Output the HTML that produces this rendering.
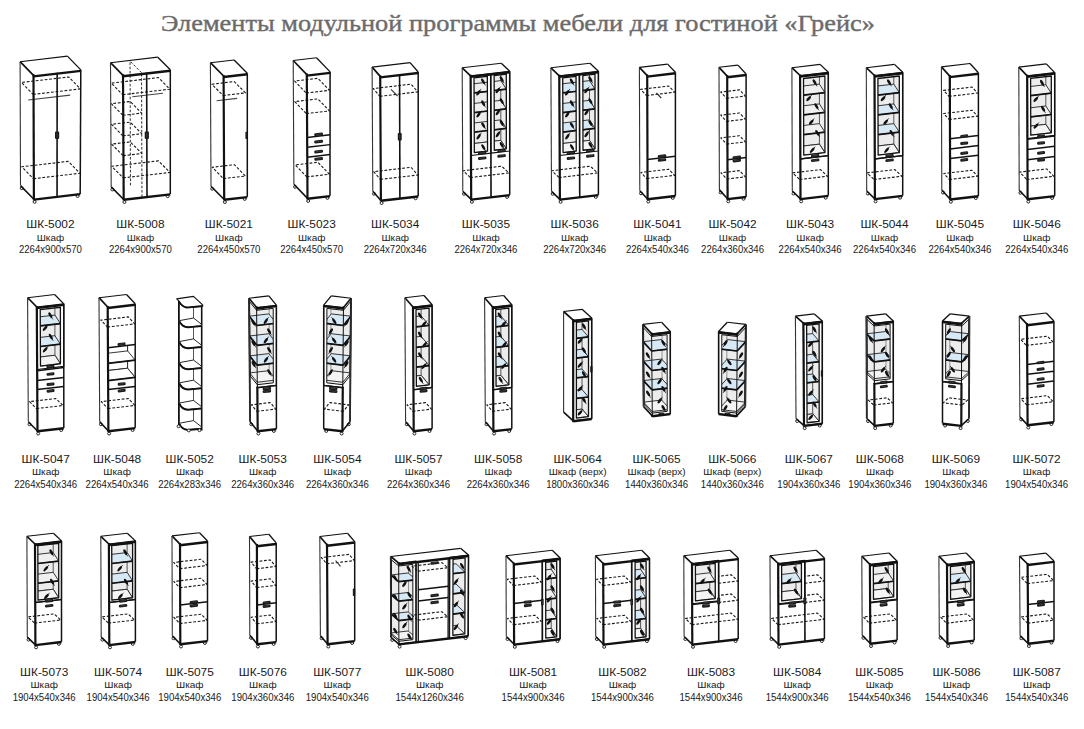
<!DOCTYPE html>
<html><head><meta charset="utf-8"><title>Грейс</title>
<style>html,body{margin:0;padding:0;background:#fff;}svg{display:block;}</style></head>
<body><svg width="1084" height="729" viewBox="0 0 1084 729">
<rect width="1084" height="729" fill="#fff"/>
<text x="161" y="31" font-family="Liberation Serif" font-size="23.5" text-anchor="start" fill="#6b6b6b" font-weight="normal" textLength="714" lengthAdjust="spacingAndGlyphs" stroke="#6b6b6b" stroke-width="0.4">Элементы модульной программы мебели для гостиной «Грейс»</text>
<polygon points="33.9,199.3 33.5,75.4 20.1,61.7 20.5,185.6" fill="#fff" stroke-linejoin="round"/>
<polygon points="33.5,75.4 80.8,69.87 67.4,56.17 20.1,61.7" fill="#fff" stroke-linejoin="round"/>
<polygon points="33.9,199.3 80.2,193.88 80.8,69.87 33.5,75.4" fill="#fff" stroke-linejoin="round"/>
<polygon points="33.16,94.4 80.3,88.88 68.65,76.97 21.5,82.48" fill="none" stroke="#1a1a1a" stroke-width="1.1" stroke-dasharray="2.8 1.7" stroke-linejoin="round"/>
<polygon points="33.43,178.7 79.9,173.26 68.24,161.34 21.77,166.78" fill="none" stroke="#1a1a1a" stroke-width="1.1" stroke-dasharray="2.8 1.7" stroke-linejoin="round"/>
<line x1="28.24" y1="100.02" x2="70.12" y2="95.12" stroke="#444" stroke-width="1.1" stroke-linecap="butt"/>
<line x1="57.05" y1="196.59" x2="57.15" y2="72.63" stroke="#111" stroke-width="1.6" stroke-linecap="butt"/>
<rect x="55" y="131.61" width="4.2" height="7.3" rx="0.8" fill="#1a1a1a"/>
<line x1="57.1" y1="132.81" x2="57.1" y2="137.71" stroke="#555" stroke-width="0.5"/>
<ellipse cx="34.6" cy="201.9" rx="1.5" ry="1.4" fill="#fff" stroke="#111" stroke-width="0.9"/>
<ellipse cx="77.6" cy="196.08" rx="1.5" ry="1.4" fill="#fff" stroke="#111" stroke-width="0.9"/>
<ellipse cx="21.7" cy="188.2" rx="1.5" ry="1.4" fill="#fff" stroke="#111" stroke-width="0.9"/>
<line x1="33.9" y1="199.6" x2="80.2" y2="194.18" stroke="#111" stroke-width="2.4" stroke-linecap="butt"/>
<line x1="33.9" y1="199.3" x2="20.5" y2="185.6" stroke="#111" stroke-width="1.6" stroke-linecap="butt"/>
<line x1="33.9" y1="199.3" x2="33.5" y2="75.4" stroke="#111" stroke-width="2.2" stroke-linecap="square"/>
<line x1="80.2" y1="193.88" x2="80.8" y2="69.87" stroke="#111" stroke-width="1.5" stroke-linecap="butt"/>
<line x1="33.5" y1="76.4" x2="80.8" y2="70.87" stroke="#111" stroke-width="2.4" stroke-linecap="butt"/>
<line x1="33.5" y1="75.4" x2="20.1" y2="61.7" stroke="#111" stroke-width="1.7" stroke-linecap="butt"/>
<line x1="20.1" y1="61.7" x2="67.4" y2="56.17" stroke="#111" stroke-width="1.1" stroke-linecap="butt"/>
<line x1="67.4" y1="56.17" x2="80.8" y2="69.87" stroke="#111" stroke-width="1.3" stroke-linecap="butt"/>
<line x1="20.1" y1="61.7" x2="20.5" y2="185.6" stroke="#333" stroke-width="1.1" stroke-linecap="butt"/>
<text x="50.45" y="227.8" font-family="Liberation Sans" font-size="11.7" text-anchor="middle" fill="#1a1a1a" font-weight="normal" textLength="48.2" lengthAdjust="spacingAndGlyphs">ШК-5002</text>
<text x="50.45" y="240.7" font-family="Liberation Sans" font-size="9.4" text-anchor="middle" fill="#1a1a1a" font-weight="normal" textLength="27.5" lengthAdjust="spacingAndGlyphs">Шкаф</text>
<text x="50.45" y="253.2" font-family="Liberation Sans" font-size="10.1" text-anchor="middle" fill="#1a1a1a" font-weight="normal" textLength="63" lengthAdjust="spacingAndGlyphs">2264x900x570</text>
<polygon points="123.7,199.5 123,75.3 110.5,62.7 111.2,186.9" fill="#fff" stroke-linejoin="round"/>
<polygon points="123,75.3 170.3,69.77 157.8,57.17 110.5,62.7" fill="#fff" stroke-linejoin="round"/>
<polygon points="123.7,199.5 170.3,194.05 170.3,69.77 123,75.3" fill="#fff" stroke-linejoin="round"/>
<polygon points="122.74,94.7 169.93,89.18 158.43,77.59 111.24,83.11" fill="none" stroke="#1a1a1a" stroke-width="1.1" stroke-dasharray="2.8 1.7" stroke-linejoin="round"/>
<polygon points="123.21,177.9 169.93,172.43 158.43,160.84 111.71,166.31" fill="none" stroke="#1a1a1a" stroke-width="1.1" stroke-dasharray="2.8 1.7" stroke-linejoin="round"/>
<polygon points="122.85,115.3 141.68,113.1 130.18,101.51 111.35,103.71" fill="none" stroke="#1a1a1a" stroke-width="1.1" stroke-dasharray="2.8 1.7" stroke-linejoin="round"/>
<polygon points="122.97,135.9 141.75,133.7 130.25,122.11 111.47,124.31" fill="none" stroke="#1a1a1a" stroke-width="1.1" stroke-dasharray="2.8 1.7" stroke-linejoin="round"/>
<polygon points="123.08,155.7 141.82,153.51 130.32,141.92 111.58,144.11" fill="none" stroke="#1a1a1a" stroke-width="1.1" stroke-dasharray="2.8 1.7" stroke-linejoin="round"/>
<line x1="141.97" y1="196.94" x2="141.55" y2="72.71" stroke="#222" stroke-width="0.95" stroke-dasharray="2.6 1.7" stroke-linecap="butt"/>
<line x1="130.47" y1="185.35" x2="130.05" y2="61.12" stroke="#222" stroke-width="0.95" stroke-dasharray="2.6 1.7" stroke-linecap="butt"/>
<line x1="141.55" y1="72.71" x2="130.05" y2="61.12" stroke="#222" stroke-width="0.95" stroke-dasharray="2.6 1.7" stroke-linecap="butt"/>
<line x1="132.3" y1="96.81" x2="162.94" y2="93.22" stroke="#444" stroke-width="1.1" stroke-linecap="butt"/>
<line x1="147" y1="196.77" x2="146.65" y2="72.53" stroke="#111" stroke-width="1.6" stroke-linecap="butt"/>
<rect x="144.73" y="131.6" width="4.2" height="7.3" rx="0.8" fill="#1a1a1a"/>
<line x1="146.83" y1="132.8" x2="146.83" y2="137.7" stroke="#555" stroke-width="0.5"/>
<ellipse cx="124.4" cy="202.1" rx="1.5" ry="1.4" fill="#fff" stroke="#111" stroke-width="0.9"/>
<ellipse cx="167.7" cy="196.25" rx="1.5" ry="1.4" fill="#fff" stroke="#111" stroke-width="0.9"/>
<ellipse cx="112.4" cy="189.5" rx="1.5" ry="1.4" fill="#fff" stroke="#111" stroke-width="0.9"/>
<line x1="123.7" y1="199.8" x2="170.3" y2="194.35" stroke="#111" stroke-width="2.4" stroke-linecap="butt"/>
<line x1="123.7" y1="199.5" x2="111.2" y2="186.9" stroke="#111" stroke-width="1.6" stroke-linecap="butt"/>
<line x1="123.7" y1="199.5" x2="123" y2="75.3" stroke="#111" stroke-width="2.2" stroke-linecap="square"/>
<line x1="170.3" y1="194.05" x2="170.3" y2="69.77" stroke="#111" stroke-width="1.5" stroke-linecap="butt"/>
<line x1="123" y1="76.3" x2="170.3" y2="70.77" stroke="#111" stroke-width="2.4" stroke-linecap="butt"/>
<line x1="123" y1="75.3" x2="110.5" y2="62.7" stroke="#111" stroke-width="1.7" stroke-linecap="butt"/>
<line x1="110.5" y1="62.7" x2="157.8" y2="57.17" stroke="#111" stroke-width="1.1" stroke-linecap="butt"/>
<line x1="157.8" y1="57.17" x2="170.3" y2="69.77" stroke="#111" stroke-width="1.3" stroke-linecap="butt"/>
<line x1="110.5" y1="62.7" x2="111.2" y2="186.9" stroke="#333" stroke-width="1.1" stroke-linecap="butt"/>
<text x="140.4" y="227.8" font-family="Liberation Sans" font-size="11.7" text-anchor="middle" fill="#1a1a1a" font-weight="normal" textLength="48.2" lengthAdjust="spacingAndGlyphs">ШК-5008</text>
<text x="140.4" y="240.7" font-family="Liberation Sans" font-size="9.4" text-anchor="middle" fill="#1a1a1a" font-weight="normal" textLength="27.5" lengthAdjust="spacingAndGlyphs">Шкаф</text>
<text x="140.4" y="253.2" font-family="Liberation Sans" font-size="10.1" text-anchor="middle" fill="#1a1a1a" font-weight="normal" textLength="63" lengthAdjust="spacingAndGlyphs">2264x900x570</text>
<polygon points="224.2,199.5 223.6,76 210.4,62.7 211,186.2" fill="#fff" stroke-linejoin="round"/>
<polygon points="223.6,76 247.3,73.23 234.1,59.93 210.4,62.7" fill="#fff" stroke-linejoin="round"/>
<polygon points="224.2,199.5 247.3,196.8 247.3,73.23 223.6,76" fill="#fff" stroke-linejoin="round"/>
<polygon points="223.04,95.5 245.46,92.88 234.24,81.57 211.82,84.2" fill="none" stroke="#1a1a1a" stroke-width="1.1" stroke-dasharray="2.8 1.7" stroke-linejoin="round"/>
<polygon points="223.44,178.6 245.48,176.02 234.26,164.72 212.22,167.29" fill="none" stroke="#1a1a1a" stroke-width="1.1" stroke-dasharray="2.8 1.7" stroke-linejoin="round"/>
<line x1="216.63" y1="100.82" x2="237.11" y2="98.42" stroke="#444" stroke-width="1.1" stroke-linecap="butt"/>
<rect x="245.4" y="131.74" width="2.4" height="7.2" rx="0.8" fill="#1a1a1a"/>
<line x1="246.6" y1="132.94" x2="246.6" y2="137.74" stroke="#555" stroke-width="0.5"/>
<ellipse cx="224.9" cy="202.1" rx="1.5" ry="1.4" fill="#fff" stroke="#111" stroke-width="0.9"/>
<ellipse cx="244.7" cy="199" rx="1.5" ry="1.4" fill="#fff" stroke="#111" stroke-width="0.9"/>
<ellipse cx="212.2" cy="188.8" rx="1.5" ry="1.4" fill="#fff" stroke="#111" stroke-width="0.9"/>
<line x1="224.2" y1="199.8" x2="247.3" y2="197.1" stroke="#111" stroke-width="2.4" stroke-linecap="butt"/>
<line x1="224.2" y1="199.5" x2="211" y2="186.2" stroke="#111" stroke-width="1.6" stroke-linecap="butt"/>
<line x1="224.2" y1="199.5" x2="223.6" y2="76" stroke="#111" stroke-width="2.2" stroke-linecap="square"/>
<line x1="247.3" y1="196.8" x2="247.3" y2="73.23" stroke="#111" stroke-width="1.5" stroke-linecap="butt"/>
<line x1="223.6" y1="77" x2="247.3" y2="74.23" stroke="#111" stroke-width="2.4" stroke-linecap="butt"/>
<line x1="223.6" y1="76" x2="210.4" y2="62.7" stroke="#111" stroke-width="1.7" stroke-linecap="butt"/>
<line x1="210.4" y1="62.7" x2="234.1" y2="59.93" stroke="#111" stroke-width="1.1" stroke-linecap="butt"/>
<line x1="234.1" y1="59.93" x2="247.3" y2="73.23" stroke="#111" stroke-width="1.3" stroke-linecap="butt"/>
<line x1="210.4" y1="62.7" x2="211" y2="186.2" stroke="#333" stroke-width="1.1" stroke-linecap="butt"/>
<text x="228.85" y="227.8" font-family="Liberation Sans" font-size="11.7" text-anchor="middle" fill="#1a1a1a" font-weight="normal" textLength="48.2" lengthAdjust="spacingAndGlyphs">ШК-5021</text>
<text x="228.85" y="240.7" font-family="Liberation Sans" font-size="9.4" text-anchor="middle" fill="#1a1a1a" font-weight="normal" textLength="27.5" lengthAdjust="spacingAndGlyphs">Шкаф</text>
<text x="228.85" y="253.2" font-family="Liberation Sans" font-size="10.1" text-anchor="middle" fill="#1a1a1a" font-weight="normal" textLength="63" lengthAdjust="spacingAndGlyphs">2264x450x570</text>
<polygon points="307.5,198.4 306.8,74.6 293.2,60.5 293.9,184.3" fill="#fff" stroke-linejoin="round"/>
<polygon points="306.8,74.6 330.1,71.87 316.5,57.77 293.2,60.5" fill="#fff" stroke-linejoin="round"/>
<polygon points="307.5,198.4 330,195.77 330.1,71.87 306.8,74.6" fill="#fff" stroke-linejoin="round"/>
<polygon points="306.23,93 329.4,90.29 317.84,78.3 294.67,81.02" fill="none" stroke="#1a1a1a" stroke-width="1.1" stroke-dasharray="2.8 1.7" stroke-linejoin="round"/>
<polygon points="306.34,113.6 329.39,110.9 317.83,98.92 294.78,101.61" fill="none" stroke="#1a1a1a" stroke-width="1.1" stroke-dasharray="2.8 1.7" stroke-linejoin="round"/>
<polygon points="306.7,176.9 329.34,174.25 317.78,162.27 295.14,164.92" fill="none" stroke="#1a1a1a" stroke-width="1.1" stroke-dasharray="2.8 1.7" stroke-linejoin="round"/>
<line x1="307.16" y1="137.4" x2="330.05" y2="134.72" stroke="#111" stroke-width="1.5" stroke-linecap="butt"/>
<line x1="307.21" y1="147.3" x2="330.04" y2="144.63" stroke="#111" stroke-width="1.5" stroke-linecap="butt"/>
<line x1="307.27" y1="157.2" x2="330.03" y2="154.54" stroke="#111" stroke-width="1.5" stroke-linecap="butt"/>
<g transform="translate(318.6,134.26) rotate(-6.67)"><rect x="-4.4" y="-1.5" width="8.8" height="3" rx="1.2" fill="#1a1a1a"/><line x1="-2.9" y1="-0.2" x2="2.9" y2="-0.2" stroke="#555" stroke-width="0.5"/></g>
<g transform="translate(318.62,141.66) rotate(-6.67)"><rect x="-4.4" y="-1.5" width="8.8" height="3" rx="1.2" fill="#1a1a1a"/><line x1="-2.9" y1="-0.2" x2="2.9" y2="-0.2" stroke="#555" stroke-width="0.5"/></g>
<g transform="translate(318.64,151.57) rotate(-6.67)"><rect x="-4.4" y="-1.5" width="8.8" height="3" rx="1.2" fill="#1a1a1a"/><line x1="-2.9" y1="-0.2" x2="2.9" y2="-0.2" stroke="#555" stroke-width="0.5"/></g>
<g transform="translate(318.66,158.97) rotate(-6.67)"><rect x="-4.4" y="-1.5" width="8.8" height="3" rx="1.2" fill="#1a1a1a"/><line x1="-2.9" y1="-0.2" x2="2.9" y2="-0.2" stroke="#555" stroke-width="0.5"/></g>
<ellipse cx="308.2" cy="201" rx="1.5" ry="1.4" fill="#fff" stroke="#111" stroke-width="0.9"/>
<ellipse cx="327.4" cy="197.97" rx="1.5" ry="1.4" fill="#fff" stroke="#111" stroke-width="0.9"/>
<ellipse cx="295.1" cy="186.9" rx="1.5" ry="1.4" fill="#fff" stroke="#111" stroke-width="0.9"/>
<line x1="307.5" y1="198.7" x2="330" y2="196.07" stroke="#111" stroke-width="2.4" stroke-linecap="butt"/>
<line x1="307.5" y1="198.4" x2="293.9" y2="184.3" stroke="#111" stroke-width="1.6" stroke-linecap="butt"/>
<line x1="307.5" y1="198.4" x2="306.8" y2="74.6" stroke="#111" stroke-width="2.2" stroke-linecap="square"/>
<line x1="330" y1="195.77" x2="330.1" y2="71.87" stroke="#111" stroke-width="1.5" stroke-linecap="butt"/>
<line x1="306.8" y1="75.6" x2="330.1" y2="72.87" stroke="#111" stroke-width="2.4" stroke-linecap="butt"/>
<line x1="306.8" y1="74.6" x2="293.2" y2="60.5" stroke="#111" stroke-width="1.7" stroke-linecap="butt"/>
<line x1="293.2" y1="60.5" x2="316.5" y2="57.77" stroke="#111" stroke-width="1.1" stroke-linecap="butt"/>
<line x1="316.5" y1="57.77" x2="330.1" y2="71.87" stroke="#111" stroke-width="1.3" stroke-linecap="butt"/>
<line x1="293.2" y1="60.5" x2="293.9" y2="184.3" stroke="#333" stroke-width="1.1" stroke-linecap="butt"/>
<text x="311.65" y="227.8" font-family="Liberation Sans" font-size="11.7" text-anchor="middle" fill="#1a1a1a" font-weight="normal" textLength="48.2" lengthAdjust="spacingAndGlyphs">ШК-5023</text>
<text x="311.65" y="240.7" font-family="Liberation Sans" font-size="9.4" text-anchor="middle" fill="#1a1a1a" font-weight="normal" textLength="27.5" lengthAdjust="spacingAndGlyphs">Шкаф</text>
<text x="311.65" y="253.2" font-family="Liberation Sans" font-size="10.1" text-anchor="middle" fill="#1a1a1a" font-weight="normal" textLength="63" lengthAdjust="spacingAndGlyphs">2264x450x570</text>
<polygon points="380.9,200.5 380.2,76.4 372.1,67.1 372.8,191.2" fill="#fff" stroke-linejoin="round"/>
<polygon points="380.2,76.4 418.2,71.95 410.1,62.65 372.1,67.1" fill="#fff" stroke-linejoin="round"/>
<polygon points="380.9,200.5 418.2,196.14 418.2,71.95 380.2,76.4" fill="#fff" stroke-linejoin="round"/>
<polygon points="379.91,96.3 417.8,91.87 411.07,84.15 373.19,88.58" fill="none" stroke="#1a1a1a" stroke-width="1.1" stroke-dasharray="2.8 1.7" stroke-linejoin="round"/>
<polygon points="380.38,179.4 417.8,175.02 411.07,167.3 373.66,171.68" fill="none" stroke="#1a1a1a" stroke-width="1.1" stroke-dasharray="2.8 1.7" stroke-linejoin="round"/>
<line x1="391" y1="89.4" x2="397.6" y2="96" stroke="#333" stroke-width="1.1" stroke-linecap="butt"/>
<line x1="399.92" y1="198.27" x2="399.58" y2="74.13" stroke="#111" stroke-width="1.6" stroke-linecap="butt"/>
<rect x="397.8" y="133.05" width="3.9" height="7.4" rx="0.8" fill="#1a1a1a"/>
<line x1="399.75" y1="134.25" x2="399.75" y2="139.25" stroke="#555" stroke-width="0.5"/>
<ellipse cx="381.6" cy="203.1" rx="1.5" ry="1.4" fill="#fff" stroke="#111" stroke-width="0.9"/>
<ellipse cx="415.6" cy="198.34" rx="1.5" ry="1.4" fill="#fff" stroke="#111" stroke-width="0.9"/>
<ellipse cx="374" cy="193.8" rx="1.5" ry="1.4" fill="#fff" stroke="#111" stroke-width="0.9"/>
<line x1="380.9" y1="200.8" x2="418.2" y2="196.44" stroke="#111" stroke-width="2.4" stroke-linecap="butt"/>
<line x1="380.9" y1="200.5" x2="372.8" y2="191.2" stroke="#111" stroke-width="1.6" stroke-linecap="butt"/>
<line x1="380.9" y1="200.5" x2="380.2" y2="76.4" stroke="#111" stroke-width="2.2" stroke-linecap="square"/>
<line x1="418.2" y1="196.14" x2="418.2" y2="71.95" stroke="#111" stroke-width="1.5" stroke-linecap="butt"/>
<line x1="380.2" y1="77.4" x2="418.2" y2="72.95" stroke="#111" stroke-width="2.4" stroke-linecap="butt"/>
<line x1="380.2" y1="76.4" x2="372.1" y2="67.1" stroke="#111" stroke-width="1.7" stroke-linecap="butt"/>
<line x1="372.1" y1="67.1" x2="410.1" y2="62.65" stroke="#111" stroke-width="1.1" stroke-linecap="butt"/>
<line x1="410.1" y1="62.65" x2="418.2" y2="71.95" stroke="#111" stroke-width="1.3" stroke-linecap="butt"/>
<line x1="372.1" y1="67.1" x2="372.8" y2="191.2" stroke="#333" stroke-width="1.1" stroke-linecap="butt"/>
<text x="395.15" y="227.8" font-family="Liberation Sans" font-size="11.7" text-anchor="middle" fill="#1a1a1a" font-weight="normal" textLength="48.2" lengthAdjust="spacingAndGlyphs">ШК-5034</text>
<text x="395.15" y="240.7" font-family="Liberation Sans" font-size="9.4" text-anchor="middle" fill="#1a1a1a" font-weight="normal" textLength="27.5" lengthAdjust="spacingAndGlyphs">Шкаф</text>
<text x="395.15" y="253.2" font-family="Liberation Sans" font-size="10.1" text-anchor="middle" fill="#1a1a1a" font-weight="normal" textLength="63" lengthAdjust="spacingAndGlyphs">2264x720x346</text>
<polygon points="471.2,199.3 470.6,75.8 462.2,67.8 462.8,191.3" fill="#fff" stroke-linejoin="round"/>
<polygon points="470.6,75.8 509.7,71.23 501.3,63.23 462.2,67.8" fill="#fff" stroke-linejoin="round"/>
<polygon points="471.2,199.3 509.7,194.8 509.7,71.23 470.6,75.8" fill="#fff" stroke-linejoin="round"/>
<polygon points="470.26,177.5 508.86,172.98 501.72,166.18 463.12,170.7" fill="none" stroke="#1a1a1a" stroke-width="1.1" stroke-dasharray="2.8 1.7" stroke-linejoin="round"/>
<polygon points="470.99,155.5 490.92,153.17 490.74,73.44 470.6,75.8" fill="#fff" stroke="#111" stroke-width="1.1" stroke-linejoin="round"/>
<clipPath id="c1"><polygon points="474.34,152.61 487.55,151.06 487.34,76.34 474.01,77.9"/></clipPath>
<g clip-path="url(#c1)">
<polygon points="474.34,152.61 487.55,151.06 487.34,76.34 474.01,77.9" fill="#ececec" stroke-linejoin="round"/>
<polygon points="468.84,144.11 500.83,140.36 500.8,65.62 468.51,69.4" fill="none" stroke="#555" stroke-width="1" stroke-linejoin="round"/>
<line x1="474.34" y1="152.61" x2="468.84" y2="144.11" stroke="#222" stroke-width="0.9" stroke-linecap="butt"/>
<line x1="506.33" y1="148.86" x2="500.83" y2="140.36" stroke="#222" stroke-width="0.9" stroke-linecap="butt"/>
<line x1="506.3" y1="74.12" x2="500.8" y2="65.62" stroke="#222" stroke-width="0.9" stroke-linecap="butt"/>
<line x1="474.01" y1="77.9" x2="468.51" y2="69.4" stroke="#222" stroke-width="0.9" stroke-linecap="butt"/>
<polygon points="474.34,152.61 506.33,148.86 500.83,140.36 468.84,144.11" fill="#f4f4f4" stroke="#222" stroke-width="0.9" stroke-linejoin="round"/>
<polygon points="474.08,92.9 506.31,89.13 500.81,80.63 468.58,84.4" fill="#f0f0f0" stroke="#222" stroke-width="0.9" stroke-linejoin="round"/>
<line x1="474.08" y1="92.9" x2="506.31" y2="89.13" stroke="#111" stroke-width="1.7" stroke-linecap="butt"/>
<polygon points="474.17,112.6 506.32,108.84 500.82,100.34 468.67,104.1" fill="#f0f0f0" stroke="#222" stroke-width="0.9" stroke-linejoin="round"/>
<line x1="474.17" y1="112.6" x2="506.32" y2="108.84" stroke="#111" stroke-width="1.7" stroke-linecap="butt"/>
<polygon points="474.25,132.11 506.32,128.35 500.82,119.85 468.75,123.61" fill="#f0f0f0" stroke="#222" stroke-width="0.9" stroke-linejoin="round"/>
<line x1="474.25" y1="132.11" x2="506.32" y2="128.35" stroke="#111" stroke-width="1.7" stroke-linecap="butt"/>
<g transform="translate(483.09,81.32) rotate(60)"><ellipse cx="0" cy="0" rx="3.2" ry="1.3" fill="#111"/><line x1="2.7" y1="0" x2="4.8" y2="0" stroke="#111" stroke-width="0.7"/></g>
<g transform="translate(478.47,92.83) rotate(-55)"><ellipse cx="0" cy="0" rx="3.2" ry="1.3" fill="#111"/><line x1="2.7" y1="0" x2="4.8" y2="0" stroke="#111" stroke-width="0.7"/></g>
<g transform="translate(483.16,103.24) rotate(60)"><ellipse cx="0" cy="0" rx="3.2" ry="1.3" fill="#111"/><line x1="2.7" y1="0" x2="4.8" y2="0" stroke="#111" stroke-width="0.7"/></g>
<g transform="translate(478.56,114.74) rotate(-55)"><ellipse cx="0" cy="0" rx="3.2" ry="1.3" fill="#111"/><line x1="2.7" y1="0" x2="4.8" y2="0" stroke="#111" stroke-width="0.7"/></g>
<g transform="translate(483.24,125.16) rotate(60)"><ellipse cx="0" cy="0" rx="3.2" ry="1.3" fill="#111"/><line x1="2.7" y1="0" x2="4.8" y2="0" stroke="#111" stroke-width="0.7"/></g>
<g transform="translate(478.64,136.66) rotate(-55)"><ellipse cx="0" cy="0" rx="3.2" ry="1.3" fill="#111"/><line x1="2.7" y1="0" x2="4.8" y2="0" stroke="#111" stroke-width="0.7"/></g>
<g transform="translate(483.31,147.07) rotate(60)"><ellipse cx="0" cy="0" rx="3.2" ry="1.3" fill="#111"/><line x1="2.7" y1="0" x2="4.8" y2="0" stroke="#111" stroke-width="0.7"/></g>
</g>
<polygon points="474.34,152.61 487.55,151.06 487.34,76.34 474.01,77.9" fill="none" stroke="#111" stroke-width="1.3" stroke-linejoin="round"/>
<polygon points="490.92,153.17 509.7,150.97 509.7,71.23 490.74,73.44" fill="#fff" stroke="#111" stroke-width="1.1" stroke-linejoin="round"/>
<clipPath id="c2"><polygon points="494.29,150.27 506.33,148.86 506.3,74.12 494.14,75.55"/></clipPath>
<g clip-path="url(#c2)">
<polygon points="494.29,150.27 506.33,148.86 506.3,74.12 494.14,75.55" fill="#ececec" stroke-linejoin="round"/>
<polygon points="468.84,144.11 500.83,140.36 500.8,65.62 468.51,69.4" fill="none" stroke="#555" stroke-width="1" stroke-linejoin="round"/>
<line x1="474.34" y1="152.61" x2="468.84" y2="144.11" stroke="#222" stroke-width="0.9" stroke-linecap="butt"/>
<line x1="506.33" y1="148.86" x2="500.83" y2="140.36" stroke="#222" stroke-width="0.9" stroke-linecap="butt"/>
<line x1="506.3" y1="74.12" x2="500.8" y2="65.62" stroke="#222" stroke-width="0.9" stroke-linecap="butt"/>
<line x1="474.01" y1="77.9" x2="468.51" y2="69.4" stroke="#222" stroke-width="0.9" stroke-linecap="butt"/>
<polygon points="474.34,152.61 506.33,148.86 500.83,140.36 468.84,144.11" fill="#f4f4f4" stroke="#222" stroke-width="0.9" stroke-linejoin="round"/>
<polygon points="474.08,92.9 506.31,89.13 500.81,80.63 468.58,84.4" fill="#f0f0f0" stroke="#222" stroke-width="0.9" stroke-linejoin="round"/>
<line x1="474.08" y1="92.9" x2="506.31" y2="89.13" stroke="#111" stroke-width="1.7" stroke-linecap="butt"/>
<polygon points="474.17,112.6 506.32,108.84 500.82,100.34 468.67,104.1" fill="#f0f0f0" stroke="#222" stroke-width="0.9" stroke-linejoin="round"/>
<line x1="474.17" y1="112.6" x2="506.32" y2="108.84" stroke="#111" stroke-width="1.7" stroke-linecap="butt"/>
<polygon points="474.25,132.11 506.32,128.35 500.82,119.85 468.75,123.61" fill="#f0f0f0" stroke="#222" stroke-width="0.9" stroke-linejoin="round"/>
<line x1="474.25" y1="132.11" x2="506.32" y2="128.35" stroke="#111" stroke-width="1.7" stroke-linecap="butt"/>
<g transform="translate(501.68,79.15) rotate(60)"><ellipse cx="0" cy="0" rx="3.2" ry="1.3" fill="#111"/><line x1="2.7" y1="0" x2="4.8" y2="0" stroke="#111" stroke-width="0.7"/></g>
<g transform="translate(497.81,90.56) rotate(-55)"><ellipse cx="0" cy="0" rx="3.2" ry="1.3" fill="#111"/><line x1="2.7" y1="0" x2="4.8" y2="0" stroke="#111" stroke-width="0.7"/></g>
<g transform="translate(501.71,101.07) rotate(60)"><ellipse cx="0" cy="0" rx="3.2" ry="1.3" fill="#111"/><line x1="2.7" y1="0" x2="4.8" y2="0" stroke="#111" stroke-width="0.7"/></g>
<g transform="translate(497.84,112.49) rotate(-55)"><ellipse cx="0" cy="0" rx="3.2" ry="1.3" fill="#111"/><line x1="2.7" y1="0" x2="4.8" y2="0" stroke="#111" stroke-width="0.7"/></g>
<g transform="translate(501.73,122.99) rotate(60)"><ellipse cx="0" cy="0" rx="3.2" ry="1.3" fill="#111"/><line x1="2.7" y1="0" x2="4.8" y2="0" stroke="#111" stroke-width="0.7"/></g>
<g transform="translate(497.88,134.41) rotate(-55)"><ellipse cx="0" cy="0" rx="3.2" ry="1.3" fill="#111"/><line x1="2.7" y1="0" x2="4.8" y2="0" stroke="#111" stroke-width="0.7"/></g>
<g transform="translate(501.75,144.91) rotate(60)"><ellipse cx="0" cy="0" rx="3.2" ry="1.3" fill="#111"/><line x1="2.7" y1="0" x2="4.8" y2="0" stroke="#111" stroke-width="0.7"/></g>
</g>
<polygon points="494.29,150.27 506.33,148.86 506.3,74.12 494.14,75.55" fill="none" stroke="#111" stroke-width="1.3" stroke-linejoin="round"/>
<line x1="491.03" y1="196.98" x2="490.74" y2="73.44" stroke="#111" stroke-width="1.6" stroke-linecap="butt"/>
<g transform="translate(482.21,153.09) rotate(-6.67)"><rect x="-4.25" y="-1.4" width="8.5" height="2.8" rx="1.2" fill="#1a1a1a"/><line x1="-2.75" y1="-0.2" x2="2.75" y2="-0.2" stroke="#555" stroke-width="0.5"/></g>
<g transform="translate(482.23,158.19) rotate(-6.67)"><rect x="-4.25" y="-1.45" width="8.5" height="2.9" rx="1.2" fill="#1a1a1a"/><line x1="-2.75" y1="-0.2" x2="2.75" y2="-0.2" stroke="#555" stroke-width="0.5"/></g>
<g transform="translate(501.57,150.82) rotate(-6.67)"><rect x="-4.25" y="-1.4" width="8.5" height="2.8" rx="1.2" fill="#1a1a1a"/><line x1="-2.75" y1="-0.2" x2="2.75" y2="-0.2" stroke="#555" stroke-width="0.5"/></g>
<g transform="translate(501.57,155.92) rotate(-6.67)"><rect x="-4.25" y="-1.45" width="8.5" height="2.9" rx="1.2" fill="#1a1a1a"/><line x1="-2.75" y1="-0.2" x2="2.75" y2="-0.2" stroke="#555" stroke-width="0.5"/></g>
<ellipse cx="471.9" cy="201.9" rx="1.5" ry="1.4" fill="#fff" stroke="#111" stroke-width="0.9"/>
<ellipse cx="507.1" cy="197" rx="1.5" ry="1.4" fill="#fff" stroke="#111" stroke-width="0.9"/>
<ellipse cx="464" cy="193.9" rx="1.5" ry="1.4" fill="#fff" stroke="#111" stroke-width="0.9"/>
<line x1="471.2" y1="199.6" x2="509.7" y2="195.1" stroke="#111" stroke-width="2.4" stroke-linecap="butt"/>
<line x1="471.2" y1="199.3" x2="462.8" y2="191.3" stroke="#111" stroke-width="1.6" stroke-linecap="butt"/>
<line x1="471.2" y1="199.3" x2="470.6" y2="75.8" stroke="#111" stroke-width="2.2" stroke-linecap="square"/>
<line x1="509.7" y1="194.8" x2="509.7" y2="71.23" stroke="#111" stroke-width="1.5" stroke-linecap="butt"/>
<line x1="470.6" y1="76.8" x2="509.7" y2="72.23" stroke="#111" stroke-width="2.4" stroke-linecap="butt"/>
<line x1="470.6" y1="75.8" x2="462.2" y2="67.8" stroke="#111" stroke-width="1.7" stroke-linecap="butt"/>
<line x1="462.2" y1="67.8" x2="501.3" y2="63.23" stroke="#111" stroke-width="1.1" stroke-linecap="butt"/>
<line x1="501.3" y1="63.23" x2="509.7" y2="71.23" stroke="#111" stroke-width="1.3" stroke-linecap="butt"/>
<line x1="462.2" y1="67.8" x2="462.8" y2="191.3" stroke="#333" stroke-width="1.1" stroke-linecap="butt"/>
<text x="485.95" y="227.8" font-family="Liberation Sans" font-size="11.7" text-anchor="middle" fill="#1a1a1a" font-weight="normal" textLength="48.2" lengthAdjust="spacingAndGlyphs">ШК-5035</text>
<text x="485.95" y="240.7" font-family="Liberation Sans" font-size="9.4" text-anchor="middle" fill="#1a1a1a" font-weight="normal" textLength="27.5" lengthAdjust="spacingAndGlyphs">Шкаф</text>
<text x="485.95" y="253.2" font-family="Liberation Sans" font-size="10.1" text-anchor="middle" fill="#1a1a1a" font-weight="normal" textLength="63" lengthAdjust="spacingAndGlyphs">2264x720x346</text>
<polygon points="559.9,199.3 559.3,75.8 550.9,67.8 551.5,191.3" fill="#fff" stroke-linejoin="round"/>
<polygon points="559.3,75.8 598.4,71.23 590,63.23 550.9,67.8" fill="#fff" stroke-linejoin="round"/>
<polygon points="559.9,199.3 598.4,194.8 598.4,71.23 559.3,75.8" fill="#fff" stroke-linejoin="round"/>
<polygon points="558.96,177.5 597.56,172.98 590.42,166.18 551.82,170.7" fill="none" stroke="#1a1a1a" stroke-width="1.1" stroke-dasharray="2.8 1.7" stroke-linejoin="round"/>
<polygon points="559.69,155.5 579.62,153.17 579.44,73.44 559.3,75.8" fill="#fff" stroke="#111" stroke-width="1.1" stroke-linejoin="round"/>
<clipPath id="c3"><polygon points="563.04,152.61 576.25,151.06 576.04,76.34 562.71,77.9"/></clipPath>
<g clip-path="url(#c3)">
<polygon points="563.04,152.61 576.25,151.06 576.04,76.34 562.71,77.9" fill="#ececec" stroke-linejoin="round"/>
<polygon points="557.54,144.11 589.53,140.36 589.5,65.62 557.21,69.4" fill="none" stroke="#555" stroke-width="1" stroke-linejoin="round"/>
<line x1="563.04" y1="152.61" x2="557.54" y2="144.11" stroke="#222" stroke-width="0.9" stroke-linecap="butt"/>
<line x1="595.03" y1="148.86" x2="589.53" y2="140.36" stroke="#222" stroke-width="0.9" stroke-linecap="butt"/>
<line x1="595" y1="74.12" x2="589.5" y2="65.62" stroke="#222" stroke-width="0.9" stroke-linecap="butt"/>
<line x1="562.71" y1="77.9" x2="557.21" y2="69.4" stroke="#222" stroke-width="0.9" stroke-linecap="butt"/>
<polygon points="563.04,152.61 595.03,148.86 589.53,140.36 557.54,144.11" fill="#f4f4f4" stroke="#222" stroke-width="0.9" stroke-linejoin="round"/>
<polygon points="562.78,92.9 595.01,89.13 589.51,80.63 557.28,84.4" fill="#d8e9f6" stroke="#222" stroke-width="0.9" stroke-linejoin="round"/>
<line x1="562.78" y1="92.9" x2="595.01" y2="89.13" stroke="#111" stroke-width="1.7" stroke-linecap="butt"/>
<polygon points="562.87,112.6 595.02,108.84 589.52,100.34 557.37,104.1" fill="#d8e9f6" stroke="#222" stroke-width="0.9" stroke-linejoin="round"/>
<line x1="562.87" y1="112.6" x2="595.02" y2="108.84" stroke="#111" stroke-width="1.7" stroke-linecap="butt"/>
<polygon points="562.95,132.11 595.02,128.35 589.52,119.85 557.45,123.61" fill="#d8e9f6" stroke="#222" stroke-width="0.9" stroke-linejoin="round"/>
<line x1="562.95" y1="132.11" x2="595.02" y2="128.35" stroke="#111" stroke-width="1.7" stroke-linecap="butt"/>
<g transform="translate(571.79,81.32) rotate(60)"><ellipse cx="0" cy="0" rx="3.2" ry="1.3" fill="#111"/><line x1="2.7" y1="0" x2="4.8" y2="0" stroke="#111" stroke-width="0.7"/></g>
<g transform="translate(567.17,92.83) rotate(-55)"><ellipse cx="0" cy="0" rx="3.2" ry="1.3" fill="#111"/><line x1="2.7" y1="0" x2="4.8" y2="0" stroke="#111" stroke-width="0.7"/></g>
<g transform="translate(571.86,103.24) rotate(60)"><ellipse cx="0" cy="0" rx="3.2" ry="1.3" fill="#111"/><line x1="2.7" y1="0" x2="4.8" y2="0" stroke="#111" stroke-width="0.7"/></g>
<g transform="translate(567.26,114.74) rotate(-55)"><ellipse cx="0" cy="0" rx="3.2" ry="1.3" fill="#111"/><line x1="2.7" y1="0" x2="4.8" y2="0" stroke="#111" stroke-width="0.7"/></g>
<g transform="translate(571.94,125.16) rotate(60)"><ellipse cx="0" cy="0" rx="3.2" ry="1.3" fill="#111"/><line x1="2.7" y1="0" x2="4.8" y2="0" stroke="#111" stroke-width="0.7"/></g>
<g transform="translate(567.34,136.66) rotate(-55)"><ellipse cx="0" cy="0" rx="3.2" ry="1.3" fill="#111"/><line x1="2.7" y1="0" x2="4.8" y2="0" stroke="#111" stroke-width="0.7"/></g>
<g transform="translate(572.01,147.07) rotate(60)"><ellipse cx="0" cy="0" rx="3.2" ry="1.3" fill="#111"/><line x1="2.7" y1="0" x2="4.8" y2="0" stroke="#111" stroke-width="0.7"/></g>
</g>
<polygon points="563.04,152.61 576.25,151.06 576.04,76.34 562.71,77.9" fill="none" stroke="#111" stroke-width="1.3" stroke-linejoin="round"/>
<polygon points="579.62,153.17 598.4,150.97 598.4,71.23 579.44,73.44" fill="#fff" stroke="#111" stroke-width="1.1" stroke-linejoin="round"/>
<clipPath id="c4"><polygon points="582.99,150.27 595.03,148.86 595,74.12 582.84,75.55"/></clipPath>
<g clip-path="url(#c4)">
<polygon points="582.99,150.27 595.03,148.86 595,74.12 582.84,75.55" fill="#ececec" stroke-linejoin="round"/>
<polygon points="557.54,144.11 589.53,140.36 589.5,65.62 557.21,69.4" fill="none" stroke="#555" stroke-width="1" stroke-linejoin="round"/>
<line x1="563.04" y1="152.61" x2="557.54" y2="144.11" stroke="#222" stroke-width="0.9" stroke-linecap="butt"/>
<line x1="595.03" y1="148.86" x2="589.53" y2="140.36" stroke="#222" stroke-width="0.9" stroke-linecap="butt"/>
<line x1="595" y1="74.12" x2="589.5" y2="65.62" stroke="#222" stroke-width="0.9" stroke-linecap="butt"/>
<line x1="562.71" y1="77.9" x2="557.21" y2="69.4" stroke="#222" stroke-width="0.9" stroke-linecap="butt"/>
<polygon points="563.04,152.61 595.03,148.86 589.53,140.36 557.54,144.11" fill="#f4f4f4" stroke="#222" stroke-width="0.9" stroke-linejoin="round"/>
<polygon points="562.78,92.9 595.01,89.13 589.51,80.63 557.28,84.4" fill="#d8e9f6" stroke="#222" stroke-width="0.9" stroke-linejoin="round"/>
<line x1="562.78" y1="92.9" x2="595.01" y2="89.13" stroke="#111" stroke-width="1.7" stroke-linecap="butt"/>
<polygon points="562.87,112.6 595.02,108.84 589.52,100.34 557.37,104.1" fill="#d8e9f6" stroke="#222" stroke-width="0.9" stroke-linejoin="round"/>
<line x1="562.87" y1="112.6" x2="595.02" y2="108.84" stroke="#111" stroke-width="1.7" stroke-linecap="butt"/>
<polygon points="562.95,132.11 595.02,128.35 589.52,119.85 557.45,123.61" fill="#d8e9f6" stroke="#222" stroke-width="0.9" stroke-linejoin="round"/>
<line x1="562.95" y1="132.11" x2="595.02" y2="128.35" stroke="#111" stroke-width="1.7" stroke-linecap="butt"/>
<g transform="translate(590.38,79.15) rotate(60)"><ellipse cx="0" cy="0" rx="3.2" ry="1.3" fill="#111"/><line x1="2.7" y1="0" x2="4.8" y2="0" stroke="#111" stroke-width="0.7"/></g>
<g transform="translate(586.51,90.56) rotate(-55)"><ellipse cx="0" cy="0" rx="3.2" ry="1.3" fill="#111"/><line x1="2.7" y1="0" x2="4.8" y2="0" stroke="#111" stroke-width="0.7"/></g>
<g transform="translate(590.41,101.07) rotate(60)"><ellipse cx="0" cy="0" rx="3.2" ry="1.3" fill="#111"/><line x1="2.7" y1="0" x2="4.8" y2="0" stroke="#111" stroke-width="0.7"/></g>
<g transform="translate(586.54,112.49) rotate(-55)"><ellipse cx="0" cy="0" rx="3.2" ry="1.3" fill="#111"/><line x1="2.7" y1="0" x2="4.8" y2="0" stroke="#111" stroke-width="0.7"/></g>
<g transform="translate(590.43,122.99) rotate(60)"><ellipse cx="0" cy="0" rx="3.2" ry="1.3" fill="#111"/><line x1="2.7" y1="0" x2="4.8" y2="0" stroke="#111" stroke-width="0.7"/></g>
<g transform="translate(586.58,134.41) rotate(-55)"><ellipse cx="0" cy="0" rx="3.2" ry="1.3" fill="#111"/><line x1="2.7" y1="0" x2="4.8" y2="0" stroke="#111" stroke-width="0.7"/></g>
<g transform="translate(590.45,144.91) rotate(60)"><ellipse cx="0" cy="0" rx="3.2" ry="1.3" fill="#111"/><line x1="2.7" y1="0" x2="4.8" y2="0" stroke="#111" stroke-width="0.7"/></g>
</g>
<polygon points="582.99,150.27 595.03,148.86 595,74.12 582.84,75.55" fill="none" stroke="#111" stroke-width="1.3" stroke-linejoin="round"/>
<line x1="579.73" y1="196.98" x2="579.44" y2="73.44" stroke="#111" stroke-width="1.6" stroke-linecap="butt"/>
<g transform="translate(570.91,153.09) rotate(-6.67)"><rect x="-4.25" y="-1.4" width="8.5" height="2.8" rx="1.2" fill="#1a1a1a"/><line x1="-2.75" y1="-0.2" x2="2.75" y2="-0.2" stroke="#555" stroke-width="0.5"/></g>
<g transform="translate(570.93,158.19) rotate(-6.67)"><rect x="-4.25" y="-1.45" width="8.5" height="2.9" rx="1.2" fill="#1a1a1a"/><line x1="-2.75" y1="-0.2" x2="2.75" y2="-0.2" stroke="#555" stroke-width="0.5"/></g>
<g transform="translate(590.27,150.82) rotate(-6.67)"><rect x="-4.25" y="-1.4" width="8.5" height="2.8" rx="1.2" fill="#1a1a1a"/><line x1="-2.75" y1="-0.2" x2="2.75" y2="-0.2" stroke="#555" stroke-width="0.5"/></g>
<g transform="translate(590.27,155.92) rotate(-6.67)"><rect x="-4.25" y="-1.45" width="8.5" height="2.9" rx="1.2" fill="#1a1a1a"/><line x1="-2.75" y1="-0.2" x2="2.75" y2="-0.2" stroke="#555" stroke-width="0.5"/></g>
<ellipse cx="560.6" cy="201.9" rx="1.5" ry="1.4" fill="#fff" stroke="#111" stroke-width="0.9"/>
<ellipse cx="595.8" cy="197" rx="1.5" ry="1.4" fill="#fff" stroke="#111" stroke-width="0.9"/>
<ellipse cx="552.7" cy="193.9" rx="1.5" ry="1.4" fill="#fff" stroke="#111" stroke-width="0.9"/>
<line x1="559.9" y1="199.6" x2="598.4" y2="195.1" stroke="#111" stroke-width="2.4" stroke-linecap="butt"/>
<line x1="559.9" y1="199.3" x2="551.5" y2="191.3" stroke="#111" stroke-width="1.6" stroke-linecap="butt"/>
<line x1="559.9" y1="199.3" x2="559.3" y2="75.8" stroke="#111" stroke-width="2.2" stroke-linecap="square"/>
<line x1="598.4" y1="194.8" x2="598.4" y2="71.23" stroke="#111" stroke-width="1.5" stroke-linecap="butt"/>
<line x1="559.3" y1="76.8" x2="598.4" y2="72.23" stroke="#111" stroke-width="2.4" stroke-linecap="butt"/>
<line x1="559.3" y1="75.8" x2="550.9" y2="67.8" stroke="#111" stroke-width="1.7" stroke-linecap="butt"/>
<line x1="550.9" y1="67.8" x2="590" y2="63.23" stroke="#111" stroke-width="1.1" stroke-linecap="butt"/>
<line x1="590" y1="63.23" x2="598.4" y2="71.23" stroke="#111" stroke-width="1.3" stroke-linecap="butt"/>
<line x1="550.9" y1="67.8" x2="551.5" y2="191.3" stroke="#333" stroke-width="1.1" stroke-linecap="butt"/>
<text x="574.65" y="227.8" font-family="Liberation Sans" font-size="11.7" text-anchor="middle" fill="#1a1a1a" font-weight="normal" textLength="48.2" lengthAdjust="spacingAndGlyphs">ШК-5036</text>
<text x="574.65" y="240.7" font-family="Liberation Sans" font-size="9.4" text-anchor="middle" fill="#1a1a1a" font-weight="normal" textLength="27.5" lengthAdjust="spacingAndGlyphs">Шкаф</text>
<text x="574.65" y="253.2" font-family="Liberation Sans" font-size="10.1" text-anchor="middle" fill="#1a1a1a" font-weight="normal" textLength="63" lengthAdjust="spacingAndGlyphs">2264x720x346</text>
<polygon points="647.6,199 647.2,75.6 639.4,67.4 639.8,190.8" fill="#fff" stroke-linejoin="round"/>
<polygon points="647.2,75.6 675.4,72.3 667.6,64.1 639.4,67.4" fill="#fff" stroke-linejoin="round"/>
<polygon points="647.6,199 675.4,195.75 675.4,72.3 647.2,75.6" fill="#fff" stroke-linejoin="round"/>
<polygon points="646.49,95.5 674.62,92.21 668.77,86.06 640.64,89.35" fill="none" stroke="#1a1a1a" stroke-width="1.1" stroke-dasharray="2.8 1.7" stroke-linejoin="round"/>
<polygon points="646.76,178.6 674.62,175.34 668.77,169.19 640.91,172.45" fill="none" stroke="#1a1a1a" stroke-width="1.1" stroke-dasharray="2.8 1.7" stroke-linejoin="round"/>
<line x1="656.4" y1="93" x2="661.3" y2="98" stroke="#333" stroke-width="1.1" stroke-linecap="butt"/>
<line x1="647.47" y1="159.6" x2="675.4" y2="156.33" stroke="#111" stroke-width="1.5" stroke-linecap="butt"/>
<g transform="translate(661.99,156.1) rotate(-6.67)"><rect x="-4.25" y="-1.45" width="8.5" height="2.9" rx="1.2" fill="#1a1a1a"/><line x1="-2.75" y1="-0.2" x2="2.75" y2="-0.2" stroke="#555" stroke-width="0.5"/></g>
<g transform="translate(662,160) rotate(-6.67)"><rect x="-4.25" y="-1.45" width="8.5" height="2.9" rx="1.2" fill="#1a1a1a"/><line x1="-2.75" y1="-0.2" x2="2.75" y2="-0.2" stroke="#555" stroke-width="0.5"/></g>
<ellipse cx="648.3" cy="201.6" rx="1.5" ry="1.4" fill="#fff" stroke="#111" stroke-width="0.9"/>
<ellipse cx="672.8" cy="197.95" rx="1.5" ry="1.4" fill="#fff" stroke="#111" stroke-width="0.9"/>
<ellipse cx="641" cy="193.4" rx="1.5" ry="1.4" fill="#fff" stroke="#111" stroke-width="0.9"/>
<line x1="647.6" y1="199.3" x2="675.4" y2="196.05" stroke="#111" stroke-width="2.4" stroke-linecap="butt"/>
<line x1="647.6" y1="199" x2="639.8" y2="190.8" stroke="#111" stroke-width="1.6" stroke-linecap="butt"/>
<line x1="647.6" y1="199" x2="647.2" y2="75.6" stroke="#111" stroke-width="2.2" stroke-linecap="square"/>
<line x1="675.4" y1="195.75" x2="675.4" y2="72.3" stroke="#111" stroke-width="1.5" stroke-linecap="butt"/>
<line x1="647.2" y1="76.6" x2="675.4" y2="73.3" stroke="#111" stroke-width="2.4" stroke-linecap="butt"/>
<line x1="647.2" y1="75.6" x2="639.4" y2="67.4" stroke="#111" stroke-width="1.7" stroke-linecap="butt"/>
<line x1="639.4" y1="67.4" x2="667.6" y2="64.1" stroke="#111" stroke-width="1.1" stroke-linecap="butt"/>
<line x1="667.6" y1="64.1" x2="675.4" y2="72.3" stroke="#111" stroke-width="1.3" stroke-linecap="butt"/>
<line x1="639.4" y1="67.4" x2="639.8" y2="190.8" stroke="#333" stroke-width="1.1" stroke-linecap="butt"/>
<text x="657.4" y="227.8" font-family="Liberation Sans" font-size="11.7" text-anchor="middle" fill="#1a1a1a" font-weight="normal" textLength="48.2" lengthAdjust="spacingAndGlyphs">ШК-5041</text>
<text x="657.4" y="240.7" font-family="Liberation Sans" font-size="9.4" text-anchor="middle" fill="#1a1a1a" font-weight="normal" textLength="27.5" lengthAdjust="spacingAndGlyphs">Шкаф</text>
<text x="657.4" y="253.2" font-family="Liberation Sans" font-size="10.1" text-anchor="middle" fill="#1a1a1a" font-weight="normal" textLength="63" lengthAdjust="spacingAndGlyphs">2264x540x346</text>
<polygon points="727.6,198.8 727.2,76.2 719,67.3 719.4,189.9" fill="#fff" stroke-linejoin="round"/>
<polygon points="727.2,76.2 746.1,73.99 737.9,65.09 719,67.3" fill="#fff" stroke-linejoin="round"/>
<polygon points="727.6,198.8 746.1,196.64 746.1,73.99 727.2,76.2" fill="#fff" stroke-linejoin="round"/>
<polygon points="726.46,98.3 745.28,96.1 739.54,89.87 720.72,92.07" fill="none" stroke="#1a1a1a" stroke-width="1.1" stroke-dasharray="2.8 1.7" stroke-linejoin="round"/>
<polygon points="726.53,121.4 745.28,119.21 739.54,112.98 720.79,115.17" fill="none" stroke="#1a1a1a" stroke-width="1.1" stroke-dasharray="2.8 1.7" stroke-linejoin="round"/>
<polygon points="726.6,144.1 745.28,141.91 739.54,135.68 720.86,137.87" fill="none" stroke="#1a1a1a" stroke-width="1.1" stroke-dasharray="2.8 1.7" stroke-linejoin="round"/>
<polygon points="726.72,179 745.28,176.83 739.54,170.6 720.98,172.77" fill="none" stroke="#1a1a1a" stroke-width="1.1" stroke-dasharray="2.8 1.7" stroke-linejoin="round"/>
<line x1="727.47" y1="159.7" x2="746.1" y2="157.52" stroke="#111" stroke-width="1.5" stroke-linecap="butt"/>
<g transform="translate(736.78,157.31) rotate(-6.67)"><rect x="-4.25" y="-1.45" width="8.5" height="2.9" rx="1.2" fill="#1a1a1a"/><line x1="-2.75" y1="-0.2" x2="2.75" y2="-0.2" stroke="#555" stroke-width="0.5"/></g>
<g transform="translate(736.79,160.61) rotate(-6.67)"><rect x="-4.25" y="-1.45" width="8.5" height="2.9" rx="1.2" fill="#1a1a1a"/><line x1="-2.75" y1="-0.2" x2="2.75" y2="-0.2" stroke="#555" stroke-width="0.5"/></g>
<ellipse cx="728.3" cy="201.4" rx="1.5" ry="1.4" fill="#fff" stroke="#111" stroke-width="0.9"/>
<ellipse cx="743.5" cy="198.84" rx="1.5" ry="1.4" fill="#fff" stroke="#111" stroke-width="0.9"/>
<ellipse cx="720.6" cy="192.5" rx="1.5" ry="1.4" fill="#fff" stroke="#111" stroke-width="0.9"/>
<line x1="727.6" y1="199.1" x2="746.1" y2="196.94" stroke="#111" stroke-width="2.4" stroke-linecap="butt"/>
<line x1="727.6" y1="198.8" x2="719.4" y2="189.9" stroke="#111" stroke-width="1.6" stroke-linecap="butt"/>
<line x1="727.6" y1="198.8" x2="727.2" y2="76.2" stroke="#111" stroke-width="2.2" stroke-linecap="square"/>
<line x1="746.1" y1="196.64" x2="746.1" y2="73.99" stroke="#111" stroke-width="1.5" stroke-linecap="butt"/>
<line x1="727.2" y1="77.2" x2="746.1" y2="74.99" stroke="#111" stroke-width="2.4" stroke-linecap="butt"/>
<line x1="727.2" y1="76.2" x2="719" y2="67.3" stroke="#111" stroke-width="1.7" stroke-linecap="butt"/>
<line x1="719" y1="67.3" x2="737.9" y2="65.09" stroke="#111" stroke-width="1.1" stroke-linecap="butt"/>
<line x1="737.9" y1="65.09" x2="746.1" y2="73.99" stroke="#111" stroke-width="1.3" stroke-linecap="butt"/>
<line x1="719" y1="67.3" x2="719.4" y2="189.9" stroke="#333" stroke-width="1.1" stroke-linecap="butt"/>
<text x="732.55" y="227.8" font-family="Liberation Sans" font-size="11.7" text-anchor="middle" fill="#1a1a1a" font-weight="normal" textLength="48.2" lengthAdjust="spacingAndGlyphs">ШК-5042</text>
<text x="732.55" y="240.7" font-family="Liberation Sans" font-size="9.4" text-anchor="middle" fill="#1a1a1a" font-weight="normal" textLength="27.5" lengthAdjust="spacingAndGlyphs">Шкаф</text>
<text x="732.55" y="253.2" font-family="Liberation Sans" font-size="10.1" text-anchor="middle" fill="#1a1a1a" font-weight="normal" textLength="63" lengthAdjust="spacingAndGlyphs">2264x360x346</text>
<polygon points="800.5,198.8 800.1,75.5 791.9,67.7 792.3,191" fill="#fff" stroke-linejoin="round"/>
<polygon points="800.1,75.5 828.3,72.2 820.1,64.4 791.9,67.7" fill="#fff" stroke-linejoin="round"/>
<polygon points="800.5,198.8 828.3,195.55 828.3,72.2 800.1,75.5" fill="#fff" stroke-linejoin="round"/>
<polygon points="799.62,179.5 827.48,176.24 820.51,169.61 792.65,172.87" fill="none" stroke="#1a1a1a" stroke-width="1.1" stroke-dasharray="2.8 1.7" stroke-linejoin="round"/>
<polygon points="800.37,158.9 828.3,155.63 828.3,72.2 800.1,75.5" fill="#fff" stroke="#111" stroke-width="1.1" stroke-linejoin="round"/>
<clipPath id="c5"><polygon points="803.73,155.11 824.93,152.63 824.9,76 803.51,78.5"/></clipPath>
<g clip-path="url(#c5)">
<polygon points="803.73,155.11 824.93,152.63 824.9,76 803.51,78.5" fill="#ececec" stroke-linejoin="round"/>
<polygon points="798.23,146.61 819.43,144.13 819.4,67.5 798.01,70" fill="none" stroke="#555" stroke-width="1" stroke-linejoin="round"/>
<line x1="803.73" y1="155.11" x2="798.23" y2="146.61" stroke="#222" stroke-width="0.9" stroke-linecap="butt"/>
<line x1="824.93" y1="152.63" x2="819.43" y2="144.13" stroke="#222" stroke-width="0.9" stroke-linecap="butt"/>
<line x1="824.9" y1="76" x2="819.4" y2="67.5" stroke="#222" stroke-width="0.9" stroke-linecap="butt"/>
<line x1="803.51" y1="78.5" x2="798.01" y2="70" stroke="#222" stroke-width="0.9" stroke-linecap="butt"/>
<polygon points="803.73,155.11 824.93,152.63 819.43,144.13 798.23,146.61" fill="#f4f4f4" stroke="#222" stroke-width="0.9" stroke-linejoin="round"/>
<polygon points="803.56,95.1 824.91,92.61 819.41,84.11 798.06,86.6" fill="#f0f0f0" stroke="#222" stroke-width="0.9" stroke-linejoin="round"/>
<line x1="803.56" y1="95.1" x2="824.91" y2="92.61" stroke="#111" stroke-width="1.7" stroke-linecap="butt"/>
<polygon points="803.61,114.9 824.92,112.41 819.42,103.91 798.11,106.4" fill="#f0f0f0" stroke="#222" stroke-width="0.9" stroke-linejoin="round"/>
<line x1="803.61" y1="114.9" x2="824.92" y2="112.41" stroke="#111" stroke-width="1.7" stroke-linecap="butt"/>
<polygon points="803.67,134.6 824.92,132.12 819.42,123.62 798.17,126.1" fill="#f0f0f0" stroke="#222" stroke-width="0.9" stroke-linejoin="round"/>
<line x1="803.67" y1="134.6" x2="824.92" y2="132.12" stroke="#111" stroke-width="1.7" stroke-linecap="butt"/>
<g transform="translate(814.64,82.18) rotate(60)"><ellipse cx="0" cy="0" rx="3.2" ry="1.3" fill="#111"/><line x1="2.7" y1="0" x2="4.8" y2="0" stroke="#111" stroke-width="0.7"/></g>
<g transform="translate(808.69,98.59) rotate(-50)"><ellipse cx="0" cy="0" rx="3.2" ry="1.3" fill="#111"/><line x1="2.7" y1="0" x2="4.8" y2="0" stroke="#111" stroke-width="0.7"/></g>
<g transform="translate(816.38,106.12) rotate(60)"><ellipse cx="0" cy="0" rx="3.2" ry="1.3" fill="#111"/><line x1="2.7" y1="0" x2="4.8" y2="0" stroke="#111" stroke-width="0.7"/></g>
<g transform="translate(811.3,122.04) rotate(-50)"><ellipse cx="0" cy="0" rx="3.2" ry="1.3" fill="#111"/><line x1="2.7" y1="0" x2="4.8" y2="0" stroke="#111" stroke-width="0.7"/></g>
<g transform="translate(817.27,132.83) rotate(60)"><ellipse cx="0" cy="0" rx="3.2" ry="1.3" fill="#111"/><line x1="2.7" y1="0" x2="4.8" y2="0" stroke="#111" stroke-width="0.7"/></g>
<g transform="translate(812.2,150.28) rotate(-50)"><ellipse cx="0" cy="0" rx="3.2" ry="1.3" fill="#111"/><line x1="2.7" y1="0" x2="4.8" y2="0" stroke="#111" stroke-width="0.7"/></g>
</g>
<polygon points="803.73,155.11 824.93,152.63 824.9,76 803.51,78.5" fill="none" stroke="#111" stroke-width="1.3" stroke-linejoin="round"/>
<line x1="800.37" y1="158.9" x2="828.3" y2="155.63" stroke="#111" stroke-width="1.5" stroke-linecap="butt"/>
<g transform="translate(815.17,155.87) rotate(-6.67)"><rect x="-4.25" y="-1.45" width="8.5" height="2.9" rx="1.2" fill="#1a1a1a"/><line x1="-2.75" y1="-0.2" x2="2.75" y2="-0.2" stroke="#555" stroke-width="0.5"/></g>
<g transform="translate(815.18,160.27) rotate(-6.67)"><rect x="-4.25" y="-1.45" width="8.5" height="2.9" rx="1.2" fill="#1a1a1a"/><line x1="-2.75" y1="-0.2" x2="2.75" y2="-0.2" stroke="#555" stroke-width="0.5"/></g>
<ellipse cx="801.2" cy="201.4" rx="1.5" ry="1.4" fill="#fff" stroke="#111" stroke-width="0.9"/>
<ellipse cx="825.7" cy="197.75" rx="1.5" ry="1.4" fill="#fff" stroke="#111" stroke-width="0.9"/>
<ellipse cx="793.5" cy="193.6" rx="1.5" ry="1.4" fill="#fff" stroke="#111" stroke-width="0.9"/>
<line x1="800.5" y1="199.1" x2="828.3" y2="195.85" stroke="#111" stroke-width="2.4" stroke-linecap="butt"/>
<line x1="800.5" y1="198.8" x2="792.3" y2="191" stroke="#111" stroke-width="1.6" stroke-linecap="butt"/>
<line x1="800.5" y1="198.8" x2="800.1" y2="75.5" stroke="#111" stroke-width="2.2" stroke-linecap="square"/>
<line x1="828.3" y1="195.55" x2="828.3" y2="72.2" stroke="#111" stroke-width="1.5" stroke-linecap="butt"/>
<line x1="800.1" y1="76.5" x2="828.3" y2="73.2" stroke="#111" stroke-width="2.4" stroke-linecap="butt"/>
<line x1="800.1" y1="75.5" x2="791.9" y2="67.7" stroke="#111" stroke-width="1.7" stroke-linecap="butt"/>
<line x1="791.9" y1="67.7" x2="820.1" y2="64.4" stroke="#111" stroke-width="1.1" stroke-linecap="butt"/>
<line x1="820.1" y1="64.4" x2="828.3" y2="72.2" stroke="#111" stroke-width="1.3" stroke-linecap="butt"/>
<line x1="791.9" y1="67.7" x2="792.3" y2="191" stroke="#333" stroke-width="1.1" stroke-linecap="butt"/>
<text x="810.1" y="227.8" font-family="Liberation Sans" font-size="11.7" text-anchor="middle" fill="#1a1a1a" font-weight="normal" textLength="48.2" lengthAdjust="spacingAndGlyphs">ШК-5043</text>
<text x="810.1" y="240.7" font-family="Liberation Sans" font-size="9.4" text-anchor="middle" fill="#1a1a1a" font-weight="normal" textLength="27.5" lengthAdjust="spacingAndGlyphs">Шкаф</text>
<text x="810.1" y="253.2" font-family="Liberation Sans" font-size="10.1" text-anchor="middle" fill="#1a1a1a" font-weight="normal" textLength="63" lengthAdjust="spacingAndGlyphs">2264x540x346</text>
<polygon points="874.9,198.8 874.5,75.5 866.3,67.7 866.7,191" fill="#fff" stroke-linejoin="round"/>
<polygon points="874.5,75.5 902.7,72.2 894.5,64.4 866.3,67.7" fill="#fff" stroke-linejoin="round"/>
<polygon points="874.9,198.8 902.7,195.55 902.7,72.2 874.5,75.5" fill="#fff" stroke-linejoin="round"/>
<polygon points="874.02,179.5 901.88,176.24 894.91,169.61 867.05,172.87" fill="none" stroke="#1a1a1a" stroke-width="1.1" stroke-dasharray="2.8 1.7" stroke-linejoin="round"/>
<polygon points="874.77,158.9 902.7,155.63 902.7,72.2 874.5,75.5" fill="#fff" stroke="#111" stroke-width="1.1" stroke-linejoin="round"/>
<clipPath id="c6"><polygon points="878.13,155.11 899.33,152.63 899.3,76 877.91,78.5"/></clipPath>
<g clip-path="url(#c6)">
<polygon points="878.13,155.11 899.33,152.63 899.3,76 877.91,78.5" fill="#ececec" stroke-linejoin="round"/>
<polygon points="872.63,146.61 893.83,144.13 893.8,67.5 872.41,70" fill="none" stroke="#555" stroke-width="1" stroke-linejoin="round"/>
<line x1="878.13" y1="155.11" x2="872.63" y2="146.61" stroke="#222" stroke-width="0.9" stroke-linecap="butt"/>
<line x1="899.33" y1="152.63" x2="893.83" y2="144.13" stroke="#222" stroke-width="0.9" stroke-linecap="butt"/>
<line x1="899.3" y1="76" x2="893.8" y2="67.5" stroke="#222" stroke-width="0.9" stroke-linecap="butt"/>
<line x1="877.91" y1="78.5" x2="872.41" y2="70" stroke="#222" stroke-width="0.9" stroke-linecap="butt"/>
<polygon points="878.13,155.11 899.33,152.63 893.83,144.13 872.63,146.61" fill="#f4f4f4" stroke="#222" stroke-width="0.9" stroke-linejoin="round"/>
<polygon points="877.96,95.1 899.31,92.61 893.81,84.11 872.46,86.6" fill="#d8e9f6" stroke="#222" stroke-width="0.9" stroke-linejoin="round"/>
<line x1="877.96" y1="95.1" x2="899.31" y2="92.61" stroke="#111" stroke-width="1.7" stroke-linecap="butt"/>
<polygon points="878.01,114.9 899.32,112.41 893.82,103.91 872.51,106.4" fill="#d8e9f6" stroke="#222" stroke-width="0.9" stroke-linejoin="round"/>
<line x1="878.01" y1="114.9" x2="899.32" y2="112.41" stroke="#111" stroke-width="1.7" stroke-linecap="butt"/>
<polygon points="878.07,134.6 899.32,132.12 893.82,123.62 872.57,126.1" fill="#d8e9f6" stroke="#222" stroke-width="0.9" stroke-linejoin="round"/>
<line x1="878.07" y1="134.6" x2="899.32" y2="132.12" stroke="#111" stroke-width="1.7" stroke-linecap="butt"/>
<g transform="translate(889.04,82.18) rotate(60)"><ellipse cx="0" cy="0" rx="3.2" ry="1.3" fill="#111"/><line x1="2.7" y1="0" x2="4.8" y2="0" stroke="#111" stroke-width="0.7"/></g>
<g transform="translate(883.09,98.59) rotate(-50)"><ellipse cx="0" cy="0" rx="3.2" ry="1.3" fill="#111"/><line x1="2.7" y1="0" x2="4.8" y2="0" stroke="#111" stroke-width="0.7"/></g>
<g transform="translate(890.78,106.12) rotate(60)"><ellipse cx="0" cy="0" rx="3.2" ry="1.3" fill="#111"/><line x1="2.7" y1="0" x2="4.8" y2="0" stroke="#111" stroke-width="0.7"/></g>
<g transform="translate(885.7,122.04) rotate(-50)"><ellipse cx="0" cy="0" rx="3.2" ry="1.3" fill="#111"/><line x1="2.7" y1="0" x2="4.8" y2="0" stroke="#111" stroke-width="0.7"/></g>
<g transform="translate(891.67,132.83) rotate(60)"><ellipse cx="0" cy="0" rx="3.2" ry="1.3" fill="#111"/><line x1="2.7" y1="0" x2="4.8" y2="0" stroke="#111" stroke-width="0.7"/></g>
<g transform="translate(886.6,150.28) rotate(-50)"><ellipse cx="0" cy="0" rx="3.2" ry="1.3" fill="#111"/><line x1="2.7" y1="0" x2="4.8" y2="0" stroke="#111" stroke-width="0.7"/></g>
</g>
<polygon points="878.13,155.11 899.33,152.63 899.3,76 877.91,78.5" fill="none" stroke="#111" stroke-width="1.3" stroke-linejoin="round"/>
<line x1="874.77" y1="158.9" x2="902.7" y2="155.63" stroke="#111" stroke-width="1.5" stroke-linecap="butt"/>
<g transform="translate(889.57,155.87) rotate(-6.67)"><rect x="-4.25" y="-1.45" width="8.5" height="2.9" rx="1.2" fill="#1a1a1a"/><line x1="-2.75" y1="-0.2" x2="2.75" y2="-0.2" stroke="#555" stroke-width="0.5"/></g>
<g transform="translate(889.58,160.27) rotate(-6.67)"><rect x="-4.25" y="-1.45" width="8.5" height="2.9" rx="1.2" fill="#1a1a1a"/><line x1="-2.75" y1="-0.2" x2="2.75" y2="-0.2" stroke="#555" stroke-width="0.5"/></g>
<ellipse cx="875.6" cy="201.4" rx="1.5" ry="1.4" fill="#fff" stroke="#111" stroke-width="0.9"/>
<ellipse cx="900.1" cy="197.75" rx="1.5" ry="1.4" fill="#fff" stroke="#111" stroke-width="0.9"/>
<ellipse cx="867.9" cy="193.6" rx="1.5" ry="1.4" fill="#fff" stroke="#111" stroke-width="0.9"/>
<line x1="874.9" y1="199.1" x2="902.7" y2="195.85" stroke="#111" stroke-width="2.4" stroke-linecap="butt"/>
<line x1="874.9" y1="198.8" x2="866.7" y2="191" stroke="#111" stroke-width="1.6" stroke-linecap="butt"/>
<line x1="874.9" y1="198.8" x2="874.5" y2="75.5" stroke="#111" stroke-width="2.2" stroke-linecap="square"/>
<line x1="902.7" y1="195.55" x2="902.7" y2="72.2" stroke="#111" stroke-width="1.5" stroke-linecap="butt"/>
<line x1="874.5" y1="76.5" x2="902.7" y2="73.2" stroke="#111" stroke-width="2.4" stroke-linecap="butt"/>
<line x1="874.5" y1="75.5" x2="866.3" y2="67.7" stroke="#111" stroke-width="1.7" stroke-linecap="butt"/>
<line x1="866.3" y1="67.7" x2="894.5" y2="64.4" stroke="#111" stroke-width="1.1" stroke-linecap="butt"/>
<line x1="894.5" y1="64.4" x2="902.7" y2="72.2" stroke="#111" stroke-width="1.3" stroke-linecap="butt"/>
<line x1="866.3" y1="67.7" x2="866.7" y2="191" stroke="#333" stroke-width="1.1" stroke-linecap="butt"/>
<text x="884.5" y="227.8" font-family="Liberation Sans" font-size="11.7" text-anchor="middle" fill="#1a1a1a" font-weight="normal" textLength="48.2" lengthAdjust="spacingAndGlyphs">ШК-5044</text>
<text x="884.5" y="240.7" font-family="Liberation Sans" font-size="9.4" text-anchor="middle" fill="#1a1a1a" font-weight="normal" textLength="27.5" lengthAdjust="spacingAndGlyphs">Шкаф</text>
<text x="884.5" y="253.2" font-family="Liberation Sans" font-size="10.1" text-anchor="middle" fill="#1a1a1a" font-weight="normal" textLength="63" lengthAdjust="spacingAndGlyphs">2264x540x346</text>
<polygon points="950.2,199.2 949.8,76.1 941.4,66.9 941.8,190" fill="#fff" stroke-linejoin="round"/>
<polygon points="949.8,76.1 978.4,72.75 970,63.55 941.4,66.9" fill="#fff" stroke-linejoin="round"/>
<polygon points="950.2,199.2 978.4,195.9 978.4,72.75 949.8,76.1" fill="#fff" stroke-linejoin="round"/>
<polygon points="949.03,96.4 977.56,93.06 972.1,87.08 943.57,90.42" fill="none" stroke="#1a1a1a" stroke-width="1.1" stroke-dasharray="2.8 1.7" stroke-linejoin="round"/>
<polygon points="949.1,119.5 977.56,116.17 972.1,110.19 943.64,113.52" fill="none" stroke="#1a1a1a" stroke-width="1.1" stroke-dasharray="2.8 1.7" stroke-linejoin="round"/>
<polygon points="949.3,179.5 977.56,176.19 972.1,170.21 943.84,173.52" fill="none" stroke="#1a1a1a" stroke-width="1.1" stroke-dasharray="2.8 1.7" stroke-linejoin="round"/>
<line x1="950" y1="138.8" x2="978.4" y2="135.48" stroke="#111" stroke-width="1.5" stroke-linecap="butt"/>
<line x1="950.04" y1="148.9" x2="978.4" y2="145.58" stroke="#111" stroke-width="1.5" stroke-linecap="butt"/>
<line x1="950.07" y1="158.6" x2="978.4" y2="155.29" stroke="#111" stroke-width="1.5" stroke-linecap="butt"/>
<g transform="translate(964.2,136.14) rotate(-6.67)"><rect x="-4" y="-1.5" width="8" height="3" rx="1.2" fill="#1a1a1a"/><line x1="-2.5" y1="-0.2" x2="2.5" y2="-0.2" stroke="#555" stroke-width="0.5"/></g>
<g transform="translate(964.21,143.24) rotate(-6.67)"><rect x="-4" y="-1.5" width="8" height="3" rx="1.2" fill="#1a1a1a"/><line x1="-2.5" y1="-0.2" x2="2.5" y2="-0.2" stroke="#555" stroke-width="0.5"/></g>
<g transform="translate(964.23,153.14) rotate(-6.67)"><rect x="-4" y="-1.5" width="8" height="3" rx="1.2" fill="#1a1a1a"/><line x1="-2.5" y1="-0.2" x2="2.5" y2="-0.2" stroke="#555" stroke-width="0.5"/></g>
<g transform="translate(964.24,159.94) rotate(-6.67)"><rect x="-4" y="-1.5" width="8" height="3" rx="1.2" fill="#1a1a1a"/><line x1="-2.5" y1="-0.2" x2="2.5" y2="-0.2" stroke="#555" stroke-width="0.5"/></g>
<ellipse cx="950.9" cy="201.8" rx="1.5" ry="1.4" fill="#fff" stroke="#111" stroke-width="0.9"/>
<ellipse cx="975.8" cy="198.1" rx="1.5" ry="1.4" fill="#fff" stroke="#111" stroke-width="0.9"/>
<ellipse cx="943" cy="192.6" rx="1.5" ry="1.4" fill="#fff" stroke="#111" stroke-width="0.9"/>
<line x1="950.2" y1="199.5" x2="978.4" y2="196.2" stroke="#111" stroke-width="2.4" stroke-linecap="butt"/>
<line x1="950.2" y1="199.2" x2="941.8" y2="190" stroke="#111" stroke-width="1.6" stroke-linecap="butt"/>
<line x1="950.2" y1="199.2" x2="949.8" y2="76.1" stroke="#111" stroke-width="2.2" stroke-linecap="square"/>
<line x1="978.4" y1="195.9" x2="978.4" y2="72.75" stroke="#111" stroke-width="1.5" stroke-linecap="butt"/>
<line x1="949.8" y1="77.1" x2="978.4" y2="73.75" stroke="#111" stroke-width="2.4" stroke-linecap="butt"/>
<line x1="949.8" y1="76.1" x2="941.4" y2="66.9" stroke="#111" stroke-width="1.7" stroke-linecap="butt"/>
<line x1="941.4" y1="66.9" x2="970" y2="63.55" stroke="#111" stroke-width="1.1" stroke-linecap="butt"/>
<line x1="970" y1="63.55" x2="978.4" y2="72.75" stroke="#111" stroke-width="1.3" stroke-linecap="butt"/>
<line x1="941.4" y1="66.9" x2="941.8" y2="190" stroke="#333" stroke-width="1.1" stroke-linecap="butt"/>
<text x="959.9" y="227.8" font-family="Liberation Sans" font-size="11.7" text-anchor="middle" fill="#1a1a1a" font-weight="normal" textLength="48.2" lengthAdjust="spacingAndGlyphs">ШК-5045</text>
<text x="959.9" y="240.7" font-family="Liberation Sans" font-size="9.4" text-anchor="middle" fill="#1a1a1a" font-weight="normal" textLength="27.5" lengthAdjust="spacingAndGlyphs">Шкаф</text>
<text x="959.9" y="253.2" font-family="Liberation Sans" font-size="10.1" text-anchor="middle" fill="#1a1a1a" font-weight="normal" textLength="63" lengthAdjust="spacingAndGlyphs">2264x540x346</text>
<polygon points="1027.6,199 1027.2,75.8 1018.8,67.1 1019.2,190.3" fill="#fff" stroke-linejoin="round"/>
<polygon points="1027.2,75.8 1054.7,72.58 1046.3,63.88 1018.8,67.1" fill="#fff" stroke-linejoin="round"/>
<polygon points="1027.6,199 1054.7,195.83 1054.7,72.58 1027.2,75.8" fill="#fff" stroke-linejoin="round"/>
<polygon points="1026.7,179.5 1053.86,176.32 1046.72,168.93 1019.56,172.1" fill="none" stroke="#1a1a1a" stroke-width="1.1" stroke-dasharray="2.8 1.7" stroke-linejoin="round"/>
<polygon points="1027.4,138.6 1054.7,135.41 1054.7,72.58 1027.2,75.8" fill="#fff" stroke="#111" stroke-width="1.1" stroke-linejoin="round"/>
<clipPath id="c7"><polygon points="1030.77,135.21 1051.32,132.8 1051.3,75.98 1030.61,78.4"/></clipPath>
<g clip-path="url(#c7)">
<polygon points="1030.77,135.21 1051.32,132.8 1051.3,75.98 1030.61,78.4" fill="#ececec" stroke-linejoin="round"/>
<polygon points="1025.27,126.71 1045.82,124.3 1045.8,67.48 1025.11,69.9" fill="none" stroke="#555" stroke-width="1" stroke-linejoin="round"/>
<line x1="1030.77" y1="135.21" x2="1025.27" y2="126.71" stroke="#222" stroke-width="0.9" stroke-linecap="butt"/>
<line x1="1051.32" y1="132.8" x2="1045.82" y2="124.3" stroke="#222" stroke-width="0.9" stroke-linecap="butt"/>
<line x1="1051.3" y1="75.98" x2="1045.8" y2="67.48" stroke="#222" stroke-width="0.9" stroke-linecap="butt"/>
<line x1="1030.61" y1="78.4" x2="1025.11" y2="69.9" stroke="#222" stroke-width="0.9" stroke-linecap="butt"/>
<polygon points="1030.77,135.21 1051.32,132.8 1045.82,124.3 1025.27,126.71" fill="#f4f4f4" stroke="#222" stroke-width="0.9" stroke-linejoin="round"/>
<polygon points="1030.66,95.6 1051.31,93.19 1045.81,84.69 1025.16,87.1" fill="#f0f0f0" stroke="#222" stroke-width="0.9" stroke-linejoin="round"/>
<line x1="1030.66" y1="95.6" x2="1051.31" y2="93.19" stroke="#111" stroke-width="1.7" stroke-linecap="butt"/>
<polygon points="1030.72,116.9 1051.32,114.49 1045.82,105.99 1025.22,108.4" fill="#f0f0f0" stroke="#222" stroke-width="0.9" stroke-linejoin="round"/>
<line x1="1030.72" y1="116.9" x2="1051.32" y2="114.49" stroke="#111" stroke-width="1.7" stroke-linecap="butt"/>
<g transform="translate(1042,82.75) rotate(60)"><ellipse cx="0" cy="0" rx="3.2" ry="1.3" fill="#111"/><line x1="2.7" y1="0" x2="4.8" y2="0" stroke="#111" stroke-width="0.7"/></g>
<g transform="translate(1035.83,99.38) rotate(-50)"><ellipse cx="0" cy="0" rx="3.2" ry="1.3" fill="#111"/><line x1="2.7" y1="0" x2="4.8" y2="0" stroke="#111" stroke-width="0.7"/></g>
<g transform="translate(1043.07,108.76) rotate(60)"><ellipse cx="0" cy="0" rx="3.2" ry="1.3" fill="#111"/><line x1="2.7" y1="0" x2="4.8" y2="0" stroke="#111" stroke-width="0.7"/></g>
<g transform="translate(1035.89,126.08) rotate(-50)"><ellipse cx="0" cy="0" rx="3.2" ry="1.3" fill="#111"/><line x1="2.7" y1="0" x2="4.8" y2="0" stroke="#111" stroke-width="0.7"/></g>
</g>
<polygon points="1030.77,135.21 1051.32,132.8 1051.3,75.98 1030.61,78.4" fill="none" stroke="#111" stroke-width="1.3" stroke-linejoin="round"/>
<line x1="1027.41" y1="139.2" x2="1054.7" y2="136.01" stroke="#111" stroke-width="1.5" stroke-linecap="butt"/>
<line x1="1027.44" y1="149.5" x2="1054.7" y2="146.31" stroke="#111" stroke-width="1.5" stroke-linecap="butt"/>
<line x1="1027.47" y1="159.7" x2="1054.7" y2="156.51" stroke="#111" stroke-width="1.5" stroke-linecap="butt"/>
<g transform="translate(1041.05,136.2) rotate(-6.67)"><rect x="-4" y="-1.5" width="8" height="3" rx="1.2" fill="#1a1a1a"/><line x1="-2.5" y1="-0.2" x2="2.5" y2="-0.2" stroke="#555" stroke-width="0.5"/></g>
<g transform="translate(1041.06,143) rotate(-6.67)"><rect x="-4" y="-1.5" width="8" height="3" rx="1.2" fill="#1a1a1a"/><line x1="-2.5" y1="-0.2" x2="2.5" y2="-0.2" stroke="#555" stroke-width="0.5"/></g>
<g transform="translate(1041.08,152.91) rotate(-6.67)"><rect x="-4" y="-1.5" width="8" height="3" rx="1.2" fill="#1a1a1a"/><line x1="-2.5" y1="-0.2" x2="2.5" y2="-0.2" stroke="#555" stroke-width="0.5"/></g>
<g transform="translate(1041.09,160.01) rotate(-6.67)"><rect x="-4" y="-1.5" width="8" height="3" rx="1.2" fill="#1a1a1a"/><line x1="-2.5" y1="-0.2" x2="2.5" y2="-0.2" stroke="#555" stroke-width="0.5"/></g>
<ellipse cx="1028.3" cy="201.6" rx="1.5" ry="1.4" fill="#fff" stroke="#111" stroke-width="0.9"/>
<ellipse cx="1052.1" cy="198.03" rx="1.5" ry="1.4" fill="#fff" stroke="#111" stroke-width="0.9"/>
<ellipse cx="1020.4" cy="192.9" rx="1.5" ry="1.4" fill="#fff" stroke="#111" stroke-width="0.9"/>
<line x1="1027.6" y1="199.3" x2="1054.7" y2="196.13" stroke="#111" stroke-width="2.4" stroke-linecap="butt"/>
<line x1="1027.6" y1="199" x2="1019.2" y2="190.3" stroke="#111" stroke-width="1.6" stroke-linecap="butt"/>
<line x1="1027.6" y1="199" x2="1027.2" y2="75.8" stroke="#111" stroke-width="2.2" stroke-linecap="square"/>
<line x1="1054.7" y1="195.83" x2="1054.7" y2="72.58" stroke="#111" stroke-width="1.5" stroke-linecap="butt"/>
<line x1="1027.2" y1="76.8" x2="1054.7" y2="73.58" stroke="#111" stroke-width="2.4" stroke-linecap="butt"/>
<line x1="1027.2" y1="75.8" x2="1018.8" y2="67.1" stroke="#111" stroke-width="1.7" stroke-linecap="butt"/>
<line x1="1018.8" y1="67.1" x2="1046.3" y2="63.88" stroke="#111" stroke-width="1.1" stroke-linecap="butt"/>
<line x1="1046.3" y1="63.88" x2="1054.7" y2="72.58" stroke="#111" stroke-width="1.3" stroke-linecap="butt"/>
<line x1="1018.8" y1="67.1" x2="1019.2" y2="190.3" stroke="#333" stroke-width="1.1" stroke-linecap="butt"/>
<text x="1036.75" y="227.8" font-family="Liberation Sans" font-size="11.7" text-anchor="middle" fill="#1a1a1a" font-weight="normal" textLength="48.2" lengthAdjust="spacingAndGlyphs">ШК-5046</text>
<text x="1036.75" y="240.7" font-family="Liberation Sans" font-size="9.4" text-anchor="middle" fill="#1a1a1a" font-weight="normal" textLength="27.5" lengthAdjust="spacingAndGlyphs">Шкаф</text>
<text x="1036.75" y="253.2" font-family="Liberation Sans" font-size="10.1" text-anchor="middle" fill="#1a1a1a" font-weight="normal" textLength="63" lengthAdjust="spacingAndGlyphs">2264x540x346</text>
<polygon points="37.5,431 36.8,307 27.6,297.7 28.3,421.7" fill="#fff" stroke-linejoin="round"/>
<polygon points="36.8,307 63.8,303.84 54.6,294.54 27.6,297.7" fill="#fff" stroke-linejoin="round"/>
<polygon points="37.5,431 63.8,427.92 63.8,303.84 36.8,307" fill="#fff" stroke-linejoin="round"/>
<polygon points="36.46,408.6 62.88,405.51 55.98,398.53 29.56,401.62" fill="none" stroke="#1a1a1a" stroke-width="1.1" stroke-dasharray="2.8 1.7" stroke-linejoin="round"/>
<polygon points="37.15,369.5 63.8,366.38 63.8,303.84 36.8,307" fill="#fff" stroke="#111" stroke-width="1.1" stroke-linejoin="round"/>
<clipPath id="c8"><polygon points="40.49,366.11 60.44,363.77 60.4,307.24 40.21,309.6"/></clipPath>
<g clip-path="url(#c8)">
<polygon points="40.49,366.11 60.44,363.77 60.4,307.24 40.21,309.6" fill="#ececec" stroke-linejoin="round"/>
<polygon points="34.99,357.61 54.94,355.27 54.9,298.74 34.71,301.1" fill="none" stroke="#555" stroke-width="1" stroke-linejoin="round"/>
<line x1="40.49" y1="366.11" x2="34.99" y2="357.61" stroke="#222" stroke-width="0.9" stroke-linecap="butt"/>
<line x1="60.44" y1="363.77" x2="54.94" y2="355.27" stroke="#222" stroke-width="0.9" stroke-linecap="butt"/>
<line x1="60.4" y1="307.24" x2="54.9" y2="298.74" stroke="#222" stroke-width="0.9" stroke-linecap="butt"/>
<line x1="40.21" y1="309.6" x2="34.71" y2="301.1" stroke="#222" stroke-width="0.9" stroke-linecap="butt"/>
<polygon points="40.49,366.11 60.44,363.77 54.94,355.27 34.99,357.61" fill="#f4f4f4" stroke="#222" stroke-width="0.9" stroke-linejoin="round"/>
<polygon points="40.3,325.9 60.41,323.55 54.91,315.05 34.8,317.4" fill="#d8e9f6" stroke="#222" stroke-width="0.9" stroke-linejoin="round"/>
<line x1="40.3" y1="325.9" x2="60.41" y2="323.55" stroke="#111" stroke-width="1.7" stroke-linecap="butt"/>
<polygon points="40.4,346.51 60.43,344.16 54.93,335.66 34.9,338.01" fill="#d8e9f6" stroke="#222" stroke-width="0.9" stroke-linejoin="round"/>
<line x1="40.4" y1="346.51" x2="60.43" y2="344.16" stroke="#111" stroke-width="1.7" stroke-linecap="butt"/>
<g transform="translate(50.33,315.2) rotate(60)"><ellipse cx="0" cy="0" rx="3.2" ry="1.3" fill="#111"/><line x1="2.7" y1="0" x2="4.8" y2="0" stroke="#111" stroke-width="0.7"/></g>
<g transform="translate(45.14,328.25) rotate(-50)"><ellipse cx="0" cy="0" rx="3.2" ry="1.3" fill="#111"/><line x1="2.7" y1="0" x2="4.8" y2="0" stroke="#111" stroke-width="0.7"/></g>
<g transform="translate(50.79,336.63) rotate(60)"><ellipse cx="0" cy="0" rx="3.2" ry="1.3" fill="#111"/><line x1="2.7" y1="0" x2="4.8" y2="0" stroke="#111" stroke-width="0.7"/></g>
<g transform="translate(45.22,349.72) rotate(-50)"><ellipse cx="0" cy="0" rx="3.2" ry="1.3" fill="#111"/><line x1="2.7" y1="0" x2="4.8" y2="0" stroke="#111" stroke-width="0.7"/></g>
</g>
<polygon points="40.49,366.11 60.44,363.77 60.4,307.24 40.21,309.6" fill="none" stroke="#111" stroke-width="1.3" stroke-linejoin="round"/>
<line x1="37.16" y1="370.7" x2="63.8" y2="367.58" stroke="#111" stroke-width="1.5" stroke-linecap="butt"/>
<line x1="37.22" y1="380.6" x2="63.8" y2="377.49" stroke="#111" stroke-width="1.5" stroke-linecap="butt"/>
<line x1="37.27" y1="389.6" x2="63.8" y2="386.5" stroke="#111" stroke-width="1.5" stroke-linecap="butt"/>
<g transform="translate(50.47,366.64) rotate(-6.67)"><rect x="-4" y="-1.5" width="8" height="3" rx="1.2" fill="#1a1a1a"/><line x1="-2.5" y1="-0.2" x2="2.5" y2="-0.2" stroke="#555" stroke-width="0.5"/></g>
<g transform="translate(50.49,374.04) rotate(-6.67)"><rect x="-4" y="-1.5" width="8" height="3" rx="1.2" fill="#1a1a1a"/><line x1="-2.5" y1="-0.2" x2="2.5" y2="-0.2" stroke="#555" stroke-width="0.5"/></g>
<g transform="translate(50.52,384.25) rotate(-6.67)"><rect x="-4" y="-1.5" width="8" height="3" rx="1.2" fill="#1a1a1a"/><line x1="-2.5" y1="-0.2" x2="2.5" y2="-0.2" stroke="#555" stroke-width="0.5"/></g>
<g transform="translate(50.54,390.85) rotate(-6.67)"><rect x="-4" y="-1.5" width="8" height="3" rx="1.2" fill="#1a1a1a"/><line x1="-2.5" y1="-0.2" x2="2.5" y2="-0.2" stroke="#555" stroke-width="0.5"/></g>
<ellipse cx="38.2" cy="433.6" rx="1.5" ry="1.4" fill="#fff" stroke="#111" stroke-width="0.9"/>
<ellipse cx="61.2" cy="430.12" rx="1.5" ry="1.4" fill="#fff" stroke="#111" stroke-width="0.9"/>
<ellipse cx="29.5" cy="424.3" rx="1.5" ry="1.4" fill="#fff" stroke="#111" stroke-width="0.9"/>
<line x1="37.5" y1="431.3" x2="63.8" y2="428.22" stroke="#111" stroke-width="2.4" stroke-linecap="butt"/>
<line x1="37.5" y1="431" x2="28.3" y2="421.7" stroke="#111" stroke-width="1.6" stroke-linecap="butt"/>
<line x1="37.5" y1="431" x2="36.8" y2="307" stroke="#111" stroke-width="2.2" stroke-linecap="square"/>
<line x1="63.8" y1="427.92" x2="63.8" y2="303.84" stroke="#111" stroke-width="1.5" stroke-linecap="butt"/>
<line x1="36.8" y1="308" x2="63.8" y2="304.84" stroke="#111" stroke-width="2.4" stroke-linecap="butt"/>
<line x1="36.8" y1="307" x2="27.6" y2="297.7" stroke="#111" stroke-width="1.7" stroke-linecap="butt"/>
<line x1="27.6" y1="297.7" x2="54.6" y2="294.54" stroke="#111" stroke-width="1.1" stroke-linecap="butt"/>
<line x1="54.6" y1="294.54" x2="63.8" y2="303.84" stroke="#111" stroke-width="1.3" stroke-linecap="butt"/>
<line x1="27.6" y1="297.7" x2="28.3" y2="421.7" stroke="#333" stroke-width="1.1" stroke-linecap="butt"/>
<text x="45.7" y="463.1" font-family="Liberation Sans" font-size="11.7" text-anchor="middle" fill="#1a1a1a" font-weight="normal" textLength="48.2" lengthAdjust="spacingAndGlyphs">ШК-5047</text>
<text x="45.7" y="474.7" font-family="Liberation Sans" font-size="9.4" text-anchor="middle" fill="#1a1a1a" font-weight="normal" textLength="27.5" lengthAdjust="spacingAndGlyphs">Шкаф</text>
<text x="45.7" y="487.6" font-family="Liberation Sans" font-size="10.1" text-anchor="middle" fill="#1a1a1a" font-weight="normal" textLength="63" lengthAdjust="spacingAndGlyphs">2264x540x346</text>
<polygon points="108.4,431 107.7,307 99,297.7 99.7,421.7" fill="#fff" stroke-linejoin="round"/>
<polygon points="107.7,307 135.2,303.78 126.5,294.48 99,297.7" fill="#fff" stroke-linejoin="round"/>
<polygon points="108.4,431 135.2,427.86 135.2,303.78 107.7,307" fill="#fff" stroke-linejoin="round"/>
<polygon points="107.38,327.1 134.76,323.9 128.24,316.92 100.86,320.12" fill="none" stroke="#1a1a1a" stroke-width="1.1" stroke-dasharray="2.8 1.7" stroke-linejoin="round"/>
<polygon points="107.84,408.6 134.76,405.45 128.24,398.47 101.32,401.62" fill="none" stroke="#1a1a1a" stroke-width="1.1" stroke-dasharray="2.8 1.7" stroke-linejoin="round"/>
<clipPath id="c9"><polygon points="108.12,380.6 135.2,377.43 135.2,344.51 107.93,347.7"/></clipPath>
<g clip-path="url(#c9)">
<polygon points="108.12,380.6 135.2,377.43 135.2,344.51 107.93,347.7" fill="#fff" stroke-linejoin="round"/>
<polygon points="100.52,371.4 127.6,368.23 127.6,335.31 100.33,338.5" fill="none" stroke="#222" stroke-width="1" stroke-linejoin="round"/>
<line x1="108.12" y1="380.6" x2="100.52" y2="371.4" stroke="#222" stroke-width="0.9" stroke-linecap="butt"/>
<line x1="135.2" y1="377.43" x2="127.6" y2="368.23" stroke="#222" stroke-width="0.9" stroke-linecap="butt"/>
<line x1="135.2" y1="344.51" x2="127.6" y2="335.31" stroke="#222" stroke-width="0.9" stroke-linecap="butt"/>
<line x1="107.93" y1="347.7" x2="100.33" y2="338.5" stroke="#222" stroke-width="0.9" stroke-linecap="butt"/>
<polygon points="108.12,380.6 135.2,377.43 127.6,368.23 100.52,371.4" fill="#fff" stroke="#222" stroke-width="0.9" stroke-linejoin="round"/>
<polygon points="108.02,363.3 135.2,360.12 127.6,350.92 100.42,354.1" fill="#fff" stroke="#222" stroke-width="0.9" stroke-linejoin="round"/>
<line x1="108.02" y1="363.3" x2="135.2" y2="360.12" stroke="#111" stroke-width="1.7" stroke-linecap="butt"/>
</g>
<line x1="107.93" y1="347.7" x2="135.2" y2="344.51" stroke="#111" stroke-width="1.5" stroke-linecap="butt"/>
<line x1="108.12" y1="380.6" x2="135.2" y2="377.43" stroke="#111" stroke-width="1.8" stroke-linecap="butt"/>
<line x1="108.17" y1="389.6" x2="135.2" y2="386.44" stroke="#111" stroke-width="1.5" stroke-linecap="butt"/>
<g transform="translate(121.56,344.2) rotate(-6.67)"><rect x="-4" y="-1.5" width="8" height="3" rx="1.2" fill="#1a1a1a"/><line x1="-2.5" y1="-0.2" x2="2.5" y2="-0.2" stroke="#555" stroke-width="0.5"/></g>
<g transform="translate(121.67,384.02) rotate(-6.67)"><rect x="-4" y="-1.5" width="8" height="3" rx="1.2" fill="#1a1a1a"/><line x1="-2.5" y1="-0.2" x2="2.5" y2="-0.2" stroke="#555" stroke-width="0.5"/></g>
<g transform="translate(121.69,390.62) rotate(-6.67)"><rect x="-4" y="-1.5" width="8" height="3" rx="1.2" fill="#1a1a1a"/><line x1="-2.5" y1="-0.2" x2="2.5" y2="-0.2" stroke="#555" stroke-width="0.5"/></g>
<ellipse cx="109.1" cy="433.6" rx="1.5" ry="1.4" fill="#fff" stroke="#111" stroke-width="0.9"/>
<ellipse cx="132.6" cy="430.06" rx="1.5" ry="1.4" fill="#fff" stroke="#111" stroke-width="0.9"/>
<ellipse cx="100.9" cy="424.3" rx="1.5" ry="1.4" fill="#fff" stroke="#111" stroke-width="0.9"/>
<line x1="108.4" y1="431.3" x2="135.2" y2="428.16" stroke="#111" stroke-width="2.4" stroke-linecap="butt"/>
<line x1="108.4" y1="431" x2="99.7" y2="421.7" stroke="#111" stroke-width="1.6" stroke-linecap="butt"/>
<line x1="108.4" y1="431" x2="107.7" y2="307" stroke="#111" stroke-width="2.2" stroke-linecap="square"/>
<line x1="135.2" y1="427.86" x2="135.2" y2="303.78" stroke="#111" stroke-width="1.5" stroke-linecap="butt"/>
<line x1="107.7" y1="308" x2="135.2" y2="304.78" stroke="#111" stroke-width="2.4" stroke-linecap="butt"/>
<line x1="107.7" y1="307" x2="99" y2="297.7" stroke="#111" stroke-width="1.7" stroke-linecap="butt"/>
<line x1="99" y1="297.7" x2="126.5" y2="294.48" stroke="#111" stroke-width="1.1" stroke-linecap="butt"/>
<line x1="126.5" y1="294.48" x2="135.2" y2="303.78" stroke="#111" stroke-width="1.3" stroke-linecap="butt"/>
<line x1="99" y1="297.7" x2="99.7" y2="421.7" stroke="#333" stroke-width="1.1" stroke-linecap="butt"/>
<text x="117.1" y="463.1" font-family="Liberation Sans" font-size="11.7" text-anchor="middle" fill="#1a1a1a" font-weight="normal" textLength="48.2" lengthAdjust="spacingAndGlyphs">ШК-5048</text>
<text x="117.1" y="474.7" font-family="Liberation Sans" font-size="9.4" text-anchor="middle" fill="#1a1a1a" font-weight="normal" textLength="27.5" lengthAdjust="spacingAndGlyphs">Шкаф</text>
<text x="117.1" y="487.6" font-family="Liberation Sans" font-size="10.1" text-anchor="middle" fill="#1a1a1a" font-weight="normal" textLength="63" lengthAdjust="spacingAndGlyphs">2264x540x346</text>
<polygon points="176.7,298.9 193.5,296.4 202.9,305.1 202,431 180,426 178.5,425" fill="#fff" stroke="none"/>
<line x1="193.5" y1="298" x2="193.5" y2="424" stroke="#555" stroke-width="1"/>
<line x1="178.9" y1="299.5" x2="178.9" y2="425.5" stroke="#111" stroke-width="1.8"/>
<line x1="201.7" y1="305" x2="201.7" y2="430.5" stroke="#111" stroke-width="1.6"/>
<path d="M176.7,298.9 L193.5,296.4 L202.9,305.1 L202.5,306.2 C196,306.8 190,307.6 186.6,307.3 C182.5,306.5 179.8,303.5 178.6,300.8 Z" fill="#fff" stroke="#111" stroke-width="1.1" stroke-linejoin="round"/>
<path d="M178.8,301.2 C180.5,304.5 183,306.8 186.6,307.6 L202.6,306" fill="none" stroke="#111" stroke-width="1.8"/>
<path d="M179.6,320.6 L193.5,318.0 L201.3,324.1 L201.3,325.70000000000005 L188,326.90000000000003 C184,326.6 181,324.6 179.6,321.6 Z" fill="#fff" stroke="#111" stroke-width="0.9" stroke-linejoin="round"/>
<path d="M179.6,321.40000000000003 C181,325.0 184,327.1 188,327.40000000000003 L201.3,326.20000000000005" fill="none" stroke="#111" stroke-width="1.8"/>
<path d="M179.6,341.5 L193.5,338.9 L201.3,345.0 L201.3,346.6 L188,347.8 C184,347.5 181,345.5 179.6,342.5 Z" fill="#fff" stroke="#111" stroke-width="0.9" stroke-linejoin="round"/>
<path d="M179.6,342.3 C181,345.9 184,348.0 188,348.3 L201.3,347.1" fill="none" stroke="#111" stroke-width="1.8"/>
<path d="M179.6,362.6 L193.5,360.0 L201.3,366.1 L201.3,367.70000000000005 L188,368.90000000000003 C184,368.6 181,366.6 179.6,363.6 Z" fill="#fff" stroke="#111" stroke-width="0.9" stroke-linejoin="round"/>
<path d="M179.6,363.40000000000003 C181,367.0 184,369.1 188,369.40000000000003 L201.3,368.20000000000005" fill="none" stroke="#111" stroke-width="1.8"/>
<path d="M179.6,382.8 L193.5,380.2 L201.3,386.3 L201.3,387.90000000000003 L188,389.1 C184,388.8 181,386.8 179.6,383.8 Z" fill="#fff" stroke="#111" stroke-width="0.9" stroke-linejoin="round"/>
<path d="M179.6,383.6 C181,387.2 184,389.3 188,389.6 L201.3,388.40000000000003" fill="none" stroke="#111" stroke-width="1.8"/>
<path d="M179.6,403 L193.5,400.4 L201.3,406.5 L201.3,408.1 L188,409.3 C184,409 181,407 179.6,404 Z" fill="#fff" stroke="#111" stroke-width="0.9" stroke-linejoin="round"/>
<path d="M179.6,403.8 C181,407.4 184,409.5 188,409.8 L201.3,408.6" fill="none" stroke="#111" stroke-width="1.8"/>
<path d="M179.6,423.2 L193.5,420.59999999999997 L201.3,426.7 L201.3,428.3 L188,429.5 C184,429.2 181,427.2 179.6,424.2 Z" fill="#fff" stroke="#111" stroke-width="0.9" stroke-linejoin="round"/>
<path d="M179.6,424.0 C181,427.59999999999997 184,429.7 188,430.0 L201.3,428.8" fill="none" stroke="#111" stroke-width="1.8"/>
<ellipse cx="178.6" cy="426.3" rx="1.5" ry="1.4" fill="#fff" stroke="#111" stroke-width="0.9"/>
<ellipse cx="188.8" cy="430.5" rx="1.5" ry="1.4" fill="#fff" stroke="#111" stroke-width="0.9"/>
<ellipse cx="199.5" cy="430.2" rx="1.5" ry="1.4" fill="#fff" stroke="#111" stroke-width="0.9"/>
<text x="189.7" y="463.1" font-family="Liberation Sans" font-size="11.7" text-anchor="middle" fill="#1a1a1a" font-weight="normal" textLength="48.2" lengthAdjust="spacingAndGlyphs">ШК-5052</text>
<text x="189.7" y="474.7" font-family="Liberation Sans" font-size="9.4" text-anchor="middle" fill="#1a1a1a" font-weight="normal" textLength="27.5" lengthAdjust="spacingAndGlyphs">Шкаф</text>
<text x="189.7" y="487.6" font-family="Liberation Sans" font-size="10.1" text-anchor="middle" fill="#1a1a1a" font-weight="normal" textLength="63" lengthAdjust="spacingAndGlyphs">2264x283x346</text>
<polygon points="257.7,431 256.6,307.5 249,298.2 250.1,421.7" fill="#fff" stroke-linejoin="round"/>
<polygon points="256.6,307.5 276.4,305.18 268.8,295.88 249,298.2" fill="#fff" stroke-linejoin="round"/>
<polygon points="257.7,431 276.4,428.81 276.4,305.18 256.6,307.5" fill="#fff" stroke-linejoin="round"/>
<polygon points="256.77,411.3 275.64,409.09 270.32,402.58 251.45,404.79" fill="none" stroke="#1a1a1a" stroke-width="1.1" stroke-dasharray="2.8 1.7" stroke-linejoin="round"/>
<polygon points="257.31,387.5 276.4,385.27 276.4,305.18 256.6,307.5" fill="#fff" stroke="#111" stroke-width="1.1" stroke-linejoin="round"/>
<polygon points="257.31,387.5 249.71,378.2 249,298.2 256.6,307.5" fill="#fff" stroke-linejoin="round"/>
<clipPath id="c10"><polygon points="249.56,301.65 256.62,310.3 273.2,308.36 273.31,382.83 257.29,384.7 250.22,376.05"/></clipPath>
<g clip-path="url(#c10)">
<polygon points="249.56,301.65 256.62,310.3 273.2,308.36 273.31,382.83 257.29,384.7 250.22,376.05" fill="#ececec" stroke-linejoin="round"/>
<line x1="269.18" y1="299.15" x2="269.18" y2="373.63" stroke="#888" stroke-width="0.9" stroke-linecap="butt"/>
<polygon points="257.27,382.23 276.4,379.99 268.8,370.69 249.67,372.93" fill="#f4f4f4" stroke="#222" stroke-width="0.9" stroke-linejoin="round"/>
<polygon points="256.76,325.5 276.4,323.2 268.8,313.9 249.16,316.2" fill="#d8e9f6" stroke="#222" stroke-width="0.9" stroke-linejoin="round"/>
<line x1="256.76" y1="325.5" x2="276.4" y2="323.2" stroke="#111" stroke-width="1.7" stroke-linecap="butt"/>
<line x1="256.76" y1="325.5" x2="249.16" y2="316.2" stroke="#111" stroke-width="1.7" stroke-linecap="butt"/>
<polygon points="256.94,345.3 276.4,343.02 268.8,333.72 249.34,336" fill="#d8e9f6" stroke="#222" stroke-width="0.9" stroke-linejoin="round"/>
<line x1="256.94" y1="345.3" x2="276.4" y2="343.02" stroke="#111" stroke-width="1.7" stroke-linecap="butt"/>
<line x1="256.94" y1="345.3" x2="249.34" y2="336" stroke="#111" stroke-width="1.7" stroke-linecap="butt"/>
<polygon points="257.11,365.2 276.4,362.94 268.8,353.64 249.51,355.9" fill="#d8e9f6" stroke="#222" stroke-width="0.9" stroke-linejoin="round"/>
<line x1="257.11" y1="365.2" x2="276.4" y2="362.94" stroke="#111" stroke-width="1.7" stroke-linecap="butt"/>
<line x1="257.11" y1="365.2" x2="249.51" y2="355.9" stroke="#111" stroke-width="1.7" stroke-linecap="butt"/>
<g transform="translate(265.8,321.14) rotate(-55)"><ellipse cx="0" cy="0" rx="3.2" ry="1.3" fill="#111"/><line x1="2.7" y1="0" x2="4.8" y2="0" stroke="#111" stroke-width="0.7"/></g>
<g transform="translate(269.13,331.18) rotate(60)"><ellipse cx="0" cy="0" rx="3.2" ry="1.3" fill="#111"/><line x1="2.7" y1="0" x2="4.8" y2="0" stroke="#111" stroke-width="0.7"/></g>
<g transform="translate(265.89,340.5) rotate(-55)"><ellipse cx="0" cy="0" rx="3.2" ry="1.3" fill="#111"/><line x1="2.7" y1="0" x2="4.8" y2="0" stroke="#111" stroke-width="0.7"/></g>
<g transform="translate(269.19,349.79) rotate(60)"><ellipse cx="0" cy="0" rx="3.2" ry="1.3" fill="#111"/><line x1="2.7" y1="0" x2="4.8" y2="0" stroke="#111" stroke-width="0.7"/></g>
<g transform="translate(265.99,359.85) rotate(-55)"><ellipse cx="0" cy="0" rx="3.2" ry="1.3" fill="#111"/><line x1="2.7" y1="0" x2="4.8" y2="0" stroke="#111" stroke-width="0.7"/></g>
<g transform="translate(269.27,372.13) rotate(60)"><ellipse cx="0" cy="0" rx="3.2" ry="1.3" fill="#111"/><line x1="2.7" y1="0" x2="4.8" y2="0" stroke="#111" stroke-width="0.7"/></g>
<g transform="translate(253.24,322.34) rotate(60)"><ellipse cx="0" cy="0" rx="3.2" ry="1.3" fill="#111"/><line x1="2.7" y1="0" x2="4.8" y2="0" stroke="#111" stroke-width="0.7"/></g>
<g transform="translate(253.42,343.18) rotate(60)"><ellipse cx="0" cy="0" rx="3.2" ry="1.3" fill="#111"/><line x1="2.7" y1="0" x2="4.8" y2="0" stroke="#111" stroke-width="0.7"/></g>
<g transform="translate(253.61,364.01) rotate(60)"><ellipse cx="0" cy="0" rx="3.2" ry="1.3" fill="#111"/><line x1="2.7" y1="0" x2="4.8" y2="0" stroke="#111" stroke-width="0.7"/></g>
</g>
<polygon points="249.56,301.65 256.62,310.3 273.2,308.36 273.31,382.83 257.29,384.7 250.22,376.05" fill="none" stroke="#111" stroke-width="1" stroke-linejoin="round"/>
<line x1="257.32" y1="387.8" x2="276.4" y2="385.57" stroke="#111" stroke-width="1.5" stroke-linecap="butt"/>
<g transform="translate(266.87,388.68) rotate(-6.67)"><rect x="-4.25" y="-1.45" width="8.5" height="2.9" rx="1.2" fill="#1a1a1a"/><line x1="-2.75" y1="-0.2" x2="2.75" y2="-0.2" stroke="#555" stroke-width="0.5"/></g>
<g transform="translate(266.88,391.29) rotate(-6.67)"><rect x="-4.25" y="-1.45" width="8.5" height="2.9" rx="1.2" fill="#1a1a1a"/><line x1="-2.75" y1="-0.2" x2="2.75" y2="-0.2" stroke="#555" stroke-width="0.5"/></g>
<ellipse cx="258.4" cy="433.6" rx="1.5" ry="1.4" fill="#fff" stroke="#111" stroke-width="0.9"/>
<ellipse cx="273.8" cy="431.01" rx="1.5" ry="1.4" fill="#fff" stroke="#111" stroke-width="0.9"/>
<ellipse cx="251.3" cy="424.3" rx="1.5" ry="1.4" fill="#fff" stroke="#111" stroke-width="0.9"/>
<line x1="257.7" y1="431.3" x2="276.4" y2="429.11" stroke="#111" stroke-width="2.4" stroke-linecap="butt"/>
<line x1="257.7" y1="431" x2="250.1" y2="421.7" stroke="#111" stroke-width="1.6" stroke-linecap="butt"/>
<line x1="257.7" y1="431" x2="257.32" y2="387.8" stroke="#111" stroke-width="2.2" stroke-linecap="square"/>
<line x1="256.6" y1="307.5" x2="256.6" y2="307.5" stroke="#111" stroke-width="2.2" stroke-linecap="square"/>
<line x1="257.32" y1="387.8" x2="256.6" y2="307.5" stroke="#111" stroke-width="1" stroke-linecap="butt"/>
<line x1="250.1" y1="421.7" x2="249" y2="298.2" stroke="#111" stroke-width="1.8" stroke-linecap="butt"/>
<line x1="276.4" y1="428.81" x2="276.4" y2="305.18" stroke="#111" stroke-width="1.5" stroke-linecap="butt"/>
<line x1="256.6" y1="308.5" x2="276.4" y2="306.18" stroke="#111" stroke-width="2.4" stroke-linecap="butt"/>
<line x1="256.6" y1="307.5" x2="249" y2="298.2" stroke="#111" stroke-width="1.7" stroke-linecap="butt"/>
<line x1="249" y1="298.2" x2="268.8" y2="295.88" stroke="#111" stroke-width="1.1" stroke-linecap="butt"/>
<line x1="268.8" y1="295.88" x2="276.4" y2="305.18" stroke="#111" stroke-width="1.3" stroke-linecap="butt"/>
<line x1="249" y1="298.2" x2="250.1" y2="421.7" stroke="#333" stroke-width="1.1" stroke-linecap="butt"/>
<text x="262.7" y="463.1" font-family="Liberation Sans" font-size="11.7" text-anchor="middle" fill="#1a1a1a" font-weight="normal" textLength="48.2" lengthAdjust="spacingAndGlyphs">ШК-5053</text>
<text x="262.7" y="474.7" font-family="Liberation Sans" font-size="9.4" text-anchor="middle" fill="#1a1a1a" font-weight="normal" textLength="27.5" lengthAdjust="spacingAndGlyphs">Шкаф</text>
<text x="262.7" y="487.6" font-family="Liberation Sans" font-size="10.1" text-anchor="middle" fill="#1a1a1a" font-weight="normal" textLength="63" lengthAdjust="spacingAndGlyphs">2264x360x346</text>
<g transform="matrix(-1 0 0 1 600.1 0)"><polygon points="257.7,431 256.6,307.5 249,298.2 250.1,421.7" fill="#fff" stroke-linejoin="round"/>
<polygon points="256.6,307.5 276.4,305.18 268.8,295.88 249,298.2" fill="#fff" stroke-linejoin="round"/>
<polygon points="257.7,431 276.4,428.81 276.4,305.18 256.6,307.5" fill="#fff" stroke-linejoin="round"/>
<polygon points="256.77,411.3 275.64,409.09 270.32,402.58 251.45,404.79" fill="none" stroke="#1a1a1a" stroke-width="1.1" stroke-dasharray="2.8 1.7" stroke-linejoin="round"/>
<polygon points="257.31,387.5 276.4,385.27 276.4,305.18 256.6,307.5" fill="#fff" stroke="#111" stroke-width="1.1" stroke-linejoin="round"/>
<polygon points="257.31,387.5 249.71,378.2 249,298.2 256.6,307.5" fill="#fff" stroke-linejoin="round"/>
<clipPath id="c11"><polygon points="249.56,301.65 256.62,310.3 273.2,308.36 273.31,382.83 257.29,384.7 250.22,376.05"/></clipPath>
<g clip-path="url(#c11)">
<polygon points="249.56,301.65 256.62,310.3 273.2,308.36 273.31,382.83 257.29,384.7 250.22,376.05" fill="#ececec" stroke-linejoin="round"/>
<line x1="269.18" y1="299.15" x2="269.18" y2="373.63" stroke="#888" stroke-width="0.9" stroke-linecap="butt"/>
<polygon points="257.27,382.23 276.4,379.99 268.8,370.69 249.67,372.93" fill="#f4f4f4" stroke="#222" stroke-width="0.9" stroke-linejoin="round"/>
<polygon points="256.76,325.5 276.4,323.2 268.8,313.9 249.16,316.2" fill="#d8e9f6" stroke="#222" stroke-width="0.9" stroke-linejoin="round"/>
<line x1="256.76" y1="325.5" x2="276.4" y2="323.2" stroke="#111" stroke-width="1.7" stroke-linecap="butt"/>
<line x1="256.76" y1="325.5" x2="249.16" y2="316.2" stroke="#111" stroke-width="1.7" stroke-linecap="butt"/>
<polygon points="256.94,345.3 276.4,343.02 268.8,333.72 249.34,336" fill="#d8e9f6" stroke="#222" stroke-width="0.9" stroke-linejoin="round"/>
<line x1="256.94" y1="345.3" x2="276.4" y2="343.02" stroke="#111" stroke-width="1.7" stroke-linecap="butt"/>
<line x1="256.94" y1="345.3" x2="249.34" y2="336" stroke="#111" stroke-width="1.7" stroke-linecap="butt"/>
<polygon points="257.11,365.2 276.4,362.94 268.8,353.64 249.51,355.9" fill="#d8e9f6" stroke="#222" stroke-width="0.9" stroke-linejoin="round"/>
<line x1="257.11" y1="365.2" x2="276.4" y2="362.94" stroke="#111" stroke-width="1.7" stroke-linecap="butt"/>
<line x1="257.11" y1="365.2" x2="249.51" y2="355.9" stroke="#111" stroke-width="1.7" stroke-linecap="butt"/>
<g transform="translate(265.8,321.14) rotate(-55)"><ellipse cx="0" cy="0" rx="3.2" ry="1.3" fill="#111"/><line x1="2.7" y1="0" x2="4.8" y2="0" stroke="#111" stroke-width="0.7"/></g>
<g transform="translate(269.13,331.18) rotate(60)"><ellipse cx="0" cy="0" rx="3.2" ry="1.3" fill="#111"/><line x1="2.7" y1="0" x2="4.8" y2="0" stroke="#111" stroke-width="0.7"/></g>
<g transform="translate(265.89,340.5) rotate(-55)"><ellipse cx="0" cy="0" rx="3.2" ry="1.3" fill="#111"/><line x1="2.7" y1="0" x2="4.8" y2="0" stroke="#111" stroke-width="0.7"/></g>
<g transform="translate(269.19,349.79) rotate(60)"><ellipse cx="0" cy="0" rx="3.2" ry="1.3" fill="#111"/><line x1="2.7" y1="0" x2="4.8" y2="0" stroke="#111" stroke-width="0.7"/></g>
<g transform="translate(265.99,359.85) rotate(-55)"><ellipse cx="0" cy="0" rx="3.2" ry="1.3" fill="#111"/><line x1="2.7" y1="0" x2="4.8" y2="0" stroke="#111" stroke-width="0.7"/></g>
<g transform="translate(269.27,372.13) rotate(60)"><ellipse cx="0" cy="0" rx="3.2" ry="1.3" fill="#111"/><line x1="2.7" y1="0" x2="4.8" y2="0" stroke="#111" stroke-width="0.7"/></g>
<g transform="translate(253.24,322.34) rotate(60)"><ellipse cx="0" cy="0" rx="3.2" ry="1.3" fill="#111"/><line x1="2.7" y1="0" x2="4.8" y2="0" stroke="#111" stroke-width="0.7"/></g>
<g transform="translate(253.42,343.18) rotate(60)"><ellipse cx="0" cy="0" rx="3.2" ry="1.3" fill="#111"/><line x1="2.7" y1="0" x2="4.8" y2="0" stroke="#111" stroke-width="0.7"/></g>
<g transform="translate(253.61,364.01) rotate(60)"><ellipse cx="0" cy="0" rx="3.2" ry="1.3" fill="#111"/><line x1="2.7" y1="0" x2="4.8" y2="0" stroke="#111" stroke-width="0.7"/></g>
</g>
<polygon points="249.56,301.65 256.62,310.3 273.2,308.36 273.31,382.83 257.29,384.7 250.22,376.05" fill="none" stroke="#111" stroke-width="1" stroke-linejoin="round"/>
<line x1="257.32" y1="387.8" x2="276.4" y2="385.57" stroke="#111" stroke-width="1.5" stroke-linecap="butt"/>
<g transform="translate(266.87,388.68) rotate(-6.67)"><rect x="-4.25" y="-1.45" width="8.5" height="2.9" rx="1.2" fill="#1a1a1a"/><line x1="-2.75" y1="-0.2" x2="2.75" y2="-0.2" stroke="#555" stroke-width="0.5"/></g>
<g transform="translate(266.88,391.29) rotate(-6.67)"><rect x="-4.25" y="-1.45" width="8.5" height="2.9" rx="1.2" fill="#1a1a1a"/><line x1="-2.75" y1="-0.2" x2="2.75" y2="-0.2" stroke="#555" stroke-width="0.5"/></g>
<ellipse cx="258.4" cy="433.6" rx="1.5" ry="1.4" fill="#fff" stroke="#111" stroke-width="0.9"/>
<ellipse cx="273.8" cy="431.01" rx="1.5" ry="1.4" fill="#fff" stroke="#111" stroke-width="0.9"/>
<ellipse cx="251.3" cy="424.3" rx="1.5" ry="1.4" fill="#fff" stroke="#111" stroke-width="0.9"/>
<line x1="257.7" y1="431.3" x2="276.4" y2="429.11" stroke="#111" stroke-width="2.4" stroke-linecap="butt"/>
<line x1="257.7" y1="431" x2="250.1" y2="421.7" stroke="#111" stroke-width="1.6" stroke-linecap="butt"/>
<line x1="257.7" y1="431" x2="257.32" y2="387.8" stroke="#111" stroke-width="2.2" stroke-linecap="square"/>
<line x1="256.6" y1="307.5" x2="256.6" y2="307.5" stroke="#111" stroke-width="2.2" stroke-linecap="square"/>
<line x1="257.32" y1="387.8" x2="256.6" y2="307.5" stroke="#111" stroke-width="1" stroke-linecap="butt"/>
<line x1="250.1" y1="421.7" x2="249" y2="298.2" stroke="#111" stroke-width="1.8" stroke-linecap="butt"/>
<line x1="276.4" y1="428.81" x2="276.4" y2="305.18" stroke="#111" stroke-width="1.5" stroke-linecap="butt"/>
<line x1="256.6" y1="308.5" x2="276.4" y2="306.18" stroke="#111" stroke-width="2.4" stroke-linecap="butt"/>
<line x1="256.6" y1="307.5" x2="249" y2="298.2" stroke="#111" stroke-width="1.7" stroke-linecap="butt"/>
<line x1="249" y1="298.2" x2="268.8" y2="295.88" stroke="#111" stroke-width="1.1" stroke-linecap="butt"/>
<line x1="268.8" y1="295.88" x2="276.4" y2="305.18" stroke="#111" stroke-width="1.3" stroke-linecap="butt"/>
<line x1="249" y1="298.2" x2="250.1" y2="421.7" stroke="#333" stroke-width="1.1" stroke-linecap="butt"/></g>
<text x="337.4" y="463.1" font-family="Liberation Sans" font-size="11.7" text-anchor="middle" fill="#1a1a1a" font-weight="normal" textLength="48.2" lengthAdjust="spacingAndGlyphs">ШК-5054</text>
<text x="337.4" y="474.7" font-family="Liberation Sans" font-size="9.4" text-anchor="middle" fill="#1a1a1a" font-weight="normal" textLength="27.5" lengthAdjust="spacingAndGlyphs">Шкаф</text>
<text x="337.4" y="487.6" font-family="Liberation Sans" font-size="10.1" text-anchor="middle" fill="#1a1a1a" font-weight="normal" textLength="63" lengthAdjust="spacingAndGlyphs">2264x360x346</text>
<polygon points="413.7,431 413,307 404.9,297.7 405.6,421.7" fill="#fff" stroke-linejoin="round"/>
<polygon points="413,307 432.1,304.77 424,295.47 404.9,297.7" fill="#fff" stroke-linejoin="round"/>
<polygon points="413.7,431 432.1,428.85 432.1,304.77 413,307" fill="#fff" stroke-linejoin="round"/>
<polygon points="412.78,411.3 431.29,409.13 425.62,402.62 407.11,404.79" fill="none" stroke="#1a1a1a" stroke-width="1.1" stroke-dasharray="2.8 1.7" stroke-linejoin="round"/>
<polygon points="413.47,389.7 432.1,387.52 432.1,304.77 413,307" fill="#fff" stroke="#111" stroke-width="1.1" stroke-linejoin="round"/>
<clipPath id="c12"><polygon points="416.38,386.36 429.17,384.86 429.1,308.12 416.01,309.65"/></clipPath>
<g clip-path="url(#c12)">
<polygon points="416.38,386.36 429.17,384.86 429.1,308.12 416.01,309.65" fill="#ececec" stroke-linejoin="round"/>
<polygon points="408.38,376.86 421.17,375.36 421.1,298.62 408.01,300.15" fill="none" stroke="#555" stroke-width="1" stroke-linejoin="round"/>
<line x1="416.38" y1="386.36" x2="408.38" y2="376.86" stroke="#222" stroke-width="0.9" stroke-linecap="butt"/>
<line x1="429.17" y1="384.86" x2="421.17" y2="375.36" stroke="#222" stroke-width="0.9" stroke-linecap="butt"/>
<line x1="429.1" y1="308.12" x2="421.1" y2="298.62" stroke="#222" stroke-width="0.9" stroke-linecap="butt"/>
<line x1="416.01" y1="309.65" x2="408.01" y2="300.15" stroke="#222" stroke-width="0.9" stroke-linecap="butt"/>
<polygon points="416.38,386.36 429.17,384.86 421.17,375.36 408.38,376.86" fill="#f4f4f4" stroke="#222" stroke-width="0.9" stroke-linejoin="round"/>
<polygon points="416.1,326.85 429.12,325.33 421.12,315.83 408.1,317.35" fill="#f0f0f0" stroke="#222" stroke-width="0.9" stroke-linejoin="round"/>
<line x1="416.1" y1="326.85" x2="429.12" y2="325.33" stroke="#111" stroke-width="1.7" stroke-linecap="butt"/>
<polygon points="416.19,347.35 429.14,345.84 421.14,336.34 408.19,337.85" fill="#f0f0f0" stroke="#222" stroke-width="0.9" stroke-linejoin="round"/>
<line x1="416.19" y1="347.35" x2="429.14" y2="345.84" stroke="#111" stroke-width="1.7" stroke-linecap="butt"/>
<polygon points="416.29,367.16 429.15,365.65 421.15,356.15 408.29,357.66" fill="#f0f0f0" stroke="#222" stroke-width="0.9" stroke-linejoin="round"/>
<line x1="416.29" y1="367.16" x2="429.15" y2="365.65" stroke="#111" stroke-width="1.7" stroke-linecap="butt"/>
<g transform="translate(419.96,315.33) rotate(60)"><ellipse cx="0" cy="0" rx="3.2" ry="1.3" fill="#111"/><line x1="2.7" y1="0" x2="4.8" y2="0" stroke="#111" stroke-width="0.7"/></g>
<g transform="translate(423.9,324.08) rotate(-50)"><ellipse cx="0" cy="0" rx="3.2" ry="1.3" fill="#111"/><line x1="2.7" y1="0" x2="4.8" y2="0" stroke="#111" stroke-width="0.7"/></g>
<g transform="translate(420.03,334.51) rotate(60)"><ellipse cx="0" cy="0" rx="3.2" ry="1.3" fill="#111"/><line x1="2.7" y1="0" x2="4.8" y2="0" stroke="#111" stroke-width="0.7"/></g>
<g transform="translate(424.6,344.72) rotate(-50)"><ellipse cx="0" cy="0" rx="3.2" ry="1.3" fill="#111"/><line x1="2.7" y1="0" x2="4.8" y2="0" stroke="#111" stroke-width="0.7"/></g>
<g transform="translate(420.11,355.22) rotate(60)"><ellipse cx="0" cy="0" rx="3.2" ry="1.3" fill="#111"/><line x1="2.7" y1="0" x2="4.8" y2="0" stroke="#111" stroke-width="0.7"/></g>
<g transform="translate(424.01,366.28) rotate(-50)"><ellipse cx="0" cy="0" rx="3.2" ry="1.3" fill="#111"/><line x1="2.7" y1="0" x2="4.8" y2="0" stroke="#111" stroke-width="0.7"/></g>
<g transform="translate(420.84,379.7) rotate(60)"><ellipse cx="0" cy="0" rx="3.2" ry="1.3" fill="#111"/><line x1="2.7" y1="0" x2="4.8" y2="0" stroke="#111" stroke-width="0.7"/></g>
</g>
<polygon points="416.38,386.36 429.17,384.86 429.1,308.12 416.01,309.65" fill="none" stroke="#111" stroke-width="1.3" stroke-linejoin="round"/>
<line x1="413.47" y1="389.7" x2="432.1" y2="387.52" stroke="#111" stroke-width="1.5" stroke-linecap="butt"/>
<g transform="translate(423.53,388.42) rotate(-6.67)"><rect x="-4" y="-1.45" width="8" height="2.9" rx="1.2" fill="#1a1a1a"/><line x1="-2.5" y1="-0.2" x2="2.5" y2="-0.2" stroke="#555" stroke-width="0.5"/></g>
<g transform="translate(423.54,391.02) rotate(-6.67)"><rect x="-4" y="-1.45" width="8" height="2.9" rx="1.2" fill="#1a1a1a"/><line x1="-2.5" y1="-0.2" x2="2.5" y2="-0.2" stroke="#555" stroke-width="0.5"/></g>
<ellipse cx="414.4" cy="433.6" rx="1.5" ry="1.4" fill="#fff" stroke="#111" stroke-width="0.9"/>
<ellipse cx="429.5" cy="431.05" rx="1.5" ry="1.4" fill="#fff" stroke="#111" stroke-width="0.9"/>
<ellipse cx="406.8" cy="424.3" rx="1.5" ry="1.4" fill="#fff" stroke="#111" stroke-width="0.9"/>
<line x1="413.7" y1="431.3" x2="432.1" y2="429.15" stroke="#111" stroke-width="2.4" stroke-linecap="butt"/>
<line x1="413.7" y1="431" x2="405.6" y2="421.7" stroke="#111" stroke-width="1.6" stroke-linecap="butt"/>
<line x1="413.7" y1="431" x2="413" y2="307" stroke="#111" stroke-width="2.2" stroke-linecap="square"/>
<line x1="432.1" y1="428.85" x2="432.1" y2="304.77" stroke="#111" stroke-width="1.5" stroke-linecap="butt"/>
<line x1="413" y1="308" x2="432.1" y2="305.77" stroke="#111" stroke-width="2.4" stroke-linecap="butt"/>
<line x1="413" y1="307" x2="404.9" y2="297.7" stroke="#111" stroke-width="1.7" stroke-linecap="butt"/>
<line x1="404.9" y1="297.7" x2="424" y2="295.47" stroke="#111" stroke-width="1.1" stroke-linecap="butt"/>
<line x1="424" y1="295.47" x2="432.1" y2="304.77" stroke="#111" stroke-width="1.3" stroke-linecap="butt"/>
<line x1="404.9" y1="297.7" x2="405.6" y2="421.7" stroke="#333" stroke-width="1.1" stroke-linecap="butt"/>
<text x="418.5" y="463.1" font-family="Liberation Sans" font-size="11.7" text-anchor="middle" fill="#1a1a1a" font-weight="normal" textLength="48.2" lengthAdjust="spacingAndGlyphs">ШК-5057</text>
<text x="418.5" y="474.7" font-family="Liberation Sans" font-size="9.4" text-anchor="middle" fill="#1a1a1a" font-weight="normal" textLength="27.5" lengthAdjust="spacingAndGlyphs">Шкаф</text>
<text x="418.5" y="487.6" font-family="Liberation Sans" font-size="10.1" text-anchor="middle" fill="#1a1a1a" font-weight="normal" textLength="63" lengthAdjust="spacingAndGlyphs">2264x360x346</text>
<polygon points="493.4,431 492.7,307 484.6,297.7 485.3,421.7" fill="#fff" stroke-linejoin="round"/>
<polygon points="492.7,307 511.8,304.77 503.7,295.47 484.6,297.7" fill="#fff" stroke-linejoin="round"/>
<polygon points="493.4,431 511.8,428.85 511.8,304.77 492.7,307" fill="#fff" stroke-linejoin="round"/>
<polygon points="492.48,411.3 510.99,409.13 505.32,402.62 486.81,404.79" fill="none" stroke="#1a1a1a" stroke-width="1.1" stroke-dasharray="2.8 1.7" stroke-linejoin="round"/>
<polygon points="493.17,389.7 511.8,387.52 511.8,304.77 492.7,307" fill="#fff" stroke="#111" stroke-width="1.1" stroke-linejoin="round"/>
<clipPath id="c13"><polygon points="496.08,386.36 508.87,384.86 508.8,308.12 495.71,309.65"/></clipPath>
<g clip-path="url(#c13)">
<polygon points="496.08,386.36 508.87,384.86 508.8,308.12 495.71,309.65" fill="#ececec" stroke-linejoin="round"/>
<polygon points="488.08,376.86 500.87,375.36 500.8,298.62 487.71,300.15" fill="none" stroke="#555" stroke-width="1" stroke-linejoin="round"/>
<line x1="496.08" y1="386.36" x2="488.08" y2="376.86" stroke="#222" stroke-width="0.9" stroke-linecap="butt"/>
<line x1="508.87" y1="384.86" x2="500.87" y2="375.36" stroke="#222" stroke-width="0.9" stroke-linecap="butt"/>
<line x1="508.8" y1="308.12" x2="500.8" y2="298.62" stroke="#222" stroke-width="0.9" stroke-linecap="butt"/>
<line x1="495.71" y1="309.65" x2="487.71" y2="300.15" stroke="#222" stroke-width="0.9" stroke-linecap="butt"/>
<polygon points="496.08,386.36 508.87,384.86 500.87,375.36 488.08,376.86" fill="#f4f4f4" stroke="#222" stroke-width="0.9" stroke-linejoin="round"/>
<polygon points="495.8,326.85 508.82,325.33 500.82,315.83 487.8,317.35" fill="#d8e9f6" stroke="#222" stroke-width="0.9" stroke-linejoin="round"/>
<line x1="495.8" y1="326.85" x2="508.82" y2="325.33" stroke="#111" stroke-width="1.7" stroke-linecap="butt"/>
<polygon points="495.89,347.35 508.84,345.84 500.84,336.34 487.89,337.85" fill="#d8e9f6" stroke="#222" stroke-width="0.9" stroke-linejoin="round"/>
<line x1="495.89" y1="347.35" x2="508.84" y2="345.84" stroke="#111" stroke-width="1.7" stroke-linecap="butt"/>
<polygon points="495.99,367.16 508.85,365.65 500.85,356.15 487.99,357.66" fill="#d8e9f6" stroke="#222" stroke-width="0.9" stroke-linejoin="round"/>
<line x1="495.99" y1="367.16" x2="508.85" y2="365.65" stroke="#111" stroke-width="1.7" stroke-linecap="butt"/>
<g transform="translate(499.66,315.33) rotate(60)"><ellipse cx="0" cy="0" rx="3.2" ry="1.3" fill="#111"/><line x1="2.7" y1="0" x2="4.8" y2="0" stroke="#111" stroke-width="0.7"/></g>
<g transform="translate(503.6,324.08) rotate(-50)"><ellipse cx="0" cy="0" rx="3.2" ry="1.3" fill="#111"/><line x1="2.7" y1="0" x2="4.8" y2="0" stroke="#111" stroke-width="0.7"/></g>
<g transform="translate(499.73,334.51) rotate(60)"><ellipse cx="0" cy="0" rx="3.2" ry="1.3" fill="#111"/><line x1="2.7" y1="0" x2="4.8" y2="0" stroke="#111" stroke-width="0.7"/></g>
<g transform="translate(504.3,344.72) rotate(-50)"><ellipse cx="0" cy="0" rx="3.2" ry="1.3" fill="#111"/><line x1="2.7" y1="0" x2="4.8" y2="0" stroke="#111" stroke-width="0.7"/></g>
<g transform="translate(499.81,355.22) rotate(60)"><ellipse cx="0" cy="0" rx="3.2" ry="1.3" fill="#111"/><line x1="2.7" y1="0" x2="4.8" y2="0" stroke="#111" stroke-width="0.7"/></g>
<g transform="translate(503.71,366.28) rotate(-50)"><ellipse cx="0" cy="0" rx="3.2" ry="1.3" fill="#111"/><line x1="2.7" y1="0" x2="4.8" y2="0" stroke="#111" stroke-width="0.7"/></g>
<g transform="translate(500.54,379.7) rotate(60)"><ellipse cx="0" cy="0" rx="3.2" ry="1.3" fill="#111"/><line x1="2.7" y1="0" x2="4.8" y2="0" stroke="#111" stroke-width="0.7"/></g>
</g>
<polygon points="496.08,386.36 508.87,384.86 508.8,308.12 495.71,309.65" fill="none" stroke="#111" stroke-width="1.3" stroke-linejoin="round"/>
<line x1="493.17" y1="389.7" x2="511.8" y2="387.52" stroke="#111" stroke-width="1.5" stroke-linecap="butt"/>
<g transform="translate(503.23,388.42) rotate(-6.67)"><rect x="-4" y="-1.45" width="8" height="2.9" rx="1.2" fill="#1a1a1a"/><line x1="-2.5" y1="-0.2" x2="2.5" y2="-0.2" stroke="#555" stroke-width="0.5"/></g>
<g transform="translate(503.24,391.02) rotate(-6.67)"><rect x="-4" y="-1.45" width="8" height="2.9" rx="1.2" fill="#1a1a1a"/><line x1="-2.5" y1="-0.2" x2="2.5" y2="-0.2" stroke="#555" stroke-width="0.5"/></g>
<ellipse cx="494.1" cy="433.6" rx="1.5" ry="1.4" fill="#fff" stroke="#111" stroke-width="0.9"/>
<ellipse cx="509.2" cy="431.05" rx="1.5" ry="1.4" fill="#fff" stroke="#111" stroke-width="0.9"/>
<ellipse cx="486.5" cy="424.3" rx="1.5" ry="1.4" fill="#fff" stroke="#111" stroke-width="0.9"/>
<line x1="493.4" y1="431.3" x2="511.8" y2="429.15" stroke="#111" stroke-width="2.4" stroke-linecap="butt"/>
<line x1="493.4" y1="431" x2="485.3" y2="421.7" stroke="#111" stroke-width="1.6" stroke-linecap="butt"/>
<line x1="493.4" y1="431" x2="492.7" y2="307" stroke="#111" stroke-width="2.2" stroke-linecap="square"/>
<line x1="511.8" y1="428.85" x2="511.8" y2="304.77" stroke="#111" stroke-width="1.5" stroke-linecap="butt"/>
<line x1="492.7" y1="308" x2="511.8" y2="305.77" stroke="#111" stroke-width="2.4" stroke-linecap="butt"/>
<line x1="492.7" y1="307" x2="484.6" y2="297.7" stroke="#111" stroke-width="1.7" stroke-linecap="butt"/>
<line x1="484.6" y1="297.7" x2="503.7" y2="295.47" stroke="#111" stroke-width="1.1" stroke-linecap="butt"/>
<line x1="503.7" y1="295.47" x2="511.8" y2="304.77" stroke="#111" stroke-width="1.3" stroke-linecap="butt"/>
<line x1="484.6" y1="297.7" x2="485.3" y2="421.7" stroke="#333" stroke-width="1.1" stroke-linecap="butt"/>
<text x="498.2" y="463.1" font-family="Liberation Sans" font-size="11.7" text-anchor="middle" fill="#1a1a1a" font-weight="normal" textLength="48.2" lengthAdjust="spacingAndGlyphs">ШК-5058</text>
<text x="498.2" y="474.7" font-family="Liberation Sans" font-size="9.4" text-anchor="middle" fill="#1a1a1a" font-weight="normal" textLength="27.5" lengthAdjust="spacingAndGlyphs">Шкаф</text>
<text x="498.2" y="487.6" font-family="Liberation Sans" font-size="10.1" text-anchor="middle" fill="#1a1a1a" font-weight="normal" textLength="63" lengthAdjust="spacingAndGlyphs">2264x360x346</text>
<polygon points="573.2,420.9 573.2,320.2 563.6,311.5 563.6,412.2" fill="#fff" stroke-linejoin="round"/>
<polygon points="573.2,320.2 591.7,318.04 582.1,309.34 563.6,311.5" fill="#fff" stroke-linejoin="round"/>
<polygon points="573.2,420.9 591.7,418.74 591.7,318.04 573.2,320.2" fill="#fff" stroke-linejoin="round"/>
<polygon points="573.2,420.9 591.7,418.74 591.7,318.04 573.2,320.2" fill="#fff" stroke="#111" stroke-width="1.1" stroke-linejoin="round"/>
<clipPath id="c14"><polygon points="576.4,418.03 588.5,416.61 588.5,320.91 576.4,322.33"/></clipPath>
<g clip-path="url(#c14)">
<polygon points="576.4,418.03 588.5,416.61 588.5,320.91 576.4,322.33" fill="#ececec" stroke-linejoin="round"/>
<polygon points="569.9,410.53 582,409.11 582,313.41 569.9,314.83" fill="none" stroke="#555" stroke-width="1" stroke-linejoin="round"/>
<line x1="576.4" y1="418.03" x2="569.9" y2="410.53" stroke="#222" stroke-width="0.9" stroke-linecap="butt"/>
<line x1="588.5" y1="416.61" x2="582" y2="409.11" stroke="#222" stroke-width="0.9" stroke-linecap="butt"/>
<line x1="588.5" y1="320.91" x2="582" y2="313.41" stroke="#222" stroke-width="0.9" stroke-linecap="butt"/>
<line x1="576.4" y1="322.33" x2="569.9" y2="314.83" stroke="#222" stroke-width="0.9" stroke-linecap="butt"/>
<polygon points="576.4,418.03 588.5,416.61 582,409.11 569.9,410.53" fill="#f4f4f4" stroke="#222" stroke-width="0.9" stroke-linejoin="round"/>
<polygon points="576.4,338.33 588.5,336.91 582,329.41 569.9,330.83" fill="#d8e9f6" stroke="#222" stroke-width="0.9" stroke-linejoin="round"/>
<line x1="576.4" y1="338.33" x2="588.5" y2="336.91" stroke="#111" stroke-width="1.7" stroke-linecap="butt"/>
<polygon points="576.4,358.13 588.5,356.71 582,349.21 569.9,350.63" fill="#d8e9f6" stroke="#222" stroke-width="0.9" stroke-linejoin="round"/>
<line x1="576.4" y1="358.13" x2="588.5" y2="356.71" stroke="#111" stroke-width="1.7" stroke-linecap="butt"/>
<polygon points="576.4,377.93 588.5,376.51 582,369.01 569.9,370.43" fill="#d8e9f6" stroke="#222" stroke-width="0.9" stroke-linejoin="round"/>
<line x1="576.4" y1="377.93" x2="588.5" y2="376.51" stroke="#111" stroke-width="1.7" stroke-linecap="butt"/>
<polygon points="576.4,398.43 588.5,397.01 582,389.51 569.9,390.93" fill="#d8e9f6" stroke="#222" stroke-width="0.9" stroke-linejoin="round"/>
<line x1="576.4" y1="398.43" x2="588.5" y2="397.01" stroke="#111" stroke-width="1.7" stroke-linecap="butt"/>
<g transform="translate(583.9,326.23) rotate(60)"><ellipse cx="0" cy="0" rx="3.2" ry="1.3" fill="#111"/><line x1="2.7" y1="0" x2="4.8" y2="0" stroke="#111" stroke-width="0.7"/></g>
<g transform="translate(580.03,341.04) rotate(-50)"><ellipse cx="0" cy="0" rx="3.2" ry="1.3" fill="#111"/><line x1="2.7" y1="0" x2="4.8" y2="0" stroke="#111" stroke-width="0.7"/></g>
<g transform="translate(583.9,350.16) rotate(60)"><ellipse cx="0" cy="0" rx="3.2" ry="1.3" fill="#111"/><line x1="2.7" y1="0" x2="4.8" y2="0" stroke="#111" stroke-width="0.7"/></g>
<g transform="translate(580.03,364.97) rotate(-50)"><ellipse cx="0" cy="0" rx="3.2" ry="1.3" fill="#111"/><line x1="2.7" y1="0" x2="4.8" y2="0" stroke="#111" stroke-width="0.7"/></g>
<g transform="translate(583.9,374.08) rotate(60)"><ellipse cx="0" cy="0" rx="3.2" ry="1.3" fill="#111"/><line x1="2.7" y1="0" x2="4.8" y2="0" stroke="#111" stroke-width="0.7"/></g>
<g transform="translate(580.03,388.89) rotate(-50)"><ellipse cx="0" cy="0" rx="3.2" ry="1.3" fill="#111"/><line x1="2.7" y1="0" x2="4.8" y2="0" stroke="#111" stroke-width="0.7"/></g>
<g transform="translate(583.9,399.92) rotate(60)"><ellipse cx="0" cy="0" rx="3.2" ry="1.3" fill="#111"/><line x1="2.7" y1="0" x2="4.8" y2="0" stroke="#111" stroke-width="0.7"/></g>
<g transform="translate(580.03,412.82) rotate(-50)"><ellipse cx="0" cy="0" rx="3.2" ry="1.3" fill="#111"/><line x1="2.7" y1="0" x2="4.8" y2="0" stroke="#111" stroke-width="0.7"/></g>
</g>
<polygon points="576.4,418.03 588.5,416.61 588.5,320.91 576.4,322.33" fill="none" stroke="#111" stroke-width="1.3" stroke-linejoin="round"/>
<rect x="590.23" y="366.03" width="2.2" height="6.5" rx="0.8" fill="#1a1a1a"/>
<line x1="591.33" y1="367.23" x2="591.33" y2="371.33" stroke="#555" stroke-width="0.5"/>
<line x1="573.2" y1="421.2" x2="591.7" y2="419.04" stroke="#111" stroke-width="2.4" stroke-linecap="butt"/>
<line x1="573.2" y1="420.9" x2="563.6" y2="412.2" stroke="#111" stroke-width="1.6" stroke-linecap="butt"/>
<line x1="573.2" y1="420.9" x2="573.2" y2="320.2" stroke="#111" stroke-width="2.2" stroke-linecap="square"/>
<line x1="591.7" y1="418.74" x2="591.7" y2="318.04" stroke="#111" stroke-width="1.5" stroke-linecap="butt"/>
<line x1="573.2" y1="321.2" x2="591.7" y2="319.04" stroke="#111" stroke-width="2.4" stroke-linecap="butt"/>
<line x1="573.2" y1="320.2" x2="563.6" y2="311.5" stroke="#111" stroke-width="1.7" stroke-linecap="butt"/>
<line x1="563.6" y1="311.5" x2="582.1" y2="309.34" stroke="#111" stroke-width="1.1" stroke-linecap="butt"/>
<line x1="582.1" y1="309.34" x2="591.7" y2="318.04" stroke="#111" stroke-width="1.3" stroke-linecap="butt"/>
<line x1="563.6" y1="311.5" x2="563.6" y2="412.2" stroke="#333" stroke-width="1.1" stroke-linecap="butt"/>
<text x="577.65" y="463.1" font-family="Liberation Sans" font-size="11.7" text-anchor="middle" fill="#1a1a1a" font-weight="normal" textLength="48.2" lengthAdjust="spacingAndGlyphs">ШК-5064</text>
<text x="577.65" y="474.7" font-family="Liberation Sans" font-size="9.4" text-anchor="middle" fill="#1a1a1a" font-weight="normal" textLength="58" lengthAdjust="spacingAndGlyphs">Шкаф (верх)</text>
<text x="577.65" y="487.6" font-family="Liberation Sans" font-size="10.1" text-anchor="middle" fill="#1a1a1a" font-weight="normal" textLength="63" lengthAdjust="spacingAndGlyphs">1800x360x346</text>
<polygon points="652.3,415.9 651.6,333.7 642.9,324.4 643.6,406.6" fill="#fff" stroke-linejoin="round"/>
<polygon points="651.6,333.7 670.3,331.51 661.6,322.21 642.9,324.4" fill="#fff" stroke-linejoin="round"/>
<polygon points="652.3,415.9 670.3,413.79 670.3,331.51 651.6,333.7" fill="#fff" stroke-linejoin="round"/>
<polygon points="652.3,415.9 670.3,413.79 670.3,331.51 651.6,333.7" fill="#fff" stroke="#111" stroke-width="1.1" stroke-linejoin="round"/>
<polygon points="652.3,415.9 643.6,406.6 642.9,324.4 651.6,333.7" fill="#fff" stroke-linejoin="round"/>
<clipPath id="c15"><polygon points="643.53,327.85 651.62,336.5 667.1,334.69 667.22,411.35 652.28,413.1 644.19,404.45"/></clipPath>
<g clip-path="url(#c15)">
<polygon points="643.53,327.85 651.62,336.5 667.1,334.69 667.22,411.35 652.28,413.1 644.19,404.45" fill="#ececec" stroke-linejoin="round"/>
<line x1="662.03" y1="325.48" x2="662.03" y2="402.16" stroke="#888" stroke-width="0.9" stroke-linecap="butt"/>
<polygon points="652.26,411.46 670.3,409.35 661.6,400.05 643.56,402.16" fill="#f4f4f4" stroke="#222" stroke-width="0.9" stroke-linejoin="round"/>
<polygon points="651.75,351 670.3,348.83 661.6,339.53 643.05,341.7" fill="#d8e9f6" stroke="#222" stroke-width="0.9" stroke-linejoin="round"/>
<line x1="651.75" y1="351" x2="670.3" y2="348.83" stroke="#111" stroke-width="1.7" stroke-linecap="butt"/>
<line x1="651.75" y1="351" x2="643.05" y2="341.7" stroke="#111" stroke-width="1.7" stroke-linecap="butt"/>
<polygon points="651.91,370.5 670.3,368.35 661.6,359.05 643.21,361.2" fill="#d8e9f6" stroke="#222" stroke-width="0.9" stroke-linejoin="round"/>
<line x1="651.91" y1="370.5" x2="670.3" y2="368.35" stroke="#111" stroke-width="1.7" stroke-linecap="butt"/>
<line x1="651.91" y1="370.5" x2="643.21" y2="361.2" stroke="#111" stroke-width="1.7" stroke-linecap="butt"/>
<polygon points="652.08,389.9 670.3,387.77 661.6,378.47 643.38,380.6" fill="#d8e9f6" stroke="#222" stroke-width="0.9" stroke-linejoin="round"/>
<line x1="652.08" y1="389.9" x2="670.3" y2="387.77" stroke="#111" stroke-width="1.7" stroke-linecap="butt"/>
<line x1="652.08" y1="389.9" x2="643.38" y2="380.6" stroke="#111" stroke-width="1.7" stroke-linecap="butt"/>
<g transform="translate(663.26,342.81) rotate(60)"><ellipse cx="0" cy="0" rx="3.2" ry="1.3" fill="#111"/><line x1="2.7" y1="0" x2="4.8" y2="0" stroke="#111" stroke-width="0.7"/></g>
<g transform="translate(659.5,362.42) rotate(-55)"><ellipse cx="0" cy="0" rx="3.2" ry="1.3" fill="#111"/><line x1="2.7" y1="0" x2="4.8" y2="0" stroke="#111" stroke-width="0.7"/></g>
<g transform="translate(663.35,369.63) rotate(60)"><ellipse cx="0" cy="0" rx="3.2" ry="1.3" fill="#111"/><line x1="2.7" y1="0" x2="4.8" y2="0" stroke="#111" stroke-width="0.7"/></g>
<g transform="translate(659.59,381.57) rotate(-55)"><ellipse cx="0" cy="0" rx="3.2" ry="1.3" fill="#111"/><line x1="2.7" y1="0" x2="4.8" y2="0" stroke="#111" stroke-width="0.7"/></g>
<g transform="translate(663.41,388.79) rotate(60)"><ellipse cx="0" cy="0" rx="3.2" ry="1.3" fill="#111"/><line x1="2.7" y1="0" x2="4.8" y2="0" stroke="#111" stroke-width="0.7"/></g>
<g transform="translate(659.69,400.73) rotate(-55)"><ellipse cx="0" cy="0" rx="3.2" ry="1.3" fill="#111"/><line x1="2.7" y1="0" x2="4.8" y2="0" stroke="#111" stroke-width="0.7"/></g>
<g transform="translate(663.47,407.96) rotate(60)"><ellipse cx="0" cy="0" rx="3.2" ry="1.3" fill="#111"/><line x1="2.7" y1="0" x2="4.8" y2="0" stroke="#111" stroke-width="0.7"/></g>
<g transform="translate(647.77,355.16) rotate(60)"><ellipse cx="0" cy="0" rx="3.2" ry="1.3" fill="#111"/><line x1="2.7" y1="0" x2="4.8" y2="0" stroke="#111" stroke-width="0.7"/></g>
<g transform="translate(647.94,374.31) rotate(60)"><ellipse cx="0" cy="0" rx="3.2" ry="1.3" fill="#111"/><line x1="2.7" y1="0" x2="4.8" y2="0" stroke="#111" stroke-width="0.7"/></g>
<g transform="translate(648.1,393.46) rotate(60)"><ellipse cx="0" cy="0" rx="3.2" ry="1.3" fill="#111"/><line x1="2.7" y1="0" x2="4.8" y2="0" stroke="#111" stroke-width="0.7"/></g>
</g>
<polygon points="643.53,327.85 651.62,336.5 667.1,334.69 667.22,411.35 652.28,413.1 644.19,404.45" fill="none" stroke="#111" stroke-width="1" stroke-linejoin="round"/>
<g transform="translate(661.3,413.95) rotate(-6.67)"><rect x="-3" y="-1.1" width="6" height="2.2" rx="1.2" fill="#1a1a1a"/><line x1="-1.5" y1="-0.2" x2="1.5" y2="-0.2" stroke="#555" stroke-width="0.5"/></g>
<line x1="652.3" y1="416.2" x2="670.3" y2="414.09" stroke="#111" stroke-width="2.4" stroke-linecap="butt"/>
<line x1="652.3" y1="415.9" x2="643.6" y2="406.6" stroke="#111" stroke-width="1.6" stroke-linecap="butt"/>
<line x1="652.3" y1="415.9" x2="652.3" y2="415.9" stroke="#111" stroke-width="2.2" stroke-linecap="square"/>
<line x1="651.6" y1="333.7" x2="651.6" y2="333.7" stroke="#111" stroke-width="2.2" stroke-linecap="square"/>
<line x1="652.3" y1="415.9" x2="651.6" y2="333.7" stroke="#111" stroke-width="1" stroke-linecap="butt"/>
<line x1="643.6" y1="406.6" x2="642.9" y2="324.4" stroke="#111" stroke-width="1.8" stroke-linecap="butt"/>
<line x1="670.3" y1="413.79" x2="670.3" y2="331.51" stroke="#111" stroke-width="1.5" stroke-linecap="butt"/>
<line x1="651.6" y1="334.7" x2="670.3" y2="332.51" stroke="#111" stroke-width="2.4" stroke-linecap="butt"/>
<line x1="651.6" y1="333.7" x2="642.9" y2="324.4" stroke="#111" stroke-width="1.7" stroke-linecap="butt"/>
<line x1="642.9" y1="324.4" x2="661.6" y2="322.21" stroke="#111" stroke-width="1.1" stroke-linecap="butt"/>
<line x1="661.6" y1="322.21" x2="670.3" y2="331.51" stroke="#111" stroke-width="1.3" stroke-linecap="butt"/>
<line x1="642.9" y1="324.4" x2="643.6" y2="406.6" stroke="#333" stroke-width="1.1" stroke-linecap="butt"/>
<text x="656.6" y="463.1" font-family="Liberation Sans" font-size="11.7" text-anchor="middle" fill="#1a1a1a" font-weight="normal" textLength="48.2" lengthAdjust="spacingAndGlyphs">ШК-5065</text>
<text x="656.6" y="474.7" font-family="Liberation Sans" font-size="9.4" text-anchor="middle" fill="#1a1a1a" font-weight="normal" textLength="58" lengthAdjust="spacingAndGlyphs">Шкаф (верх)</text>
<text x="656.6" y="487.6" font-family="Liberation Sans" font-size="10.1" text-anchor="middle" fill="#1a1a1a" font-weight="normal" textLength="63" lengthAdjust="spacingAndGlyphs">1440x360x346</text>
<g transform="matrix(-1 0 0 1 1388.9 0)"><polygon points="652.3,415.9 651.6,333.7 642.9,324.4 643.6,406.6" fill="#fff" stroke-linejoin="round"/>
<polygon points="651.6,333.7 670.3,331.51 661.6,322.21 642.9,324.4" fill="#fff" stroke-linejoin="round"/>
<polygon points="652.3,415.9 670.3,413.79 670.3,331.51 651.6,333.7" fill="#fff" stroke-linejoin="round"/>
<polygon points="652.3,415.9 670.3,413.79 670.3,331.51 651.6,333.7" fill="#fff" stroke="#111" stroke-width="1.1" stroke-linejoin="round"/>
<polygon points="652.3,415.9 643.6,406.6 642.9,324.4 651.6,333.7" fill="#fff" stroke-linejoin="round"/>
<clipPath id="c16"><polygon points="643.53,327.85 651.62,336.5 667.1,334.69 667.22,411.35 652.28,413.1 644.19,404.45"/></clipPath>
<g clip-path="url(#c16)">
<polygon points="643.53,327.85 651.62,336.5 667.1,334.69 667.22,411.35 652.28,413.1 644.19,404.45" fill="#ececec" stroke-linejoin="round"/>
<line x1="662.03" y1="325.48" x2="662.03" y2="402.16" stroke="#888" stroke-width="0.9" stroke-linecap="butt"/>
<polygon points="652.26,411.46 670.3,409.35 661.6,400.05 643.56,402.16" fill="#f4f4f4" stroke="#222" stroke-width="0.9" stroke-linejoin="round"/>
<polygon points="651.75,351 670.3,348.83 661.6,339.53 643.05,341.7" fill="#d8e9f6" stroke="#222" stroke-width="0.9" stroke-linejoin="round"/>
<line x1="651.75" y1="351" x2="670.3" y2="348.83" stroke="#111" stroke-width="1.7" stroke-linecap="butt"/>
<line x1="651.75" y1="351" x2="643.05" y2="341.7" stroke="#111" stroke-width="1.7" stroke-linecap="butt"/>
<polygon points="651.91,370.5 670.3,368.35 661.6,359.05 643.21,361.2" fill="#d8e9f6" stroke="#222" stroke-width="0.9" stroke-linejoin="round"/>
<line x1="651.91" y1="370.5" x2="670.3" y2="368.35" stroke="#111" stroke-width="1.7" stroke-linecap="butt"/>
<line x1="651.91" y1="370.5" x2="643.21" y2="361.2" stroke="#111" stroke-width="1.7" stroke-linecap="butt"/>
<polygon points="652.08,389.9 670.3,387.77 661.6,378.47 643.38,380.6" fill="#d8e9f6" stroke="#222" stroke-width="0.9" stroke-linejoin="round"/>
<line x1="652.08" y1="389.9" x2="670.3" y2="387.77" stroke="#111" stroke-width="1.7" stroke-linecap="butt"/>
<line x1="652.08" y1="389.9" x2="643.38" y2="380.6" stroke="#111" stroke-width="1.7" stroke-linecap="butt"/>
<g transform="translate(663.26,342.81) rotate(60)"><ellipse cx="0" cy="0" rx="3.2" ry="1.3" fill="#111"/><line x1="2.7" y1="0" x2="4.8" y2="0" stroke="#111" stroke-width="0.7"/></g>
<g transform="translate(659.5,362.42) rotate(-55)"><ellipse cx="0" cy="0" rx="3.2" ry="1.3" fill="#111"/><line x1="2.7" y1="0" x2="4.8" y2="0" stroke="#111" stroke-width="0.7"/></g>
<g transform="translate(663.35,369.63) rotate(60)"><ellipse cx="0" cy="0" rx="3.2" ry="1.3" fill="#111"/><line x1="2.7" y1="0" x2="4.8" y2="0" stroke="#111" stroke-width="0.7"/></g>
<g transform="translate(659.59,381.57) rotate(-55)"><ellipse cx="0" cy="0" rx="3.2" ry="1.3" fill="#111"/><line x1="2.7" y1="0" x2="4.8" y2="0" stroke="#111" stroke-width="0.7"/></g>
<g transform="translate(663.41,388.79) rotate(60)"><ellipse cx="0" cy="0" rx="3.2" ry="1.3" fill="#111"/><line x1="2.7" y1="0" x2="4.8" y2="0" stroke="#111" stroke-width="0.7"/></g>
<g transform="translate(659.69,400.73) rotate(-55)"><ellipse cx="0" cy="0" rx="3.2" ry="1.3" fill="#111"/><line x1="2.7" y1="0" x2="4.8" y2="0" stroke="#111" stroke-width="0.7"/></g>
<g transform="translate(663.47,407.96) rotate(60)"><ellipse cx="0" cy="0" rx="3.2" ry="1.3" fill="#111"/><line x1="2.7" y1="0" x2="4.8" y2="0" stroke="#111" stroke-width="0.7"/></g>
<g transform="translate(647.77,355.16) rotate(60)"><ellipse cx="0" cy="0" rx="3.2" ry="1.3" fill="#111"/><line x1="2.7" y1="0" x2="4.8" y2="0" stroke="#111" stroke-width="0.7"/></g>
<g transform="translate(647.94,374.31) rotate(60)"><ellipse cx="0" cy="0" rx="3.2" ry="1.3" fill="#111"/><line x1="2.7" y1="0" x2="4.8" y2="0" stroke="#111" stroke-width="0.7"/></g>
<g transform="translate(648.1,393.46) rotate(60)"><ellipse cx="0" cy="0" rx="3.2" ry="1.3" fill="#111"/><line x1="2.7" y1="0" x2="4.8" y2="0" stroke="#111" stroke-width="0.7"/></g>
</g>
<polygon points="643.53,327.85 651.62,336.5 667.1,334.69 667.22,411.35 652.28,413.1 644.19,404.45" fill="none" stroke="#111" stroke-width="1" stroke-linejoin="round"/>
<g transform="translate(661.3,413.95) rotate(-6.67)"><rect x="-3" y="-1.1" width="6" height="2.2" rx="1.2" fill="#1a1a1a"/><line x1="-1.5" y1="-0.2" x2="1.5" y2="-0.2" stroke="#555" stroke-width="0.5"/></g>
<line x1="652.3" y1="416.2" x2="670.3" y2="414.09" stroke="#111" stroke-width="2.4" stroke-linecap="butt"/>
<line x1="652.3" y1="415.9" x2="643.6" y2="406.6" stroke="#111" stroke-width="1.6" stroke-linecap="butt"/>
<line x1="652.3" y1="415.9" x2="652.3" y2="415.9" stroke="#111" stroke-width="2.2" stroke-linecap="square"/>
<line x1="651.6" y1="333.7" x2="651.6" y2="333.7" stroke="#111" stroke-width="2.2" stroke-linecap="square"/>
<line x1="652.3" y1="415.9" x2="651.6" y2="333.7" stroke="#111" stroke-width="1" stroke-linecap="butt"/>
<line x1="643.6" y1="406.6" x2="642.9" y2="324.4" stroke="#111" stroke-width="1.8" stroke-linecap="butt"/>
<line x1="670.3" y1="413.79" x2="670.3" y2="331.51" stroke="#111" stroke-width="1.5" stroke-linecap="butt"/>
<line x1="651.6" y1="334.7" x2="670.3" y2="332.51" stroke="#111" stroke-width="2.4" stroke-linecap="butt"/>
<line x1="651.6" y1="333.7" x2="642.9" y2="324.4" stroke="#111" stroke-width="1.7" stroke-linecap="butt"/>
<line x1="642.9" y1="324.4" x2="661.6" y2="322.21" stroke="#111" stroke-width="1.1" stroke-linecap="butt"/>
<line x1="661.6" y1="322.21" x2="670.3" y2="331.51" stroke="#111" stroke-width="1.3" stroke-linecap="butt"/>
<line x1="642.9" y1="324.4" x2="643.6" y2="406.6" stroke="#333" stroke-width="1.1" stroke-linecap="butt"/></g>
<text x="732.3" y="463.1" font-family="Liberation Sans" font-size="11.7" text-anchor="middle" fill="#1a1a1a" font-weight="normal" textLength="48.2" lengthAdjust="spacingAndGlyphs">ШК-5066</text>
<text x="732.3" y="474.7" font-family="Liberation Sans" font-size="9.4" text-anchor="middle" fill="#1a1a1a" font-weight="normal" textLength="58" lengthAdjust="spacingAndGlyphs">Шкаф (верх)</text>
<text x="732.3" y="487.6" font-family="Liberation Sans" font-size="10.1" text-anchor="middle" fill="#1a1a1a" font-weight="normal" textLength="63" lengthAdjust="spacingAndGlyphs">1440x360x346</text>
<polygon points="804,425.6 803.4,323.2 795.4,316.1 796,418.5" fill="#fff" stroke-linejoin="round"/>
<polygon points="803.4,323.2 822.3,320.99 814.3,313.89 795.4,316.1" fill="#fff" stroke-linejoin="round"/>
<polygon points="804,425.6 822.3,423.46 822.3,320.99 803.4,323.2" fill="#fff" stroke-linejoin="round"/>
<polygon points="804,425.6 822.3,423.46 822.3,320.99 803.4,323.2" fill="#fff" stroke="#111" stroke-width="1.1" stroke-linejoin="round"/>
<clipPath id="c17"><polygon points="807.09,422.74 819.2,421.32 819.1,323.86 806.61,325.33"/></clipPath>
<g clip-path="url(#c17)">
<polygon points="807.09,422.74 819.2,421.32 819.1,323.86 806.61,325.33" fill="#ececec" stroke-linejoin="round"/>
<polygon points="800.59,415.24 812.7,413.82 812.6,316.36 800.11,317.83" fill="none" stroke="#555" stroke-width="1" stroke-linejoin="round"/>
<line x1="807.09" y1="422.74" x2="800.59" y2="415.24" stroke="#222" stroke-width="0.9" stroke-linecap="butt"/>
<line x1="819.2" y1="421.32" x2="812.7" y2="413.82" stroke="#222" stroke-width="0.9" stroke-linecap="butt"/>
<line x1="819.1" y1="323.86" x2="812.6" y2="316.36" stroke="#222" stroke-width="0.9" stroke-linecap="butt"/>
<line x1="806.61" y1="325.33" x2="800.11" y2="317.83" stroke="#222" stroke-width="0.9" stroke-linecap="butt"/>
<polygon points="807.09,422.74 819.2,421.32 812.7,413.82 800.59,415.24" fill="#f4f4f4" stroke="#222" stroke-width="0.9" stroke-linejoin="round"/>
<polygon points="806.7,342.53 819.12,341.07 812.62,333.57 800.2,335.03" fill="#d8e9f6" stroke="#222" stroke-width="0.9" stroke-linejoin="round"/>
<line x1="806.7" y1="342.53" x2="819.12" y2="341.07" stroke="#111" stroke-width="1.7" stroke-linecap="butt"/>
<polygon points="806.8,363.13 819.14,361.69 812.64,354.19 800.3,355.63" fill="#d8e9f6" stroke="#222" stroke-width="0.9" stroke-linejoin="round"/>
<line x1="806.8" y1="363.13" x2="819.14" y2="361.69" stroke="#111" stroke-width="1.7" stroke-linecap="butt"/>
<polygon points="806.89,382.93 819.16,381.5 812.66,374 800.39,375.43" fill="#d8e9f6" stroke="#222" stroke-width="0.9" stroke-linejoin="round"/>
<line x1="806.89" y1="382.93" x2="819.16" y2="381.5" stroke="#111" stroke-width="1.7" stroke-linecap="butt"/>
<polygon points="806.99,403.43 819.18,402.01 812.68,394.51 800.49,395.93" fill="#d8e9f6" stroke="#222" stroke-width="0.9" stroke-linejoin="round"/>
<line x1="806.99" y1="403.43" x2="819.18" y2="402.01" stroke="#111" stroke-width="1.7" stroke-linecap="butt"/>
<g transform="translate(814.37,329.29) rotate(60)"><ellipse cx="0" cy="0" rx="3.2" ry="1.3" fill="#111"/><line x1="2.7" y1="0" x2="4.8" y2="0" stroke="#111" stroke-width="0.7"/></g>
<g transform="translate(810.43,344.37) rotate(-50)"><ellipse cx="0" cy="0" rx="3.2" ry="1.3" fill="#111"/><line x1="2.7" y1="0" x2="4.8" y2="0" stroke="#111" stroke-width="0.7"/></g>
<g transform="translate(814.43,353.65) rotate(60)"><ellipse cx="0" cy="0" rx="3.2" ry="1.3" fill="#111"/><line x1="2.7" y1="0" x2="4.8" y2="0" stroke="#111" stroke-width="0.7"/></g>
<g transform="translate(810.52,368.73) rotate(-50)"><ellipse cx="0" cy="0" rx="3.2" ry="1.3" fill="#111"/><line x1="2.7" y1="0" x2="4.8" y2="0" stroke="#111" stroke-width="0.7"/></g>
<g transform="translate(814.49,378.01) rotate(60)"><ellipse cx="0" cy="0" rx="3.2" ry="1.3" fill="#111"/><line x1="2.7" y1="0" x2="4.8" y2="0" stroke="#111" stroke-width="0.7"/></g>
<g transform="translate(810.61,393.08) rotate(-50)"><ellipse cx="0" cy="0" rx="3.2" ry="1.3" fill="#111"/><line x1="2.7" y1="0" x2="4.8" y2="0" stroke="#111" stroke-width="0.7"/></g>
<g transform="translate(814.55,404.32) rotate(60)"><ellipse cx="0" cy="0" rx="3.2" ry="1.3" fill="#111"/><line x1="2.7" y1="0" x2="4.8" y2="0" stroke="#111" stroke-width="0.7"/></g>
<g transform="translate(810.7,417.44) rotate(-50)"><ellipse cx="0" cy="0" rx="3.2" ry="1.3" fill="#111"/><line x1="2.7" y1="0" x2="4.8" y2="0" stroke="#111" stroke-width="0.7"/></g>
</g>
<polygon points="807.09,422.74 819.2,421.32 819.1,323.86 806.61,325.33" fill="none" stroke="#111" stroke-width="1.3" stroke-linejoin="round"/>
<rect x="820.83" y="370.22" width="2.2" height="6.5" rx="0.8" fill="#1a1a1a"/>
<line x1="821.93" y1="371.42" x2="821.93" y2="375.52" stroke="#555" stroke-width="0.5"/>
<ellipse cx="804.7" cy="428.2" rx="1.5" ry="1.4" fill="#fff" stroke="#111" stroke-width="0.9"/>
<ellipse cx="819.7" cy="425.66" rx="1.5" ry="1.4" fill="#fff" stroke="#111" stroke-width="0.9"/>
<ellipse cx="797.2" cy="421.1" rx="1.5" ry="1.4" fill="#fff" stroke="#111" stroke-width="0.9"/>
<line x1="804" y1="425.9" x2="822.3" y2="423.76" stroke="#111" stroke-width="2.4" stroke-linecap="butt"/>
<line x1="804" y1="425.6" x2="796" y2="418.5" stroke="#111" stroke-width="1.6" stroke-linecap="butt"/>
<line x1="804" y1="425.6" x2="803.4" y2="323.2" stroke="#111" stroke-width="2.2" stroke-linecap="square"/>
<line x1="822.3" y1="423.46" x2="822.3" y2="320.99" stroke="#111" stroke-width="1.5" stroke-linecap="butt"/>
<line x1="803.4" y1="324.2" x2="822.3" y2="321.99" stroke="#111" stroke-width="2.4" stroke-linecap="butt"/>
<line x1="803.4" y1="323.2" x2="795.4" y2="316.1" stroke="#111" stroke-width="1.7" stroke-linecap="butt"/>
<line x1="795.4" y1="316.1" x2="814.3" y2="313.89" stroke="#111" stroke-width="1.1" stroke-linecap="butt"/>
<line x1="814.3" y1="313.89" x2="822.3" y2="320.99" stroke="#111" stroke-width="1.3" stroke-linecap="butt"/>
<line x1="795.4" y1="316.1" x2="796" y2="418.5" stroke="#333" stroke-width="1.1" stroke-linecap="butt"/>
<text x="808.85" y="463.1" font-family="Liberation Sans" font-size="11.7" text-anchor="middle" fill="#1a1a1a" font-weight="normal" textLength="48.2" lengthAdjust="spacingAndGlyphs">ШК-5067</text>
<text x="808.85" y="474.7" font-family="Liberation Sans" font-size="9.4" text-anchor="middle" fill="#1a1a1a" font-weight="normal" textLength="27.5" lengthAdjust="spacingAndGlyphs">Шкаф</text>
<text x="808.85" y="487.6" font-family="Liberation Sans" font-size="10.1" text-anchor="middle" fill="#1a1a1a" font-weight="normal" textLength="63" lengthAdjust="spacingAndGlyphs">1904x360x346</text>
<polygon points="874.5,425.6 874.1,323.2 866.4,316.1 866.8,418.5" fill="#fff" stroke-linejoin="round"/>
<polygon points="874.1,323.2 893.3,320.95 885.6,313.85 866.4,316.1" fill="#fff" stroke-linejoin="round"/>
<polygon points="874.5,425.6 893.3,423.4 893.3,320.95 874.1,323.2" fill="#fff" stroke-linejoin="round"/>
<polygon points="873.65,405 892.53,402.79 887.14,397.82 868.26,400.03" fill="none" stroke="#1a1a1a" stroke-width="1.1" stroke-dasharray="2.8 1.7" stroke-linejoin="round"/>
<polygon points="874.34,383.5 893.3,381.28 893.3,320.95 874.1,323.2" fill="#fff" stroke="#111" stroke-width="1.1" stroke-linejoin="round"/>
<polygon points="874.34,383.5 866.64,376.4 866.4,316.1 874.1,323.2" fill="#fff" stroke-linejoin="round"/>
<clipPath id="c18"><polygon points="866.95,319.4 874.11,326 890.1,324.13 890.14,378.85 874.32,380.7 867.16,374.1"/></clipPath>
<g clip-path="url(#c18)">
<polygon points="866.95,319.4 874.11,326 890.1,324.13 890.14,378.85 874.32,380.7 867.16,374.1" fill="#ececec" stroke-linejoin="round"/>
<line x1="885.98" y1="317.01" x2="885.98" y2="371.73" stroke="#888" stroke-width="0.9" stroke-linecap="butt"/>
<polygon points="874.32,378.65 893.3,376.43 885.6,369.33 866.62,371.55" fill="#f4f4f4" stroke="#222" stroke-width="0.9" stroke-linejoin="round"/>
<polygon points="874.17,340.9 893.3,338.66 885.6,331.56 866.47,333.8" fill="#d8e9f6" stroke="#222" stroke-width="0.9" stroke-linejoin="round"/>
<line x1="874.17" y1="340.9" x2="893.3" y2="338.66" stroke="#111" stroke-width="1.7" stroke-linecap="butt"/>
<line x1="874.17" y1="340.9" x2="866.47" y2="333.8" stroke="#111" stroke-width="1.7" stroke-linecap="butt"/>
<polygon points="874.25,361.8 893.3,359.57 885.6,352.47 866.55,354.7" fill="#d8e9f6" stroke="#222" stroke-width="0.9" stroke-linejoin="round"/>
<line x1="874.25" y1="361.8" x2="893.3" y2="359.57" stroke="#111" stroke-width="1.7" stroke-linecap="butt"/>
<line x1="874.25" y1="361.8" x2="866.55" y2="354.7" stroke="#111" stroke-width="1.7" stroke-linecap="butt"/>
<g transform="translate(886.91,331.07) rotate(60)"><ellipse cx="0" cy="0" rx="3.2" ry="1.3" fill="#111"/><line x1="2.7" y1="0" x2="4.8" y2="0" stroke="#111" stroke-width="0.7"/></g>
<g transform="translate(882.96,349.59) rotate(-55)"><ellipse cx="0" cy="0" rx="3.2" ry="1.3" fill="#111"/><line x1="2.7" y1="0" x2="4.8" y2="0" stroke="#111" stroke-width="0.7"/></g>
<g transform="translate(886.94,354.6) rotate(60)"><ellipse cx="0" cy="0" rx="3.2" ry="1.3" fill="#111"/><line x1="2.7" y1="0" x2="4.8" y2="0" stroke="#111" stroke-width="0.7"/></g>
<g transform="translate(883,369.83) rotate(-55)"><ellipse cx="0" cy="0" rx="3.2" ry="1.3" fill="#111"/><line x1="2.7" y1="0" x2="4.8" y2="0" stroke="#111" stroke-width="0.7"/></g>
<g transform="translate(886.97,373.75) rotate(60)"><ellipse cx="0" cy="0" rx="3.2" ry="1.3" fill="#111"/><line x1="2.7" y1="0" x2="4.8" y2="0" stroke="#111" stroke-width="0.7"/></g>
<g transform="translate(870.59,339.11) rotate(60)"><ellipse cx="0" cy="0" rx="3.2" ry="1.3" fill="#111"/><line x1="2.7" y1="0" x2="4.8" y2="0" stroke="#111" stroke-width="0.7"/></g>
<g transform="translate(870.67,358.25) rotate(60)"><ellipse cx="0" cy="0" rx="3.2" ry="1.3" fill="#111"/><line x1="2.7" y1="0" x2="4.8" y2="0" stroke="#111" stroke-width="0.7"/></g>
</g>
<polygon points="866.95,319.4 874.11,326 890.1,324.13 890.14,378.85 874.32,380.7 867.16,374.1" fill="none" stroke="#111" stroke-width="1" stroke-linejoin="round"/>
<line x1="874.34" y1="384" x2="893.3" y2="381.78" stroke="#111" stroke-width="1.5" stroke-linecap="butt"/>
<g transform="translate(883.82,382.29) rotate(-6.67)"><rect x="-4" y="-1.45" width="8" height="2.9" rx="1.2" fill="#1a1a1a"/><line x1="-2.5" y1="-0.2" x2="2.5" y2="-0.2" stroke="#555" stroke-width="0.5"/></g>
<g transform="translate(883.83,386.49) rotate(-6.67)"><rect x="-4" y="-1.45" width="8" height="2.9" rx="1.2" fill="#1a1a1a"/><line x1="-2.5" y1="-0.2" x2="2.5" y2="-0.2" stroke="#555" stroke-width="0.5"/></g>
<ellipse cx="875.2" cy="428.2" rx="1.5" ry="1.4" fill="#fff" stroke="#111" stroke-width="0.9"/>
<ellipse cx="890.7" cy="425.6" rx="1.5" ry="1.4" fill="#fff" stroke="#111" stroke-width="0.9"/>
<ellipse cx="868" cy="421.1" rx="1.5" ry="1.4" fill="#fff" stroke="#111" stroke-width="0.9"/>
<line x1="874.5" y1="425.9" x2="893.3" y2="423.7" stroke="#111" stroke-width="2.4" stroke-linecap="butt"/>
<line x1="874.5" y1="425.6" x2="866.8" y2="418.5" stroke="#111" stroke-width="1.6" stroke-linecap="butt"/>
<line x1="874.5" y1="425.6" x2="874.34" y2="384" stroke="#111" stroke-width="2.2" stroke-linecap="square"/>
<line x1="874.1" y1="323.2" x2="874.1" y2="323.2" stroke="#111" stroke-width="2.2" stroke-linecap="square"/>
<line x1="874.34" y1="384" x2="874.1" y2="323.2" stroke="#111" stroke-width="1" stroke-linecap="butt"/>
<line x1="866.8" y1="418.5" x2="866.4" y2="316.1" stroke="#111" stroke-width="1.8" stroke-linecap="butt"/>
<line x1="893.3" y1="423.4" x2="893.3" y2="320.95" stroke="#111" stroke-width="1.5" stroke-linecap="butt"/>
<line x1="874.1" y1="324.2" x2="893.3" y2="321.95" stroke="#111" stroke-width="2.4" stroke-linecap="butt"/>
<line x1="874.1" y1="323.2" x2="866.4" y2="316.1" stroke="#111" stroke-width="1.7" stroke-linecap="butt"/>
<line x1="866.4" y1="316.1" x2="885.6" y2="313.85" stroke="#111" stroke-width="1.1" stroke-linecap="butt"/>
<line x1="885.6" y1="313.85" x2="893.3" y2="320.95" stroke="#111" stroke-width="1.3" stroke-linecap="butt"/>
<line x1="866.4" y1="316.1" x2="866.8" y2="418.5" stroke="#333" stroke-width="1.1" stroke-linecap="butt"/>
<text x="879.85" y="463.1" font-family="Liberation Sans" font-size="11.7" text-anchor="middle" fill="#1a1a1a" font-weight="normal" textLength="48.2" lengthAdjust="spacingAndGlyphs">ШК-5068</text>
<text x="879.85" y="474.7" font-family="Liberation Sans" font-size="9.4" text-anchor="middle" fill="#1a1a1a" font-weight="normal" textLength="27.5" lengthAdjust="spacingAndGlyphs">Шкаф</text>
<text x="879.85" y="487.6" font-family="Liberation Sans" font-size="10.1" text-anchor="middle" fill="#1a1a1a" font-weight="normal" textLength="63" lengthAdjust="spacingAndGlyphs">1904x360x346</text>
<g transform="matrix(-1 0 0 1 1835.8 0)"><polygon points="874.5,425.6 874.1,323.2 866.4,316.1 866.8,418.5" fill="#fff" stroke-linejoin="round"/>
<polygon points="874.1,323.2 893.3,320.95 885.6,313.85 866.4,316.1" fill="#fff" stroke-linejoin="round"/>
<polygon points="874.5,425.6 893.3,423.4 893.3,320.95 874.1,323.2" fill="#fff" stroke-linejoin="round"/>
<polygon points="873.65,405 892.53,402.79 887.14,397.82 868.26,400.03" fill="none" stroke="#1a1a1a" stroke-width="1.1" stroke-dasharray="2.8 1.7" stroke-linejoin="round"/>
<polygon points="874.34,383.5 893.3,381.28 893.3,320.95 874.1,323.2" fill="#fff" stroke="#111" stroke-width="1.1" stroke-linejoin="round"/>
<polygon points="874.34,383.5 866.64,376.4 866.4,316.1 874.1,323.2" fill="#fff" stroke-linejoin="round"/>
<clipPath id="c19"><polygon points="866.95,319.4 874.11,326 890.1,324.13 890.14,378.85 874.32,380.7 867.16,374.1"/></clipPath>
<g clip-path="url(#c19)">
<polygon points="866.95,319.4 874.11,326 890.1,324.13 890.14,378.85 874.32,380.7 867.16,374.1" fill="#ececec" stroke-linejoin="round"/>
<line x1="885.98" y1="317.01" x2="885.98" y2="371.73" stroke="#888" stroke-width="0.9" stroke-linecap="butt"/>
<polygon points="874.32,378.65 893.3,376.43 885.6,369.33 866.62,371.55" fill="#f4f4f4" stroke="#222" stroke-width="0.9" stroke-linejoin="round"/>
<polygon points="874.17,340.9 893.3,338.66 885.6,331.56 866.47,333.8" fill="#d8e9f6" stroke="#222" stroke-width="0.9" stroke-linejoin="round"/>
<line x1="874.17" y1="340.9" x2="893.3" y2="338.66" stroke="#111" stroke-width="1.7" stroke-linecap="butt"/>
<line x1="874.17" y1="340.9" x2="866.47" y2="333.8" stroke="#111" stroke-width="1.7" stroke-linecap="butt"/>
<polygon points="874.25,361.8 893.3,359.57 885.6,352.47 866.55,354.7" fill="#d8e9f6" stroke="#222" stroke-width="0.9" stroke-linejoin="round"/>
<line x1="874.25" y1="361.8" x2="893.3" y2="359.57" stroke="#111" stroke-width="1.7" stroke-linecap="butt"/>
<line x1="874.25" y1="361.8" x2="866.55" y2="354.7" stroke="#111" stroke-width="1.7" stroke-linecap="butt"/>
<g transform="translate(886.91,331.07) rotate(60)"><ellipse cx="0" cy="0" rx="3.2" ry="1.3" fill="#111"/><line x1="2.7" y1="0" x2="4.8" y2="0" stroke="#111" stroke-width="0.7"/></g>
<g transform="translate(882.96,349.59) rotate(-55)"><ellipse cx="0" cy="0" rx="3.2" ry="1.3" fill="#111"/><line x1="2.7" y1="0" x2="4.8" y2="0" stroke="#111" stroke-width="0.7"/></g>
<g transform="translate(886.94,354.6) rotate(60)"><ellipse cx="0" cy="0" rx="3.2" ry="1.3" fill="#111"/><line x1="2.7" y1="0" x2="4.8" y2="0" stroke="#111" stroke-width="0.7"/></g>
<g transform="translate(883,369.83) rotate(-55)"><ellipse cx="0" cy="0" rx="3.2" ry="1.3" fill="#111"/><line x1="2.7" y1="0" x2="4.8" y2="0" stroke="#111" stroke-width="0.7"/></g>
<g transform="translate(886.97,373.75) rotate(60)"><ellipse cx="0" cy="0" rx="3.2" ry="1.3" fill="#111"/><line x1="2.7" y1="0" x2="4.8" y2="0" stroke="#111" stroke-width="0.7"/></g>
<g transform="translate(870.59,339.11) rotate(60)"><ellipse cx="0" cy="0" rx="3.2" ry="1.3" fill="#111"/><line x1="2.7" y1="0" x2="4.8" y2="0" stroke="#111" stroke-width="0.7"/></g>
<g transform="translate(870.67,358.25) rotate(60)"><ellipse cx="0" cy="0" rx="3.2" ry="1.3" fill="#111"/><line x1="2.7" y1="0" x2="4.8" y2="0" stroke="#111" stroke-width="0.7"/></g>
</g>
<polygon points="866.95,319.4 874.11,326 890.1,324.13 890.14,378.85 874.32,380.7 867.16,374.1" fill="none" stroke="#111" stroke-width="1" stroke-linejoin="round"/>
<line x1="874.34" y1="384" x2="893.3" y2="381.78" stroke="#111" stroke-width="1.5" stroke-linecap="butt"/>
<g transform="translate(883.82,382.29) rotate(-6.67)"><rect x="-4" y="-1.45" width="8" height="2.9" rx="1.2" fill="#1a1a1a"/><line x1="-2.5" y1="-0.2" x2="2.5" y2="-0.2" stroke="#555" stroke-width="0.5"/></g>
<g transform="translate(883.83,386.49) rotate(-6.67)"><rect x="-4" y="-1.45" width="8" height="2.9" rx="1.2" fill="#1a1a1a"/><line x1="-2.5" y1="-0.2" x2="2.5" y2="-0.2" stroke="#555" stroke-width="0.5"/></g>
<ellipse cx="875.2" cy="428.2" rx="1.5" ry="1.4" fill="#fff" stroke="#111" stroke-width="0.9"/>
<ellipse cx="890.7" cy="425.6" rx="1.5" ry="1.4" fill="#fff" stroke="#111" stroke-width="0.9"/>
<ellipse cx="868" cy="421.1" rx="1.5" ry="1.4" fill="#fff" stroke="#111" stroke-width="0.9"/>
<line x1="874.5" y1="425.9" x2="893.3" y2="423.7" stroke="#111" stroke-width="2.4" stroke-linecap="butt"/>
<line x1="874.5" y1="425.6" x2="866.8" y2="418.5" stroke="#111" stroke-width="1.6" stroke-linecap="butt"/>
<line x1="874.5" y1="425.6" x2="874.34" y2="384" stroke="#111" stroke-width="2.2" stroke-linecap="square"/>
<line x1="874.1" y1="323.2" x2="874.1" y2="323.2" stroke="#111" stroke-width="2.2" stroke-linecap="square"/>
<line x1="874.34" y1="384" x2="874.1" y2="323.2" stroke="#111" stroke-width="1" stroke-linecap="butt"/>
<line x1="866.8" y1="418.5" x2="866.4" y2="316.1" stroke="#111" stroke-width="1.8" stroke-linecap="butt"/>
<line x1="893.3" y1="423.4" x2="893.3" y2="320.95" stroke="#111" stroke-width="1.5" stroke-linecap="butt"/>
<line x1="874.1" y1="324.2" x2="893.3" y2="321.95" stroke="#111" stroke-width="2.4" stroke-linecap="butt"/>
<line x1="874.1" y1="323.2" x2="866.4" y2="316.1" stroke="#111" stroke-width="1.7" stroke-linecap="butt"/>
<line x1="866.4" y1="316.1" x2="885.6" y2="313.85" stroke="#111" stroke-width="1.1" stroke-linecap="butt"/>
<line x1="885.6" y1="313.85" x2="893.3" y2="320.95" stroke="#111" stroke-width="1.3" stroke-linecap="butt"/>
<line x1="866.4" y1="316.1" x2="866.8" y2="418.5" stroke="#333" stroke-width="1.1" stroke-linecap="butt"/></g>
<text x="955.95" y="463.1" font-family="Liberation Sans" font-size="11.7" text-anchor="middle" fill="#1a1a1a" font-weight="normal" textLength="48.2" lengthAdjust="spacingAndGlyphs">ШК-5069</text>
<text x="955.95" y="474.7" font-family="Liberation Sans" font-size="9.4" text-anchor="middle" fill="#1a1a1a" font-weight="normal" textLength="27.5" lengthAdjust="spacingAndGlyphs">Шкаф</text>
<text x="955.95" y="487.6" font-family="Liberation Sans" font-size="10.1" text-anchor="middle" fill="#1a1a1a" font-weight="normal" textLength="63" lengthAdjust="spacingAndGlyphs">1904x360x346</text>
<polygon points="1027.6,425 1027,324.2 1019.3,316.1 1019.9,416.9" fill="#fff" stroke-linejoin="round"/>
<polygon points="1027,324.2 1053.9,321.05 1046.2,312.95 1019.3,316.1" fill="#fff" stroke-linejoin="round"/>
<polygon points="1027.6,425 1053.9,421.92 1053.9,321.05 1027,324.2" fill="#fff" stroke-linejoin="round"/>
<polygon points="1026.36,345.4 1053.13,342.27 1047.36,336.19 1020.59,339.32" fill="none" stroke="#1a1a1a" stroke-width="1.1" stroke-dasharray="2.8 1.7" stroke-linejoin="round"/>
<polygon points="1026.71,404.8 1053.13,401.71 1047.36,395.63 1020.94,398.73" fill="none" stroke="#1a1a1a" stroke-width="1.1" stroke-dasharray="2.8 1.7" stroke-linejoin="round"/>
<line x1="1027.24" y1="364.4" x2="1053.9" y2="361.28" stroke="#111" stroke-width="1.5" stroke-linecap="butt"/>
<line x1="1027.3" y1="374.3" x2="1053.9" y2="371.19" stroke="#111" stroke-width="1.5" stroke-linecap="butt"/>
<line x1="1027.36" y1="384.2" x2="1053.9" y2="381.09" stroke="#111" stroke-width="1.5" stroke-linecap="butt"/>
<g transform="translate(1040.57,362.54) rotate(-6.67)"><rect x="-4" y="-1.5" width="8" height="3" rx="1.2" fill="#1a1a1a"/><line x1="-2.5" y1="-0.2" x2="2.5" y2="-0.2" stroke="#555" stroke-width="0.5"/></g>
<g transform="translate(1040.59,369.14) rotate(-6.67)"><rect x="-4" y="-1.5" width="8" height="3" rx="1.2" fill="#1a1a1a"/><line x1="-2.5" y1="-0.2" x2="2.5" y2="-0.2" stroke="#555" stroke-width="0.5"/></g>
<g transform="translate(1040.62,379.05) rotate(-6.67)"><rect x="-4" y="-1.5" width="8" height="3" rx="1.2" fill="#1a1a1a"/><line x1="-2.5" y1="-0.2" x2="2.5" y2="-0.2" stroke="#555" stroke-width="0.5"/></g>
<g transform="translate(1040.64,385.95) rotate(-6.67)"><rect x="-4" y="-1.5" width="8" height="3" rx="1.2" fill="#1a1a1a"/><line x1="-2.5" y1="-0.2" x2="2.5" y2="-0.2" stroke="#555" stroke-width="0.5"/></g>
<ellipse cx="1028.3" cy="427.6" rx="1.5" ry="1.4" fill="#fff" stroke="#111" stroke-width="0.9"/>
<ellipse cx="1051.3" cy="424.12" rx="1.5" ry="1.4" fill="#fff" stroke="#111" stroke-width="0.9"/>
<ellipse cx="1021.1" cy="419.5" rx="1.5" ry="1.4" fill="#fff" stroke="#111" stroke-width="0.9"/>
<line x1="1027.6" y1="425.3" x2="1053.9" y2="422.22" stroke="#111" stroke-width="2.4" stroke-linecap="butt"/>
<line x1="1027.6" y1="425" x2="1019.9" y2="416.9" stroke="#111" stroke-width="1.6" stroke-linecap="butt"/>
<line x1="1027.6" y1="425" x2="1027" y2="324.2" stroke="#111" stroke-width="2.2" stroke-linecap="square"/>
<line x1="1053.9" y1="421.92" x2="1053.9" y2="321.05" stroke="#111" stroke-width="1.5" stroke-linecap="butt"/>
<line x1="1027" y1="325.2" x2="1053.9" y2="322.05" stroke="#111" stroke-width="2.4" stroke-linecap="butt"/>
<line x1="1027" y1="324.2" x2="1019.3" y2="316.1" stroke="#111" stroke-width="1.7" stroke-linecap="butt"/>
<line x1="1019.3" y1="316.1" x2="1046.2" y2="312.95" stroke="#111" stroke-width="1.1" stroke-linecap="butt"/>
<line x1="1046.2" y1="312.95" x2="1053.9" y2="321.05" stroke="#111" stroke-width="1.3" stroke-linecap="butt"/>
<line x1="1019.3" y1="316.1" x2="1019.9" y2="416.9" stroke="#333" stroke-width="1.1" stroke-linecap="butt"/>
<text x="1036.6" y="463.1" font-family="Liberation Sans" font-size="11.7" text-anchor="middle" fill="#1a1a1a" font-weight="normal" textLength="48.2" lengthAdjust="spacingAndGlyphs">ШК-5072</text>
<text x="1036.6" y="474.7" font-family="Liberation Sans" font-size="9.4" text-anchor="middle" fill="#1a1a1a" font-weight="normal" textLength="27.5" lengthAdjust="spacingAndGlyphs">Шкаф</text>
<text x="1036.6" y="487.6" font-family="Liberation Sans" font-size="10.1" text-anchor="middle" fill="#1a1a1a" font-weight="normal" textLength="63" lengthAdjust="spacingAndGlyphs">1904x540x346</text>
<polygon points="35.4,644.8 35,544 26.9,536.3 27.3,637.1" fill="#fff" stroke-linejoin="round"/>
<polygon points="35,544 61.5,540.9 53.4,533.2 26.9,536.3" fill="#fff" stroke-linejoin="round"/>
<polygon points="35.4,644.8 61.5,641.75 61.5,540.9 35,544" fill="#fff" stroke-linejoin="round"/>
<polygon points="34.51,623.1 60.69,620.04 54.21,613.88 28.03,616.94" fill="none" stroke="#1a1a1a" stroke-width="1.1" stroke-dasharray="2.8 1.7" stroke-linejoin="round"/>
<polygon points="35.23,602.5 61.5,599.43 61.5,540.9 35,544" fill="#fff" stroke="#111" stroke-width="1.1" stroke-linejoin="round"/>
<clipPath id="c20"><polygon points="38,600.18 58.72,597.75 58.7,543.23 37.81,545.67"/></clipPath>
<g clip-path="url(#c20)">
<polygon points="38,600.18 58.72,597.75 58.7,543.23 37.81,545.67" fill="#ececec" stroke-linejoin="round"/>
<polygon points="32.5,591.68 53.22,589.25 53.2,534.73 32.31,537.17" fill="none" stroke="#555" stroke-width="1" stroke-linejoin="round"/>
<line x1="38" y1="600.18" x2="32.5" y2="591.68" stroke="#222" stroke-width="0.9" stroke-linecap="butt"/>
<line x1="58.72" y1="597.75" x2="53.22" y2="589.25" stroke="#222" stroke-width="0.9" stroke-linecap="butt"/>
<line x1="58.7" y1="543.23" x2="53.2" y2="534.73" stroke="#222" stroke-width="0.9" stroke-linecap="butt"/>
<line x1="37.81" y1="545.67" x2="32.31" y2="537.17" stroke="#222" stroke-width="0.9" stroke-linecap="butt"/>
<polygon points="38,600.18 58.72,597.75 53.22,589.25 32.5,591.68" fill="#f4f4f4" stroke="#222" stroke-width="0.9" stroke-linejoin="round"/>
<polygon points="37.87,563.47 58.71,561.04 53.21,552.54 32.37,554.97" fill="#f0f0f0" stroke="#222" stroke-width="0.9" stroke-linejoin="round"/>
<line x1="37.87" y1="563.47" x2="58.71" y2="561.04" stroke="#111" stroke-width="1.7" stroke-linecap="butt"/>
<polygon points="37.94,583.27 58.72,580.84 53.22,572.34 32.44,574.77" fill="#f0f0f0" stroke="#222" stroke-width="0.9" stroke-linejoin="round"/>
<line x1="37.94" y1="583.27" x2="58.72" y2="580.84" stroke="#111" stroke-width="1.7" stroke-linecap="butt"/>
<g transform="translate(51.4,552.26) rotate(60)"><ellipse cx="0" cy="0" rx="3.2" ry="1.3" fill="#111"/><line x1="2.7" y1="0" x2="4.8" y2="0" stroke="#111" stroke-width="0.7"/></g>
<g transform="translate(45.8,568.73) rotate(-50)"><ellipse cx="0" cy="0" rx="3.2" ry="1.3" fill="#111"/><line x1="2.7" y1="0" x2="4.8" y2="0" stroke="#111" stroke-width="0.7"/></g>
<g transform="translate(52.07,581.63) rotate(60)"><ellipse cx="0" cy="0" rx="3.2" ry="1.3" fill="#111"/><line x1="2.7" y1="0" x2="4.8" y2="0" stroke="#111" stroke-width="0.7"/></g>
<g transform="translate(46.49,596.46) rotate(-50)"><ellipse cx="0" cy="0" rx="3.2" ry="1.3" fill="#111"/><line x1="2.7" y1="0" x2="4.8" y2="0" stroke="#111" stroke-width="0.7"/></g>
</g>
<polygon points="38,600.18 58.72,597.75 58.7,543.23 37.81,545.67" fill="none" stroke="#111" stroke-width="1.3" stroke-linejoin="round"/>
<line x1="35.23" y1="602.5" x2="61.5" y2="599.43" stroke="#111" stroke-width="1.5" stroke-linecap="butt"/>
<g transform="translate(49.15,600.87) rotate(-6.67)"><rect x="-4.25" y="-1.45" width="8.5" height="2.9" rx="1.2" fill="#1a1a1a"/><line x1="-2.75" y1="-0.2" x2="2.75" y2="-0.2" stroke="#555" stroke-width="0.5"/></g>
<g transform="translate(49.16,605.77) rotate(-6.67)"><rect x="-4.25" y="-1.45" width="8.5" height="2.9" rx="1.2" fill="#1a1a1a"/><line x1="-2.75" y1="-0.2" x2="2.75" y2="-0.2" stroke="#555" stroke-width="0.5"/></g>
<ellipse cx="36.1" cy="647.4" rx="1.5" ry="1.4" fill="#fff" stroke="#111" stroke-width="0.9"/>
<ellipse cx="58.9" cy="643.95" rx="1.5" ry="1.4" fill="#fff" stroke="#111" stroke-width="0.9"/>
<ellipse cx="28.5" cy="639.7" rx="1.5" ry="1.4" fill="#fff" stroke="#111" stroke-width="0.9"/>
<line x1="35.4" y1="645.1" x2="61.5" y2="642.05" stroke="#111" stroke-width="2.4" stroke-linecap="butt"/>
<line x1="35.4" y1="644.8" x2="27.3" y2="637.1" stroke="#111" stroke-width="1.6" stroke-linecap="butt"/>
<line x1="35.4" y1="644.8" x2="35" y2="544" stroke="#111" stroke-width="2.2" stroke-linecap="square"/>
<line x1="61.5" y1="641.75" x2="61.5" y2="540.9" stroke="#111" stroke-width="1.5" stroke-linecap="butt"/>
<line x1="35" y1="545" x2="61.5" y2="541.9" stroke="#111" stroke-width="2.4" stroke-linecap="butt"/>
<line x1="35" y1="544" x2="26.9" y2="536.3" stroke="#111" stroke-width="1.7" stroke-linecap="butt"/>
<line x1="26.9" y1="536.3" x2="53.4" y2="533.2" stroke="#111" stroke-width="1.1" stroke-linecap="butt"/>
<line x1="53.4" y1="533.2" x2="61.5" y2="540.9" stroke="#111" stroke-width="1.3" stroke-linecap="butt"/>
<line x1="26.9" y1="536.3" x2="27.3" y2="637.1" stroke="#333" stroke-width="1.1" stroke-linecap="butt"/>
<text x="44.2" y="676" font-family="Liberation Sans" font-size="11.7" text-anchor="middle" fill="#1a1a1a" font-weight="normal" textLength="48.2" lengthAdjust="spacingAndGlyphs">ШК-5073</text>
<text x="44.2" y="688" font-family="Liberation Sans" font-size="9.4" text-anchor="middle" fill="#1a1a1a" font-weight="normal" textLength="27.5" lengthAdjust="spacingAndGlyphs">Шкаф</text>
<text x="44.2" y="700.8" font-family="Liberation Sans" font-size="10.1" text-anchor="middle" fill="#1a1a1a" font-weight="normal" textLength="63" lengthAdjust="spacingAndGlyphs">1904x540x346</text>
<polygon points="109.3,644.8 108.9,544 100.8,536.3 101.2,637.1" fill="#fff" stroke-linejoin="round"/>
<polygon points="108.9,544 135.4,540.9 127.3,533.2 100.8,536.3" fill="#fff" stroke-linejoin="round"/>
<polygon points="109.3,644.8 135.4,641.75 135.4,540.9 108.9,544" fill="#fff" stroke-linejoin="round"/>
<polygon points="108.41,623.1 134.59,620.04 128.11,613.88 101.93,616.94" fill="none" stroke="#1a1a1a" stroke-width="1.1" stroke-dasharray="2.8 1.7" stroke-linejoin="round"/>
<polygon points="109.13,602.5 135.4,599.43 135.4,540.9 108.9,544" fill="#fff" stroke="#111" stroke-width="1.1" stroke-linejoin="round"/>
<clipPath id="c21"><polygon points="111.9,600.18 132.62,597.75 132.6,543.23 111.71,545.67"/></clipPath>
<g clip-path="url(#c21)">
<polygon points="111.9,600.18 132.62,597.75 132.6,543.23 111.71,545.67" fill="#ececec" stroke-linejoin="round"/>
<polygon points="106.4,591.68 127.12,589.25 127.1,534.73 106.21,537.17" fill="none" stroke="#555" stroke-width="1" stroke-linejoin="round"/>
<line x1="111.9" y1="600.18" x2="106.4" y2="591.68" stroke="#222" stroke-width="0.9" stroke-linecap="butt"/>
<line x1="132.62" y1="597.75" x2="127.12" y2="589.25" stroke="#222" stroke-width="0.9" stroke-linecap="butt"/>
<line x1="132.6" y1="543.23" x2="127.1" y2="534.73" stroke="#222" stroke-width="0.9" stroke-linecap="butt"/>
<line x1="111.71" y1="545.67" x2="106.21" y2="537.17" stroke="#222" stroke-width="0.9" stroke-linecap="butt"/>
<polygon points="111.9,600.18 132.62,597.75 127.12,589.25 106.4,591.68" fill="#f4f4f4" stroke="#222" stroke-width="0.9" stroke-linejoin="round"/>
<polygon points="111.77,563.47 132.61,561.04 127.11,552.54 106.27,554.97" fill="#d8e9f6" stroke="#222" stroke-width="0.9" stroke-linejoin="round"/>
<line x1="111.77" y1="563.47" x2="132.61" y2="561.04" stroke="#111" stroke-width="1.7" stroke-linecap="butt"/>
<polygon points="111.84,583.27 132.62,580.84 127.12,572.34 106.34,574.77" fill="#d8e9f6" stroke="#222" stroke-width="0.9" stroke-linejoin="round"/>
<line x1="111.84" y1="583.27" x2="132.62" y2="580.84" stroke="#111" stroke-width="1.7" stroke-linecap="butt"/>
<g transform="translate(125.3,552.26) rotate(60)"><ellipse cx="0" cy="0" rx="3.2" ry="1.3" fill="#111"/><line x1="2.7" y1="0" x2="4.8" y2="0" stroke="#111" stroke-width="0.7"/></g>
<g transform="translate(119.7,568.73) rotate(-50)"><ellipse cx="0" cy="0" rx="3.2" ry="1.3" fill="#111"/><line x1="2.7" y1="0" x2="4.8" y2="0" stroke="#111" stroke-width="0.7"/></g>
<g transform="translate(125.97,581.63) rotate(60)"><ellipse cx="0" cy="0" rx="3.2" ry="1.3" fill="#111"/><line x1="2.7" y1="0" x2="4.8" y2="0" stroke="#111" stroke-width="0.7"/></g>
<g transform="translate(120.39,596.46) rotate(-50)"><ellipse cx="0" cy="0" rx="3.2" ry="1.3" fill="#111"/><line x1="2.7" y1="0" x2="4.8" y2="0" stroke="#111" stroke-width="0.7"/></g>
</g>
<polygon points="111.9,600.18 132.62,597.75 132.6,543.23 111.71,545.67" fill="none" stroke="#111" stroke-width="1.3" stroke-linejoin="round"/>
<line x1="109.13" y1="602.5" x2="135.4" y2="599.43" stroke="#111" stroke-width="1.5" stroke-linecap="butt"/>
<g transform="translate(123.05,600.87) rotate(-6.67)"><rect x="-4.25" y="-1.45" width="8.5" height="2.9" rx="1.2" fill="#1a1a1a"/><line x1="-2.75" y1="-0.2" x2="2.75" y2="-0.2" stroke="#555" stroke-width="0.5"/></g>
<g transform="translate(123.06,605.77) rotate(-6.67)"><rect x="-4.25" y="-1.45" width="8.5" height="2.9" rx="1.2" fill="#1a1a1a"/><line x1="-2.75" y1="-0.2" x2="2.75" y2="-0.2" stroke="#555" stroke-width="0.5"/></g>
<ellipse cx="110" cy="647.4" rx="1.5" ry="1.4" fill="#fff" stroke="#111" stroke-width="0.9"/>
<ellipse cx="132.8" cy="643.95" rx="1.5" ry="1.4" fill="#fff" stroke="#111" stroke-width="0.9"/>
<ellipse cx="102.4" cy="639.7" rx="1.5" ry="1.4" fill="#fff" stroke="#111" stroke-width="0.9"/>
<line x1="109.3" y1="645.1" x2="135.4" y2="642.05" stroke="#111" stroke-width="2.4" stroke-linecap="butt"/>
<line x1="109.3" y1="644.8" x2="101.2" y2="637.1" stroke="#111" stroke-width="1.6" stroke-linecap="butt"/>
<line x1="109.3" y1="644.8" x2="108.9" y2="544" stroke="#111" stroke-width="2.2" stroke-linecap="square"/>
<line x1="135.4" y1="641.75" x2="135.4" y2="540.9" stroke="#111" stroke-width="1.5" stroke-linecap="butt"/>
<line x1="108.9" y1="545" x2="135.4" y2="541.9" stroke="#111" stroke-width="2.4" stroke-linecap="butt"/>
<line x1="108.9" y1="544" x2="100.8" y2="536.3" stroke="#111" stroke-width="1.7" stroke-linecap="butt"/>
<line x1="100.8" y1="536.3" x2="127.3" y2="533.2" stroke="#111" stroke-width="1.1" stroke-linecap="butt"/>
<line x1="127.3" y1="533.2" x2="135.4" y2="540.9" stroke="#111" stroke-width="1.3" stroke-linecap="butt"/>
<line x1="100.8" y1="536.3" x2="101.2" y2="637.1" stroke="#333" stroke-width="1.1" stroke-linecap="butt"/>
<text x="118.1" y="676" font-family="Liberation Sans" font-size="11.7" text-anchor="middle" fill="#1a1a1a" font-weight="normal" textLength="48.2" lengthAdjust="spacingAndGlyphs">ШК-5074</text>
<text x="118.1" y="688" font-family="Liberation Sans" font-size="9.4" text-anchor="middle" fill="#1a1a1a" font-weight="normal" textLength="27.5" lengthAdjust="spacingAndGlyphs">Шкаф</text>
<text x="118.1" y="700.8" font-family="Liberation Sans" font-size="10.1" text-anchor="middle" fill="#1a1a1a" font-weight="normal" textLength="63" lengthAdjust="spacingAndGlyphs">1904x540x346</text>
<polygon points="180.3,644 180,544.2 172,535.9 172.3,635.7" fill="#fff" stroke-linejoin="round"/>
<polygon points="180,544.2 207.5,540.98 199.5,532.68 172,535.9" fill="#fff" stroke-linejoin="round"/>
<polygon points="180.3,644 207.5,640.82 207.5,540.98 180,544.2" fill="#fff" stroke-linejoin="round"/>
<polygon points="179.67,568.7 207.1,565.49 201.1,559.27 173.67,562.47" fill="none" stroke="#1a1a1a" stroke-width="1.1" stroke-dasharray="2.8 1.7" stroke-linejoin="round"/>
<polygon points="179.73,587.7 207.1,584.5 201.1,578.27 173.73,581.47" fill="none" stroke="#1a1a1a" stroke-width="1.1" stroke-dasharray="2.8 1.7" stroke-linejoin="round"/>
<polygon points="179.84,623.6 207.1,620.41 201.1,614.19 173.84,617.37" fill="none" stroke="#1a1a1a" stroke-width="1.1" stroke-dasharray="2.8 1.7" stroke-linejoin="round"/>
<line x1="180.18" y1="605" x2="207.5" y2="601.8" stroke="#111" stroke-width="1.5" stroke-linecap="butt"/>
<g transform="translate(193.84,602.1) rotate(-6.67)"><rect x="-4.25" y="-1.45" width="8.5" height="2.9" rx="1.2" fill="#1a1a1a"/><line x1="-2.75" y1="-0.2" x2="2.75" y2="-0.2" stroke="#555" stroke-width="0.5"/></g>
<g transform="translate(193.84,605.6) rotate(-6.67)"><rect x="-4.25" y="-1.45" width="8.5" height="2.9" rx="1.2" fill="#1a1a1a"/><line x1="-2.75" y1="-0.2" x2="2.75" y2="-0.2" stroke="#555" stroke-width="0.5"/></g>
<ellipse cx="181" cy="646.6" rx="1.5" ry="1.4" fill="#fff" stroke="#111" stroke-width="0.9"/>
<ellipse cx="204.9" cy="643.02" rx="1.5" ry="1.4" fill="#fff" stroke="#111" stroke-width="0.9"/>
<ellipse cx="173.5" cy="638.3" rx="1.5" ry="1.4" fill="#fff" stroke="#111" stroke-width="0.9"/>
<line x1="180.3" y1="644.3" x2="207.5" y2="641.12" stroke="#111" stroke-width="2.4" stroke-linecap="butt"/>
<line x1="180.3" y1="644" x2="172.3" y2="635.7" stroke="#111" stroke-width="1.6" stroke-linecap="butt"/>
<line x1="180.3" y1="644" x2="180" y2="544.2" stroke="#111" stroke-width="2.2" stroke-linecap="square"/>
<line x1="207.5" y1="640.82" x2="207.5" y2="540.98" stroke="#111" stroke-width="1.5" stroke-linecap="butt"/>
<line x1="180" y1="545.2" x2="207.5" y2="541.98" stroke="#111" stroke-width="2.4" stroke-linecap="butt"/>
<line x1="180" y1="544.2" x2="172" y2="535.9" stroke="#111" stroke-width="1.7" stroke-linecap="butt"/>
<line x1="172" y1="535.9" x2="199.5" y2="532.68" stroke="#111" stroke-width="1.1" stroke-linecap="butt"/>
<line x1="199.5" y1="532.68" x2="207.5" y2="540.98" stroke="#111" stroke-width="1.3" stroke-linecap="butt"/>
<line x1="172" y1="535.9" x2="172.3" y2="635.7" stroke="#333" stroke-width="1.1" stroke-linecap="butt"/>
<text x="189.75" y="676" font-family="Liberation Sans" font-size="11.7" text-anchor="middle" fill="#1a1a1a" font-weight="normal" textLength="48.2" lengthAdjust="spacingAndGlyphs">ШК-5075</text>
<text x="189.75" y="688" font-family="Liberation Sans" font-size="9.4" text-anchor="middle" fill="#1a1a1a" font-weight="normal" textLength="27.5" lengthAdjust="spacingAndGlyphs">Шкаф</text>
<text x="189.75" y="700.8" font-family="Liberation Sans" font-size="10.1" text-anchor="middle" fill="#1a1a1a" font-weight="normal" textLength="63" lengthAdjust="spacingAndGlyphs">1904x540x346</text>
<polygon points="257.2,644 256.9,545.2 249.5,536.5 249.8,635.3" fill="#fff" stroke-linejoin="round"/>
<polygon points="256.9,545.2 276.2,542.94 268.8,534.24 249.5,536.5" fill="#fff" stroke-linejoin="round"/>
<polygon points="257.2,644 276.2,641.78 276.2,542.94 256.9,545.2" fill="#fff" stroke-linejoin="round"/>
<polygon points="256.6,568.7 275.83,566.45 270.28,559.93 251.05,562.17" fill="none" stroke="#1a1a1a" stroke-width="1.1" stroke-dasharray="2.8 1.7" stroke-linejoin="round"/>
<polygon points="256.66,587.6 275.83,585.36 270.28,578.83 251.11,581.08" fill="none" stroke="#1a1a1a" stroke-width="1.1" stroke-dasharray="2.8 1.7" stroke-linejoin="round"/>
<polygon points="256.77,623.8 275.83,621.57 270.28,615.04 251.22,617.27" fill="none" stroke="#1a1a1a" stroke-width="1.1" stroke-dasharray="2.8 1.7" stroke-linejoin="round"/>
<line x1="257.08" y1="604.9" x2="276.2" y2="602.66" stroke="#111" stroke-width="1.5" stroke-linecap="butt"/>
<g transform="translate(266.64,602.58) rotate(-6.67)"><rect x="-4" y="-1.45" width="8" height="2.9" rx="1.2" fill="#1a1a1a"/><line x1="-2.5" y1="-0.2" x2="2.5" y2="-0.2" stroke="#555" stroke-width="0.5"/></g>
<g transform="translate(266.64,606.18) rotate(-6.67)"><rect x="-4" y="-1.45" width="8" height="2.9" rx="1.2" fill="#1a1a1a"/><line x1="-2.5" y1="-0.2" x2="2.5" y2="-0.2" stroke="#555" stroke-width="0.5"/></g>
<ellipse cx="257.9" cy="646.6" rx="1.5" ry="1.4" fill="#fff" stroke="#111" stroke-width="0.9"/>
<ellipse cx="273.6" cy="643.98" rx="1.5" ry="1.4" fill="#fff" stroke="#111" stroke-width="0.9"/>
<ellipse cx="251" cy="637.9" rx="1.5" ry="1.4" fill="#fff" stroke="#111" stroke-width="0.9"/>
<line x1="257.2" y1="644.3" x2="276.2" y2="642.08" stroke="#111" stroke-width="2.4" stroke-linecap="butt"/>
<line x1="257.2" y1="644" x2="249.8" y2="635.3" stroke="#111" stroke-width="1.6" stroke-linecap="butt"/>
<line x1="257.2" y1="644" x2="256.9" y2="545.2" stroke="#111" stroke-width="2.2" stroke-linecap="square"/>
<line x1="276.2" y1="641.78" x2="276.2" y2="542.94" stroke="#111" stroke-width="1.5" stroke-linecap="butt"/>
<line x1="256.9" y1="546.2" x2="276.2" y2="543.94" stroke="#111" stroke-width="2.4" stroke-linecap="butt"/>
<line x1="256.9" y1="545.2" x2="249.5" y2="536.5" stroke="#111" stroke-width="1.7" stroke-linecap="butt"/>
<line x1="249.5" y1="536.5" x2="268.8" y2="534.24" stroke="#111" stroke-width="1.1" stroke-linecap="butt"/>
<line x1="268.8" y1="534.24" x2="276.2" y2="542.94" stroke="#111" stroke-width="1.3" stroke-linecap="butt"/>
<line x1="249.5" y1="536.5" x2="249.8" y2="635.3" stroke="#333" stroke-width="1.1" stroke-linecap="butt"/>
<text x="262.85" y="676" font-family="Liberation Sans" font-size="11.7" text-anchor="middle" fill="#1a1a1a" font-weight="normal" textLength="48.2" lengthAdjust="spacingAndGlyphs">ШК-5076</text>
<text x="262.85" y="688" font-family="Liberation Sans" font-size="9.4" text-anchor="middle" fill="#1a1a1a" font-weight="normal" textLength="27.5" lengthAdjust="spacingAndGlyphs">Шкаф</text>
<text x="262.85" y="700.8" font-family="Liberation Sans" font-size="10.1" text-anchor="middle" fill="#1a1a1a" font-weight="normal" textLength="63" lengthAdjust="spacingAndGlyphs">1904x360x346</text>
<polygon points="327.6,644 327,544.8 319.8,536.5 320.4,635.7" fill="#fff" stroke-linejoin="round"/>
<polygon points="327,544.8 354.7,541.56 347.5,533.26 319.8,536.5" fill="#fff" stroke-linejoin="round"/>
<polygon points="327.6,644 354.7,640.83 354.7,541.56 327,544.8" fill="#fff" stroke-linejoin="round"/>
<polygon points="326.76,563.8 354.34,560.57 348.94,554.35 321.36,557.57" fill="none" stroke="#1a1a1a" stroke-width="1.1" stroke-dasharray="2.8 1.7" stroke-linejoin="round"/>
<line x1="335.6" y1="560.5" x2="340.5" y2="566.3" stroke="#333" stroke-width="1.1" stroke-linecap="butt"/>
<rect x="352.82" y="588.58" width="2.4" height="7.4" rx="0.8" fill="#1a1a1a"/>
<line x1="354.02" y1="589.78" x2="354.02" y2="594.78" stroke="#555" stroke-width="0.5"/>
<ellipse cx="328.3" cy="646.6" rx="1.5" ry="1.4" fill="#fff" stroke="#111" stroke-width="0.9"/>
<ellipse cx="352.1" cy="643.03" rx="1.5" ry="1.4" fill="#fff" stroke="#111" stroke-width="0.9"/>
<ellipse cx="321.6" cy="638.3" rx="1.5" ry="1.4" fill="#fff" stroke="#111" stroke-width="0.9"/>
<line x1="327.6" y1="644.3" x2="354.7" y2="641.13" stroke="#111" stroke-width="2.4" stroke-linecap="butt"/>
<line x1="327.6" y1="644" x2="320.4" y2="635.7" stroke="#111" stroke-width="1.6" stroke-linecap="butt"/>
<line x1="327.6" y1="644" x2="327" y2="544.8" stroke="#111" stroke-width="2.2" stroke-linecap="square"/>
<line x1="354.7" y1="640.83" x2="354.7" y2="541.56" stroke="#111" stroke-width="1.5" stroke-linecap="butt"/>
<line x1="327" y1="545.8" x2="354.7" y2="542.56" stroke="#111" stroke-width="2.4" stroke-linecap="butt"/>
<line x1="327" y1="544.8" x2="319.8" y2="536.5" stroke="#111" stroke-width="1.7" stroke-linecap="butt"/>
<line x1="319.8" y1="536.5" x2="347.5" y2="533.26" stroke="#111" stroke-width="1.1" stroke-linecap="butt"/>
<line x1="347.5" y1="533.26" x2="354.7" y2="541.56" stroke="#111" stroke-width="1.3" stroke-linecap="butt"/>
<line x1="319.8" y1="536.5" x2="320.4" y2="635.7" stroke="#333" stroke-width="1.1" stroke-linecap="butt"/>
<text x="337.25" y="676" font-family="Liberation Sans" font-size="11.7" text-anchor="middle" fill="#1a1a1a" font-weight="normal" textLength="48.2" lengthAdjust="spacingAndGlyphs">ШК-5077</text>
<text x="337.25" y="688" font-family="Liberation Sans" font-size="9.4" text-anchor="middle" fill="#1a1a1a" font-weight="normal" textLength="27.5" lengthAdjust="spacingAndGlyphs">Шкаф</text>
<text x="337.25" y="700.8" font-family="Liberation Sans" font-size="10.1" text-anchor="middle" fill="#1a1a1a" font-weight="normal" textLength="63" lengthAdjust="spacingAndGlyphs">1904x540x346</text>
<polygon points="398.9,644.1 398.7,563.2 390.8,556.5 391,637.4" fill="#fff" stroke-linejoin="round"/>
<polygon points="398.7,563.2 468.5,555.03 460.6,548.33 390.8,556.5" fill="#fff" stroke-linejoin="round"/>
<polygon points="398.9,644.1 468.2,635.99 468.5,555.03 398.7,563.2" fill="#fff" stroke-linejoin="round"/>
<polygon points="398.9,644.1 416.09,642.09 416.01,561.17 398.7,563.2" fill="#fff" stroke="#111" stroke-width="1.1" stroke-linejoin="round"/>
<polygon points="398.9,644.1 391,637.4 390.8,556.5 398.7,563.2" fill="#fff" stroke-linejoin="round"/>
<clipPath id="c22"><polygon points="391.36,559.77 398.71,566 412.81,564.35 412.91,639.66 398.89,641.3 391.55,635.07"/></clipPath>
<g clip-path="url(#c22)">
<polygon points="391.36,559.77 398.71,566 412.81,564.35 412.91,639.66 398.89,641.3 391.55,635.07" fill="#ececec" stroke-linejoin="round"/>
<line x1="408.51" y1="557.61" x2="408.58" y2="632.92" stroke="#888" stroke-width="0.9" stroke-linecap="butt"/>
<polygon points="398.89,639.68 416.08,637.67 408.18,630.97 390.99,632.98" fill="#f4f4f4" stroke="#222" stroke-width="0.9" stroke-linejoin="round"/>
<polygon points="398.75,581.7 416.03,579.68 408.13,572.98 390.85,575" fill="#d8e9f6" stroke="#222" stroke-width="0.9" stroke-linejoin="round"/>
<line x1="398.75" y1="581.7" x2="416.03" y2="579.68" stroke="#111" stroke-width="1.7" stroke-linecap="butt"/>
<line x1="398.75" y1="581.7" x2="390.85" y2="575" stroke="#111" stroke-width="1.7" stroke-linecap="butt"/>
<polygon points="398.79,601.2 416.05,599.18 408.15,592.48 390.89,594.5" fill="#d8e9f6" stroke="#222" stroke-width="0.9" stroke-linejoin="round"/>
<line x1="398.79" y1="601.2" x2="416.05" y2="599.18" stroke="#111" stroke-width="1.7" stroke-linecap="butt"/>
<line x1="398.79" y1="601.2" x2="390.89" y2="594.5" stroke="#111" stroke-width="1.7" stroke-linecap="butt"/>
<polygon points="398.84,620.6 416.06,618.58 408.16,611.88 390.94,613.9" fill="#d8e9f6" stroke="#222" stroke-width="0.9" stroke-linejoin="round"/>
<line x1="398.84" y1="620.6" x2="416.06" y2="618.58" stroke="#111" stroke-width="1.7" stroke-linecap="butt"/>
<line x1="398.84" y1="620.6" x2="390.94" y2="613.9" stroke="#111" stroke-width="1.7" stroke-linecap="butt"/>
<g transform="translate(408.59,568.61) rotate(60)"><ellipse cx="0" cy="0" rx="3.2" ry="1.3" fill="#111"/><line x1="2.7" y1="0" x2="4.8" y2="0" stroke="#111" stroke-width="0.7"/></g>
<g transform="translate(404.39,584.17) rotate(-55)"><ellipse cx="0" cy="0" rx="3.2" ry="1.3" fill="#111"/><line x1="2.7" y1="0" x2="4.8" y2="0" stroke="#111" stroke-width="0.7"/></g>
<g transform="translate(409.33,594.89) rotate(60)"><ellipse cx="0" cy="0" rx="3.2" ry="1.3" fill="#111"/><line x1="2.7" y1="0" x2="4.8" y2="0" stroke="#111" stroke-width="0.7"/></g>
<g transform="translate(404.43,606.76) rotate(-55)"><ellipse cx="0" cy="0" rx="3.2" ry="1.3" fill="#111"/><line x1="2.7" y1="0" x2="4.8" y2="0" stroke="#111" stroke-width="0.7"/></g>
<g transform="translate(409.37,617.48) rotate(60)"><ellipse cx="0" cy="0" rx="3.2" ry="1.3" fill="#111"/><line x1="2.7" y1="0" x2="4.8" y2="0" stroke="#111" stroke-width="0.7"/></g>
<g transform="translate(404.47,625.58) rotate(-55)"><ellipse cx="0" cy="0" rx="3.2" ry="1.3" fill="#111"/><line x1="2.7" y1="0" x2="4.8" y2="0" stroke="#111" stroke-width="0.7"/></g>
<g transform="translate(409.4,636.3) rotate(60)"><ellipse cx="0" cy="0" rx="3.2" ry="1.3" fill="#111"/><line x1="2.7" y1="0" x2="4.8" y2="0" stroke="#111" stroke-width="0.7"/></g>
<g transform="translate(395.07,577.94) rotate(60)"><ellipse cx="0" cy="0" rx="3.2" ry="1.3" fill="#111"/><line x1="2.7" y1="0" x2="4.8" y2="0" stroke="#111" stroke-width="0.7"/></g>
<g transform="translate(395.12,596.77) rotate(60)"><ellipse cx="0" cy="0" rx="3.2" ry="1.3" fill="#111"/><line x1="2.7" y1="0" x2="4.8" y2="0" stroke="#111" stroke-width="0.7"/></g>
<g transform="translate(395.16,615.59) rotate(60)"><ellipse cx="0" cy="0" rx="3.2" ry="1.3" fill="#111"/><line x1="2.7" y1="0" x2="4.8" y2="0" stroke="#111" stroke-width="0.7"/></g>
<g transform="translate(395.2,630.65) rotate(60)"><ellipse cx="0" cy="0" rx="3.2" ry="1.3" fill="#111"/><line x1="2.7" y1="0" x2="4.8" y2="0" stroke="#111" stroke-width="0.7"/></g>
</g>
<polygon points="391.36,559.77 398.71,566 412.81,564.35 412.91,639.66 398.89,641.3 391.55,635.07" fill="none" stroke="#111" stroke-width="1" stroke-linejoin="round"/>
<polygon points="449.49,638.18 468.2,635.99 468.5,555.03 449.65,557.24" fill="#fff" stroke="#111" stroke-width="1.1" stroke-linejoin="round"/>
<clipPath id="c23"><polygon points="452.87,635.28 464.83,633.89 465.09,557.93 453.05,559.34"/></clipPath>
<g clip-path="url(#c23)">
<polygon points="452.87,635.28 464.83,633.89 465.09,557.93 453.05,559.34" fill="#ececec" stroke-linejoin="round"/>
<polygon points="452.87,635.28 464.83,633.89 455.83,625.39 443.87,626.78" fill="#f4f4f4" stroke="#222" stroke-width="0.9" stroke-linejoin="round"/>
<polygon points="453.01,573.65 465.04,572.24 456.04,563.74 444.01,565.15" fill="#d8e9f6" stroke="#222" stroke-width="0.9" stroke-linejoin="round"/>
<line x1="453.01" y1="573.65" x2="465.04" y2="572.24" stroke="#111" stroke-width="1.7" stroke-linecap="butt"/>
<polygon points="452.97,593.86 464.97,592.46 455.97,583.96 443.97,585.36" fill="#d8e9f6" stroke="#222" stroke-width="0.9" stroke-linejoin="round"/>
<line x1="452.97" y1="593.86" x2="464.97" y2="592.46" stroke="#111" stroke-width="1.7" stroke-linecap="butt"/>
<polygon points="452.92,614.07 464.91,612.67 455.91,604.17 443.92,605.57" fill="#d8e9f6" stroke="#222" stroke-width="0.9" stroke-linejoin="round"/>
<line x1="452.92" y1="614.07" x2="464.91" y2="612.67" stroke="#111" stroke-width="1.7" stroke-linecap="butt"/>
<g transform="translate(462.06,565.88) rotate(60)"><ellipse cx="0" cy="0" rx="3.2" ry="1.3" fill="#111"/><line x1="2.7" y1="0" x2="4.8" y2="0" stroke="#111" stroke-width="0.7"/></g>
<g transform="translate(456,581.77) rotate(-55)"><ellipse cx="0" cy="0" rx="3.2" ry="1.3" fill="#111"/><line x1="2.7" y1="0" x2="4.8" y2="0" stroke="#111" stroke-width="0.7"/></g>
<g transform="translate(461.97,592.46) rotate(60)"><ellipse cx="0" cy="0" rx="3.2" ry="1.3" fill="#111"/><line x1="2.7" y1="0" x2="4.8" y2="0" stroke="#111" stroke-width="0.7"/></g>
<g transform="translate(455.94,604.56) rotate(-55)"><ellipse cx="0" cy="0" rx="3.2" ry="1.3" fill="#111"/><line x1="2.7" y1="0" x2="4.8" y2="0" stroke="#111" stroke-width="0.7"/></g>
<g transform="translate(461.9,615.25) rotate(60)"><ellipse cx="0" cy="0" rx="3.2" ry="1.3" fill="#111"/><line x1="2.7" y1="0" x2="4.8" y2="0" stroke="#111" stroke-width="0.7"/></g>
<g transform="translate(455.88,627.34) rotate(-55)"><ellipse cx="0" cy="0" rx="3.2" ry="1.3" fill="#111"/><line x1="2.7" y1="0" x2="4.8" y2="0" stroke="#111" stroke-width="0.7"/></g>
</g>
<polygon points="452.87,635.28 464.83,633.89 465.09,557.93 453.05,559.34" fill="none" stroke="#111" stroke-width="1.3" stroke-linejoin="round"/>
<polygon points="417.86,571.22 447.84,567.71 441.92,562.68 411.93,566.19" fill="none" stroke="#1a1a1a" stroke-width="1.1" stroke-dasharray="2.8 1.7" stroke-linejoin="round"/>
<polygon points="417.89,620.23 447.75,616.73 441.82,611.71 411.97,615.2" fill="none" stroke="#1a1a1a" stroke-width="1.1" stroke-dasharray="2.8 1.7" stroke-linejoin="round"/>
<line x1="416.09" y1="642.09" x2="416.01" y2="561.17" stroke="#111" stroke-width="1.3" stroke-linecap="butt"/>
<line x1="418.3" y1="641.83" x2="418.24" y2="560.91" stroke="#111" stroke-width="1.3" stroke-linecap="butt"/>
<line x1="448.1" y1="638.34" x2="448.26" y2="557.4" stroke="#111" stroke-width="1.3" stroke-linecap="butt"/>
<line x1="449.49" y1="638.18" x2="449.65" y2="557.24" stroke="#111" stroke-width="1.3" stroke-linecap="butt"/>
<line x1="418.27" y1="589.72" x2="448.2" y2="586.22" stroke="#111" stroke-width="1.5" stroke-linecap="butt"/>
<line x1="418.27" y1="601.02" x2="448.18" y2="597.52" stroke="#111" stroke-width="1.5" stroke-linecap="butt"/>
<g transform="translate(434.64,563) rotate(-6.67)"><rect x="-4.25" y="-1.45" width="8.5" height="2.9" rx="1.2" fill="#1a1a1a"/><line x1="-2.75" y1="-0.2" x2="2.75" y2="-0.2" stroke="#555" stroke-width="0.5"/></g>
<g transform="translate(434.62,595.41) rotate(-6.67)"><rect x="-4.25" y="-1.45" width="8.5" height="2.9" rx="1.2" fill="#1a1a1a"/><line x1="-2.75" y1="-0.2" x2="2.75" y2="-0.2" stroke="#555" stroke-width="0.5"/></g>
<g transform="translate(434.62,602.41) rotate(-6.67)"><rect x="-4.25" y="-1.45" width="8.5" height="2.9" rx="1.2" fill="#1a1a1a"/><line x1="-2.75" y1="-0.2" x2="2.75" y2="-0.2" stroke="#555" stroke-width="0.5"/></g>
<ellipse cx="399.6" cy="646.7" rx="1.5" ry="1.4" fill="#fff" stroke="#111" stroke-width="0.9"/>
<ellipse cx="465.6" cy="638.19" rx="1.5" ry="1.4" fill="#fff" stroke="#111" stroke-width="0.9"/>
<ellipse cx="392.2" cy="640" rx="1.5" ry="1.4" fill="#fff" stroke="#111" stroke-width="0.9"/>
<line x1="398.9" y1="644.4" x2="468.2" y2="636.29" stroke="#111" stroke-width="2.4" stroke-linecap="butt"/>
<line x1="398.9" y1="644.1" x2="391" y2="637.4" stroke="#111" stroke-width="1.6" stroke-linecap="butt"/>
<line x1="398.9" y1="644.1" x2="398.9" y2="644.1" stroke="#111" stroke-width="2.2" stroke-linecap="square"/>
<line x1="398.7" y1="563.2" x2="398.7" y2="563.2" stroke="#111" stroke-width="2.2" stroke-linecap="square"/>
<line x1="398.9" y1="644.1" x2="398.7" y2="563.2" stroke="#111" stroke-width="1" stroke-linecap="butt"/>
<line x1="391" y1="637.4" x2="390.8" y2="556.5" stroke="#111" stroke-width="1.8" stroke-linecap="butt"/>
<line x1="468.2" y1="635.99" x2="468.5" y2="555.03" stroke="#111" stroke-width="1.5" stroke-linecap="butt"/>
<line x1="398.7" y1="564.2" x2="468.5" y2="556.03" stroke="#111" stroke-width="2.4" stroke-linecap="butt"/>
<line x1="398.7" y1="563.2" x2="390.8" y2="556.5" stroke="#111" stroke-width="1.7" stroke-linecap="butt"/>
<line x1="390.8" y1="556.5" x2="460.6" y2="548.33" stroke="#111" stroke-width="1.1" stroke-linecap="butt"/>
<line x1="460.6" y1="548.33" x2="468.5" y2="555.03" stroke="#111" stroke-width="1.3" stroke-linecap="butt"/>
<line x1="390.8" y1="556.5" x2="391" y2="637.4" stroke="#333" stroke-width="1.1" stroke-linecap="butt"/>
<text x="429.65" y="676" font-family="Liberation Sans" font-size="11.7" text-anchor="middle" fill="#1a1a1a" font-weight="normal" textLength="48.2" lengthAdjust="spacingAndGlyphs">ШК-5080</text>
<text x="429.65" y="688" font-family="Liberation Sans" font-size="9.4" text-anchor="middle" fill="#1a1a1a" font-weight="normal" textLength="27.5" lengthAdjust="spacingAndGlyphs">Шкаф</text>
<text x="429.65" y="700.8" font-family="Liberation Sans" font-size="10.1" text-anchor="middle" fill="#1a1a1a" font-weight="normal" textLength="68.25" lengthAdjust="spacingAndGlyphs">1544x1260x346</text>
<polygon points="514.1,644.3 513.8,563.5 506,555.7 506.3,636.5" fill="#fff" stroke-linejoin="round"/>
<polygon points="513.8,563.5 560.1,558.08 552.3,550.28 506,555.7" fill="#fff" stroke-linejoin="round"/>
<polygon points="514.1,644.3 560.1,638.92 560.1,558.08 513.8,563.5" fill="#fff" stroke-linejoin="round"/>
<polygon points="513.49,585.5 541.22,582.26 534.98,576.02 507.25,579.26" fill="none" stroke="#1a1a1a" stroke-width="1.1" stroke-dasharray="2.8 1.7" stroke-linejoin="round"/>
<polygon points="513.64,624.7 541.28,621.47 535.04,615.23 507.4,618.46" fill="none" stroke="#1a1a1a" stroke-width="1.1" stroke-dasharray="2.8 1.7" stroke-linejoin="round"/>
<polygon points="542.39,640.99 560.1,638.92 560.1,558.08 542.27,560.17" fill="#fff" stroke="#111" stroke-width="1.1" stroke-linejoin="round"/>
<clipPath id="c24"><polygon points="545.77,638.09 556.72,636.81 556.7,560.98 545.68,562.27"/></clipPath>
<g clip-path="url(#c24)">
<polygon points="545.77,638.09 556.72,636.81 556.7,560.98 545.68,562.27" fill="#ececec" stroke-linejoin="round"/>
<polygon points="540.27,629.59 551.22,628.31 551.2,552.48 540.18,553.77" fill="none" stroke="#555" stroke-width="1" stroke-linejoin="round"/>
<line x1="545.77" y1="638.09" x2="540.27" y2="629.59" stroke="#222" stroke-width="0.9" stroke-linecap="butt"/>
<line x1="556.72" y1="636.81" x2="551.22" y2="628.31" stroke="#222" stroke-width="0.9" stroke-linecap="butt"/>
<line x1="556.7" y1="560.98" x2="551.2" y2="552.48" stroke="#222" stroke-width="0.9" stroke-linecap="butt"/>
<line x1="545.68" y1="562.27" x2="540.18" y2="553.77" stroke="#222" stroke-width="0.9" stroke-linecap="butt"/>
<polygon points="545.77,638.09 556.72,636.81 551.22,628.31 540.27,629.59" fill="#f4f4f4" stroke="#222" stroke-width="0.9" stroke-linejoin="round"/>
<polygon points="545.7,578.98 556.71,577.69 551.21,569.19 540.2,570.48" fill="#f0f0f0" stroke="#222" stroke-width="0.9" stroke-linejoin="round"/>
<line x1="545.7" y1="578.98" x2="556.71" y2="577.69" stroke="#111" stroke-width="1.7" stroke-linecap="butt"/>
<polygon points="545.72,599.38 556.71,598.1 551.21,589.6 540.22,590.88" fill="#f0f0f0" stroke="#222" stroke-width="0.9" stroke-linejoin="round"/>
<line x1="545.72" y1="599.38" x2="556.71" y2="598.1" stroke="#111" stroke-width="1.7" stroke-linecap="butt"/>
<polygon points="545.74,619.79 556.72,618.5 551.22,610 540.24,611.29" fill="#f0f0f0" stroke="#222" stroke-width="0.9" stroke-linejoin="round"/>
<line x1="545.74" y1="619.79" x2="556.72" y2="618.5" stroke="#111" stroke-width="1.7" stroke-linecap="butt"/>
<g transform="translate(552.51,566.02) rotate(60)"><ellipse cx="0" cy="0" rx="3.2" ry="1.3" fill="#111"/><line x1="2.7" y1="0" x2="4.8" y2="0" stroke="#111" stroke-width="0.7"/></g>
<g transform="translate(549,577.56) rotate(-55)"><ellipse cx="0" cy="0" rx="3.2" ry="1.3" fill="#111"/><line x1="2.7" y1="0" x2="4.8" y2="0" stroke="#111" stroke-width="0.7"/></g>
<g transform="translate(552.53,588.26) rotate(60)"><ellipse cx="0" cy="0" rx="3.2" ry="1.3" fill="#111"/><line x1="2.7" y1="0" x2="4.8" y2="0" stroke="#111" stroke-width="0.7"/></g>
<g transform="translate(549.02,599.8) rotate(-55)"><ellipse cx="0" cy="0" rx="3.2" ry="1.3" fill="#111"/><line x1="2.7" y1="0" x2="4.8" y2="0" stroke="#111" stroke-width="0.7"/></g>
<g transform="translate(552.54,610.51) rotate(60)"><ellipse cx="0" cy="0" rx="3.2" ry="1.3" fill="#111"/><line x1="2.7" y1="0" x2="4.8" y2="0" stroke="#111" stroke-width="0.7"/></g>
<g transform="translate(549.04,622.04) rotate(-55)"><ellipse cx="0" cy="0" rx="3.2" ry="1.3" fill="#111"/><line x1="2.7" y1="0" x2="4.8" y2="0" stroke="#111" stroke-width="0.7"/></g>
<g transform="translate(552.56,632.75) rotate(60)"><ellipse cx="0" cy="0" rx="3.2" ry="1.3" fill="#111"/><line x1="2.7" y1="0" x2="4.8" y2="0" stroke="#111" stroke-width="0.7"/></g>
</g>
<polygon points="545.77,638.09 556.72,636.81 556.7,560.98 545.68,562.27" fill="none" stroke="#111" stroke-width="1.3" stroke-linejoin="round"/>
<line x1="542.39" y1="640.99" x2="542.27" y2="560.17" stroke="#111" stroke-width="1.6" stroke-linecap="butt"/>
<line x1="513.95" y1="603.5" x2="542.33" y2="600.18" stroke="#111" stroke-width="1.5" stroke-linecap="butt"/>
<g transform="translate(527.79,601.98) rotate(-6.67)"><rect x="-4" y="-1.5" width="8" height="3" rx="1.2" fill="#1a1a1a"/><line x1="-2.5" y1="-0.2" x2="2.5" y2="-0.2" stroke="#555" stroke-width="0.5"/></g>
<g transform="translate(527.8,605.38) rotate(-6.67)"><rect x="-4" y="-1.5" width="8" height="3" rx="1.2" fill="#1a1a1a"/><line x1="-2.5" y1="-0.2" x2="2.5" y2="-0.2" stroke="#555" stroke-width="0.5"/></g>
<rect x="541.03" y="598.83" width="2.6" height="6.5" rx="0.8" fill="#1a1a1a"/>
<line x1="542.33" y1="600.03" x2="542.33" y2="604.13" stroke="#555" stroke-width="0.5"/>
<ellipse cx="514.8" cy="646.9" rx="1.5" ry="1.4" fill="#fff" stroke="#111" stroke-width="0.9"/>
<ellipse cx="557.5" cy="641.12" rx="1.5" ry="1.4" fill="#fff" stroke="#111" stroke-width="0.9"/>
<ellipse cx="507.5" cy="639.1" rx="1.5" ry="1.4" fill="#fff" stroke="#111" stroke-width="0.9"/>
<line x1="514.1" y1="644.6" x2="560.1" y2="639.22" stroke="#111" stroke-width="2.4" stroke-linecap="butt"/>
<line x1="514.1" y1="644.3" x2="506.3" y2="636.5" stroke="#111" stroke-width="1.6" stroke-linecap="butt"/>
<line x1="514.1" y1="644.3" x2="513.8" y2="563.5" stroke="#111" stroke-width="2.2" stroke-linecap="square"/>
<line x1="560.1" y1="638.92" x2="560.1" y2="558.08" stroke="#111" stroke-width="1.5" stroke-linecap="butt"/>
<line x1="513.8" y1="564.5" x2="560.1" y2="559.08" stroke="#111" stroke-width="2.4" stroke-linecap="butt"/>
<line x1="513.8" y1="563.5" x2="506" y2="555.7" stroke="#111" stroke-width="1.7" stroke-linecap="butt"/>
<line x1="506" y1="555.7" x2="552.3" y2="550.28" stroke="#111" stroke-width="1.1" stroke-linecap="butt"/>
<line x1="552.3" y1="550.28" x2="560.1" y2="558.08" stroke="#111" stroke-width="1.3" stroke-linecap="butt"/>
<line x1="506" y1="555.7" x2="506.3" y2="636.5" stroke="#333" stroke-width="1.1" stroke-linecap="butt"/>
<text x="533.05" y="676" font-family="Liberation Sans" font-size="11.7" text-anchor="middle" fill="#1a1a1a" font-weight="normal" textLength="48.2" lengthAdjust="spacingAndGlyphs">ШК-5081</text>
<text x="533.05" y="688" font-family="Liberation Sans" font-size="9.4" text-anchor="middle" fill="#1a1a1a" font-weight="normal" textLength="27.5" lengthAdjust="spacingAndGlyphs">Шкаф</text>
<text x="533.05" y="700.8" font-family="Liberation Sans" font-size="10.1" text-anchor="middle" fill="#1a1a1a" font-weight="normal" textLength="63" lengthAdjust="spacingAndGlyphs">1544x900x346</text>
<polygon points="603.5,644.3 603.2,563.5 595.4,555.7 595.7,636.5" fill="#fff" stroke-linejoin="round"/>
<polygon points="603.2,563.5 649.5,558.08 641.7,550.28 595.4,555.7" fill="#fff" stroke-linejoin="round"/>
<polygon points="603.5,644.3 649.5,638.92 649.5,558.08 603.2,563.5" fill="#fff" stroke-linejoin="round"/>
<polygon points="602.89,585.5 630.62,582.26 624.38,576.02 596.65,579.26" fill="none" stroke="#1a1a1a" stroke-width="1.1" stroke-dasharray="2.8 1.7" stroke-linejoin="round"/>
<polygon points="603.04,624.7 630.68,621.47 624.44,615.23 596.8,618.46" fill="none" stroke="#1a1a1a" stroke-width="1.1" stroke-dasharray="2.8 1.7" stroke-linejoin="round"/>
<polygon points="631.79,640.99 649.5,638.92 649.5,558.08 631.67,560.17" fill="#fff" stroke="#111" stroke-width="1.1" stroke-linejoin="round"/>
<clipPath id="c25"><polygon points="635.17,638.09 646.12,636.81 646.1,560.98 635.08,562.27"/></clipPath>
<g clip-path="url(#c25)">
<polygon points="635.17,638.09 646.12,636.81 646.1,560.98 635.08,562.27" fill="#ececec" stroke-linejoin="round"/>
<polygon points="629.67,629.59 640.62,628.31 640.6,552.48 629.58,553.77" fill="none" stroke="#555" stroke-width="1" stroke-linejoin="round"/>
<line x1="635.17" y1="638.09" x2="629.67" y2="629.59" stroke="#222" stroke-width="0.9" stroke-linecap="butt"/>
<line x1="646.12" y1="636.81" x2="640.62" y2="628.31" stroke="#222" stroke-width="0.9" stroke-linecap="butt"/>
<line x1="646.1" y1="560.98" x2="640.6" y2="552.48" stroke="#222" stroke-width="0.9" stroke-linecap="butt"/>
<line x1="635.08" y1="562.27" x2="629.58" y2="553.77" stroke="#222" stroke-width="0.9" stroke-linecap="butt"/>
<polygon points="635.17,638.09 646.12,636.81 640.62,628.31 629.67,629.59" fill="#f4f4f4" stroke="#222" stroke-width="0.9" stroke-linejoin="round"/>
<polygon points="635.1,578.98 646.11,577.69 640.61,569.19 629.6,570.48" fill="#d8e9f6" stroke="#222" stroke-width="0.9" stroke-linejoin="round"/>
<line x1="635.1" y1="578.98" x2="646.11" y2="577.69" stroke="#111" stroke-width="1.7" stroke-linecap="butt"/>
<polygon points="635.12,599.38 646.11,598.1 640.61,589.6 629.62,590.88" fill="#d8e9f6" stroke="#222" stroke-width="0.9" stroke-linejoin="round"/>
<line x1="635.12" y1="599.38" x2="646.11" y2="598.1" stroke="#111" stroke-width="1.7" stroke-linecap="butt"/>
<polygon points="635.14,619.79 646.12,618.5 640.62,610 629.64,611.29" fill="#d8e9f6" stroke="#222" stroke-width="0.9" stroke-linejoin="round"/>
<line x1="635.14" y1="619.79" x2="646.12" y2="618.5" stroke="#111" stroke-width="1.7" stroke-linecap="butt"/>
<g transform="translate(641.91,566.02) rotate(60)"><ellipse cx="0" cy="0" rx="3.2" ry="1.3" fill="#111"/><line x1="2.7" y1="0" x2="4.8" y2="0" stroke="#111" stroke-width="0.7"/></g>
<g transform="translate(638.4,577.56) rotate(-55)"><ellipse cx="0" cy="0" rx="3.2" ry="1.3" fill="#111"/><line x1="2.7" y1="0" x2="4.8" y2="0" stroke="#111" stroke-width="0.7"/></g>
<g transform="translate(641.93,588.26) rotate(60)"><ellipse cx="0" cy="0" rx="3.2" ry="1.3" fill="#111"/><line x1="2.7" y1="0" x2="4.8" y2="0" stroke="#111" stroke-width="0.7"/></g>
<g transform="translate(638.42,599.8) rotate(-55)"><ellipse cx="0" cy="0" rx="3.2" ry="1.3" fill="#111"/><line x1="2.7" y1="0" x2="4.8" y2="0" stroke="#111" stroke-width="0.7"/></g>
<g transform="translate(641.94,610.51) rotate(60)"><ellipse cx="0" cy="0" rx="3.2" ry="1.3" fill="#111"/><line x1="2.7" y1="0" x2="4.8" y2="0" stroke="#111" stroke-width="0.7"/></g>
<g transform="translate(638.44,622.04) rotate(-55)"><ellipse cx="0" cy="0" rx="3.2" ry="1.3" fill="#111"/><line x1="2.7" y1="0" x2="4.8" y2="0" stroke="#111" stroke-width="0.7"/></g>
<g transform="translate(641.96,632.75) rotate(60)"><ellipse cx="0" cy="0" rx="3.2" ry="1.3" fill="#111"/><line x1="2.7" y1="0" x2="4.8" y2="0" stroke="#111" stroke-width="0.7"/></g>
</g>
<polygon points="635.17,638.09 646.12,636.81 646.1,560.98 635.08,562.27" fill="none" stroke="#111" stroke-width="1.3" stroke-linejoin="round"/>
<line x1="631.79" y1="640.99" x2="631.67" y2="560.17" stroke="#111" stroke-width="1.6" stroke-linecap="butt"/>
<line x1="603.35" y1="603.5" x2="631.73" y2="600.18" stroke="#111" stroke-width="1.5" stroke-linecap="butt"/>
<g transform="translate(617.19,601.98) rotate(-6.67)"><rect x="-4" y="-1.5" width="8" height="3" rx="1.2" fill="#1a1a1a"/><line x1="-2.5" y1="-0.2" x2="2.5" y2="-0.2" stroke="#555" stroke-width="0.5"/></g>
<g transform="translate(617.2,605.38) rotate(-6.67)"><rect x="-4" y="-1.5" width="8" height="3" rx="1.2" fill="#1a1a1a"/><line x1="-2.5" y1="-0.2" x2="2.5" y2="-0.2" stroke="#555" stroke-width="0.5"/></g>
<rect x="630.43" y="598.83" width="2.6" height="6.5" rx="0.8" fill="#1a1a1a"/>
<line x1="631.73" y1="600.03" x2="631.73" y2="604.13" stroke="#555" stroke-width="0.5"/>
<ellipse cx="604.2" cy="646.9" rx="1.5" ry="1.4" fill="#fff" stroke="#111" stroke-width="0.9"/>
<ellipse cx="646.9" cy="641.12" rx="1.5" ry="1.4" fill="#fff" stroke="#111" stroke-width="0.9"/>
<ellipse cx="596.9" cy="639.1" rx="1.5" ry="1.4" fill="#fff" stroke="#111" stroke-width="0.9"/>
<line x1="603.5" y1="644.6" x2="649.5" y2="639.22" stroke="#111" stroke-width="2.4" stroke-linecap="butt"/>
<line x1="603.5" y1="644.3" x2="595.7" y2="636.5" stroke="#111" stroke-width="1.6" stroke-linecap="butt"/>
<line x1="603.5" y1="644.3" x2="603.2" y2="563.5" stroke="#111" stroke-width="2.2" stroke-linecap="square"/>
<line x1="649.5" y1="638.92" x2="649.5" y2="558.08" stroke="#111" stroke-width="1.5" stroke-linecap="butt"/>
<line x1="603.2" y1="564.5" x2="649.5" y2="559.08" stroke="#111" stroke-width="2.4" stroke-linecap="butt"/>
<line x1="603.2" y1="563.5" x2="595.4" y2="555.7" stroke="#111" stroke-width="1.7" stroke-linecap="butt"/>
<line x1="595.4" y1="555.7" x2="641.7" y2="550.28" stroke="#111" stroke-width="1.1" stroke-linecap="butt"/>
<line x1="641.7" y1="550.28" x2="649.5" y2="558.08" stroke="#111" stroke-width="1.3" stroke-linecap="butt"/>
<line x1="595.4" y1="555.7" x2="595.7" y2="636.5" stroke="#333" stroke-width="1.1" stroke-linecap="butt"/>
<text x="622.45" y="676" font-family="Liberation Sans" font-size="11.7" text-anchor="middle" fill="#1a1a1a" font-weight="normal" textLength="48.2" lengthAdjust="spacingAndGlyphs">ШК-5082</text>
<text x="622.45" y="688" font-family="Liberation Sans" font-size="9.4" text-anchor="middle" fill="#1a1a1a" font-weight="normal" textLength="27.5" lengthAdjust="spacingAndGlyphs">Шкаф</text>
<text x="622.45" y="700.8" font-family="Liberation Sans" font-size="10.1" text-anchor="middle" fill="#1a1a1a" font-weight="normal" textLength="63" lengthAdjust="spacingAndGlyphs">1544x900x346</text>
<polygon points="692.3,644.3 692,563.5 683.8,555.7 684.1,636.5" fill="#fff" stroke-linejoin="round"/>
<polygon points="692,563.5 738.2,558.09 730,550.29 683.8,555.7" fill="#fff" stroke-linejoin="round"/>
<polygon points="692.3,644.3 738.2,638.93 738.2,558.09 692,563.5" fill="#fff" stroke-linejoin="round"/>
<polygon points="718.42,583.27 737.79,581 731.23,574.76 711.86,577.03" fill="none" stroke="#1a1a1a" stroke-width="1.1" stroke-dasharray="2.8 1.7" stroke-linejoin="round"/>
<polygon points="718.45,602.48 737.79,600.21 731.23,593.97 711.89,596.24" fill="none" stroke="#1a1a1a" stroke-width="1.1" stroke-dasharray="2.8 1.7" stroke-linejoin="round"/>
<polygon points="691.82,624.7 737.79,619.32 731.23,613.08 685.26,618.46" fill="none" stroke="#1a1a1a" stroke-width="1.1" stroke-dasharray="2.8 1.7" stroke-linejoin="round"/>
<polygon points="692.15,603.8 718.67,600.7 718.61,560.39 692,563.5" fill="#fff" stroke="#111" stroke-width="1.1" stroke-linejoin="round"/>
<clipPath id="c26"><polygon points="695.53,600.9 715.28,598.59 715.22,563.28 695.41,565.6"/></clipPath>
<g clip-path="url(#c26)">
<polygon points="695.53,600.9 715.28,598.59 715.22,563.28 695.41,565.6" fill="#ececec" stroke-linejoin="round"/>
<polygon points="690.03,592.4 709.78,590.09 709.72,554.78 689.91,557.1" fill="none" stroke="#555" stroke-width="1" stroke-linejoin="round"/>
<line x1="695.53" y1="600.9" x2="690.03" y2="592.4" stroke="#222" stroke-width="0.9" stroke-linecap="butt"/>
<line x1="715.28" y1="598.59" x2="709.78" y2="590.09" stroke="#222" stroke-width="0.9" stroke-linecap="butt"/>
<line x1="715.22" y1="563.28" x2="709.72" y2="554.78" stroke="#222" stroke-width="0.9" stroke-linecap="butt"/>
<line x1="695.41" y1="565.6" x2="689.91" y2="557.1" stroke="#222" stroke-width="0.9" stroke-linecap="butt"/>
<polygon points="695.53,600.9 715.28,598.59 709.78,590.09 690.03,592.4" fill="#f4f4f4" stroke="#222" stroke-width="0.9" stroke-linejoin="round"/>
<polygon points="695.47,583.6 715.25,581.29 709.75,572.79 689.97,575.1" fill="#f0f0f0" stroke="#222" stroke-width="0.9" stroke-linejoin="round"/>
<line x1="695.47" y1="583.6" x2="715.25" y2="581.29" stroke="#111" stroke-width="1.7" stroke-linecap="butt"/>
<g transform="translate(709.29,569.28) rotate(60)"><ellipse cx="0" cy="0" rx="3.2" ry="1.3" fill="#111"/><line x1="2.7" y1="0" x2="4.8" y2="0" stroke="#111" stroke-width="0.7"/></g>
<g transform="translate(702.39,581.38) rotate(-50)"><ellipse cx="0" cy="0" rx="3.2" ry="1.3" fill="#111"/><line x1="2.7" y1="0" x2="4.8" y2="0" stroke="#111" stroke-width="0.7"/></g>
<g transform="translate(709.73,591.47) rotate(60)"><ellipse cx="0" cy="0" rx="3.2" ry="1.3" fill="#111"/><line x1="2.7" y1="0" x2="4.8" y2="0" stroke="#111" stroke-width="0.7"/></g>
</g>
<polygon points="695.53,600.9 715.28,598.59 715.22,563.28 695.41,565.6" fill="none" stroke="#111" stroke-width="1.3" stroke-linejoin="round"/>
<line x1="718.74" y1="641.21" x2="718.61" y2="560.39" stroke="#111" stroke-width="1.6" stroke-linecap="butt"/>
<line x1="692.15" y1="604.5" x2="718.68" y2="601.4" stroke="#111" stroke-width="1.5" stroke-linecap="butt"/>
<g transform="translate(705.97,602.98) rotate(-6.67)"><rect x="-4" y="-1.5" width="8" height="3" rx="1.2" fill="#1a1a1a"/><line x1="-2.5" y1="-0.2" x2="2.5" y2="-0.2" stroke="#555" stroke-width="0.5"/></g>
<g transform="translate(705.97,605.98) rotate(-6.67)"><rect x="-4" y="-1.5" width="8" height="3" rx="1.2" fill="#1a1a1a"/><line x1="-2.5" y1="-0.2" x2="2.5" y2="-0.2" stroke="#555" stroke-width="0.5"/></g>
<rect x="717.17" y="597.4" width="3" height="7" rx="0.8" fill="#1a1a1a"/>
<line x1="718.67" y1="598.6" x2="718.67" y2="603.2" stroke="#555" stroke-width="0.5"/>
<ellipse cx="693" cy="646.9" rx="1.5" ry="1.4" fill="#fff" stroke="#111" stroke-width="0.9"/>
<ellipse cx="735.6" cy="641.13" rx="1.5" ry="1.4" fill="#fff" stroke="#111" stroke-width="0.9"/>
<ellipse cx="685.3" cy="639.1" rx="1.5" ry="1.4" fill="#fff" stroke="#111" stroke-width="0.9"/>
<line x1="692.3" y1="644.6" x2="738.2" y2="639.23" stroke="#111" stroke-width="2.4" stroke-linecap="butt"/>
<line x1="692.3" y1="644.3" x2="684.1" y2="636.5" stroke="#111" stroke-width="1.6" stroke-linecap="butt"/>
<line x1="692.3" y1="644.3" x2="692" y2="563.5" stroke="#111" stroke-width="2.2" stroke-linecap="square"/>
<line x1="738.2" y1="638.93" x2="738.2" y2="558.09" stroke="#111" stroke-width="1.5" stroke-linecap="butt"/>
<line x1="692" y1="564.5" x2="738.2" y2="559.09" stroke="#111" stroke-width="2.4" stroke-linecap="butt"/>
<line x1="692" y1="563.5" x2="683.8" y2="555.7" stroke="#111" stroke-width="1.7" stroke-linecap="butt"/>
<line x1="683.8" y1="555.7" x2="730" y2="550.29" stroke="#111" stroke-width="1.1" stroke-linecap="butt"/>
<line x1="730" y1="550.29" x2="738.2" y2="558.09" stroke="#111" stroke-width="1.3" stroke-linecap="butt"/>
<line x1="683.8" y1="555.7" x2="684.1" y2="636.5" stroke="#333" stroke-width="1.1" stroke-linecap="butt"/>
<text x="711" y="676" font-family="Liberation Sans" font-size="11.7" text-anchor="middle" fill="#1a1a1a" font-weight="normal" textLength="48.2" lengthAdjust="spacingAndGlyphs">ШК-5083</text>
<text x="711" y="688" font-family="Liberation Sans" font-size="9.4" text-anchor="middle" fill="#1a1a1a" font-weight="normal" textLength="27.5" lengthAdjust="spacingAndGlyphs">Шкаф</text>
<text x="711" y="700.8" font-family="Liberation Sans" font-size="10.1" text-anchor="middle" fill="#1a1a1a" font-weight="normal" textLength="63" lengthAdjust="spacingAndGlyphs">1544x900x346</text>
<polygon points="778.5,644.3 778.2,563.5 770,555.7 770.3,636.5" fill="#fff" stroke-linejoin="round"/>
<polygon points="778.2,563.5 824.4,558.09 816.2,550.29 770,555.7" fill="#fff" stroke-linejoin="round"/>
<polygon points="778.5,644.3 824.4,638.93 824.4,558.09 778.2,563.5" fill="#fff" stroke-linejoin="round"/>
<polygon points="804.62,583.27 823.99,581 817.43,574.76 798.06,577.03" fill="none" stroke="#1a1a1a" stroke-width="1.1" stroke-dasharray="2.8 1.7" stroke-linejoin="round"/>
<polygon points="804.65,602.48 823.99,600.21 817.43,593.97 798.09,596.24" fill="none" stroke="#1a1a1a" stroke-width="1.1" stroke-dasharray="2.8 1.7" stroke-linejoin="round"/>
<polygon points="778.02,624.7 823.99,619.32 817.43,613.08 771.46,618.46" fill="none" stroke="#1a1a1a" stroke-width="1.1" stroke-dasharray="2.8 1.7" stroke-linejoin="round"/>
<polygon points="778.35,603.8 804.87,600.7 804.81,560.39 778.2,563.5" fill="#fff" stroke="#111" stroke-width="1.1" stroke-linejoin="round"/>
<clipPath id="c27"><polygon points="781.73,600.9 801.48,598.59 801.42,563.28 781.61,565.6"/></clipPath>
<g clip-path="url(#c27)">
<polygon points="781.73,600.9 801.48,598.59 801.42,563.28 781.61,565.6" fill="#ececec" stroke-linejoin="round"/>
<polygon points="776.23,592.4 795.98,590.09 795.92,554.78 776.11,557.1" fill="none" stroke="#555" stroke-width="1" stroke-linejoin="round"/>
<line x1="781.73" y1="600.9" x2="776.23" y2="592.4" stroke="#222" stroke-width="0.9" stroke-linecap="butt"/>
<line x1="801.48" y1="598.59" x2="795.98" y2="590.09" stroke="#222" stroke-width="0.9" stroke-linecap="butt"/>
<line x1="801.42" y1="563.28" x2="795.92" y2="554.78" stroke="#222" stroke-width="0.9" stroke-linecap="butt"/>
<line x1="781.61" y1="565.6" x2="776.11" y2="557.1" stroke="#222" stroke-width="0.9" stroke-linecap="butt"/>
<polygon points="781.73,600.9 801.48,598.59 795.98,590.09 776.23,592.4" fill="#f4f4f4" stroke="#222" stroke-width="0.9" stroke-linejoin="round"/>
<polygon points="781.67,583.6 801.45,581.29 795.95,572.79 776.17,575.1" fill="#d8e9f6" stroke="#222" stroke-width="0.9" stroke-linejoin="round"/>
<line x1="781.67" y1="583.6" x2="801.45" y2="581.29" stroke="#111" stroke-width="1.7" stroke-linecap="butt"/>
<g transform="translate(795.49,569.28) rotate(60)"><ellipse cx="0" cy="0" rx="3.2" ry="1.3" fill="#111"/><line x1="2.7" y1="0" x2="4.8" y2="0" stroke="#111" stroke-width="0.7"/></g>
<g transform="translate(788.59,581.38) rotate(-50)"><ellipse cx="0" cy="0" rx="3.2" ry="1.3" fill="#111"/><line x1="2.7" y1="0" x2="4.8" y2="0" stroke="#111" stroke-width="0.7"/></g>
<g transform="translate(795.93,591.47) rotate(60)"><ellipse cx="0" cy="0" rx="3.2" ry="1.3" fill="#111"/><line x1="2.7" y1="0" x2="4.8" y2="0" stroke="#111" stroke-width="0.7"/></g>
</g>
<polygon points="781.73,600.9 801.48,598.59 801.42,563.28 781.61,565.6" fill="none" stroke="#111" stroke-width="1.3" stroke-linejoin="round"/>
<line x1="804.94" y1="641.21" x2="804.81" y2="560.39" stroke="#111" stroke-width="1.6" stroke-linecap="butt"/>
<line x1="778.35" y1="604.5" x2="804.88" y2="601.4" stroke="#111" stroke-width="1.5" stroke-linecap="butt"/>
<g transform="translate(792.17,602.98) rotate(-6.67)"><rect x="-4" y="-1.5" width="8" height="3" rx="1.2" fill="#1a1a1a"/><line x1="-2.5" y1="-0.2" x2="2.5" y2="-0.2" stroke="#555" stroke-width="0.5"/></g>
<g transform="translate(792.17,605.98) rotate(-6.67)"><rect x="-4" y="-1.5" width="8" height="3" rx="1.2" fill="#1a1a1a"/><line x1="-2.5" y1="-0.2" x2="2.5" y2="-0.2" stroke="#555" stroke-width="0.5"/></g>
<rect x="803.37" y="597.4" width="3" height="7" rx="0.8" fill="#1a1a1a"/>
<line x1="804.87" y1="598.6" x2="804.87" y2="603.2" stroke="#555" stroke-width="0.5"/>
<ellipse cx="779.2" cy="646.9" rx="1.5" ry="1.4" fill="#fff" stroke="#111" stroke-width="0.9"/>
<ellipse cx="821.8" cy="641.13" rx="1.5" ry="1.4" fill="#fff" stroke="#111" stroke-width="0.9"/>
<ellipse cx="771.5" cy="639.1" rx="1.5" ry="1.4" fill="#fff" stroke="#111" stroke-width="0.9"/>
<line x1="778.5" y1="644.6" x2="824.4" y2="639.23" stroke="#111" stroke-width="2.4" stroke-linecap="butt"/>
<line x1="778.5" y1="644.3" x2="770.3" y2="636.5" stroke="#111" stroke-width="1.6" stroke-linecap="butt"/>
<line x1="778.5" y1="644.3" x2="778.2" y2="563.5" stroke="#111" stroke-width="2.2" stroke-linecap="square"/>
<line x1="824.4" y1="638.93" x2="824.4" y2="558.09" stroke="#111" stroke-width="1.5" stroke-linecap="butt"/>
<line x1="778.2" y1="564.5" x2="824.4" y2="559.09" stroke="#111" stroke-width="2.4" stroke-linecap="butt"/>
<line x1="778.2" y1="563.5" x2="770" y2="555.7" stroke="#111" stroke-width="1.7" stroke-linecap="butt"/>
<line x1="770" y1="555.7" x2="816.2" y2="550.29" stroke="#111" stroke-width="1.1" stroke-linecap="butt"/>
<line x1="816.2" y1="550.29" x2="824.4" y2="558.09" stroke="#111" stroke-width="1.3" stroke-linecap="butt"/>
<line x1="770" y1="555.7" x2="770.3" y2="636.5" stroke="#333" stroke-width="1.1" stroke-linecap="butt"/>
<text x="797.2" y="676" font-family="Liberation Sans" font-size="11.7" text-anchor="middle" fill="#1a1a1a" font-weight="normal" textLength="48.2" lengthAdjust="spacingAndGlyphs">ШК-5084</text>
<text x="797.2" y="688" font-family="Liberation Sans" font-size="9.4" text-anchor="middle" fill="#1a1a1a" font-weight="normal" textLength="27.5" lengthAdjust="spacingAndGlyphs">Шкаф</text>
<text x="797.2" y="700.8" font-family="Liberation Sans" font-size="10.1" text-anchor="middle" fill="#1a1a1a" font-weight="normal" textLength="63" lengthAdjust="spacingAndGlyphs">1544x900x346</text>
<polygon points="870.3,643.5 869.9,564.4 861.8,556.2 862.2,635.3" fill="#fff" stroke-linejoin="round"/>
<polygon points="869.9,564.4 897.1,561.22 889,553.02 861.8,556.2" fill="#fff" stroke-linejoin="round"/>
<polygon points="870.3,643.5 897.1,640.36 897.1,561.22 869.9,564.4" fill="#fff" stroke-linejoin="round"/>
<polygon points="869.39,623.2 896.29,620.05 890.22,613.9 863.32,617.05" fill="none" stroke="#1a1a1a" stroke-width="1.1" stroke-dasharray="2.8 1.7" stroke-linejoin="round"/>
<polygon points="870.09,602.2 897.1,599.04 897.1,561.22 869.9,564.4" fill="#fff" stroke="#111" stroke-width="1.1" stroke-linejoin="round"/>
<clipPath id="c28"><polygon points="873.46,599.3 893.72,596.93 893.7,564.12 873.31,566.5"/></clipPath>
<g clip-path="url(#c28)">
<polygon points="873.46,599.3 893.72,596.93 893.7,564.12 873.31,566.5" fill="#ececec" stroke-linejoin="round"/>
<polygon points="867.96,590.8 888.22,588.43 888.2,555.62 867.81,558" fill="none" stroke="#555" stroke-width="1" stroke-linejoin="round"/>
<line x1="873.46" y1="599.3" x2="867.96" y2="590.8" stroke="#222" stroke-width="0.9" stroke-linecap="butt"/>
<line x1="893.72" y1="596.93" x2="888.22" y2="588.43" stroke="#222" stroke-width="0.9" stroke-linecap="butt"/>
<line x1="893.7" y1="564.12" x2="888.2" y2="555.62" stroke="#222" stroke-width="0.9" stroke-linecap="butt"/>
<line x1="873.31" y1="566.5" x2="867.81" y2="558" stroke="#222" stroke-width="0.9" stroke-linecap="butt"/>
<polygon points="873.46,599.3 893.72,596.93 888.22,588.43 867.96,590.8" fill="#f4f4f4" stroke="#222" stroke-width="0.9" stroke-linejoin="round"/>
<polygon points="873.39,583.6 893.71,581.23 888.21,572.73 867.89,575.1" fill="#f0f0f0" stroke="#222" stroke-width="0.9" stroke-linejoin="round"/>
<line x1="873.39" y1="583.6" x2="893.71" y2="581.23" stroke="#111" stroke-width="1.7" stroke-linecap="butt"/>
<g transform="translate(886.57,569.87) rotate(60)"><ellipse cx="0" cy="0" rx="3.2" ry="1.3" fill="#111"/><line x1="2.7" y1="0" x2="4.8" y2="0" stroke="#111" stroke-width="0.7"/></g>
<g transform="translate(880.5,581.09) rotate(-50)"><ellipse cx="0" cy="0" rx="3.2" ry="1.3" fill="#111"/><line x1="2.7" y1="0" x2="4.8" y2="0" stroke="#111" stroke-width="0.7"/></g>
<g transform="translate(887.63,590.43) rotate(60)"><ellipse cx="0" cy="0" rx="3.2" ry="1.3" fill="#111"/><line x1="2.7" y1="0" x2="4.8" y2="0" stroke="#111" stroke-width="0.7"/></g>
</g>
<polygon points="873.46,599.3 893.72,596.93 893.7,564.12 873.31,566.5" fill="none" stroke="#111" stroke-width="1.3" stroke-linejoin="round"/>
<line x1="870.09" y1="602.8" x2="897.1" y2="599.64" stroke="#111" stroke-width="1.5" stroke-linecap="butt"/>
<g transform="translate(883.6,601.62) rotate(-6.67)"><rect x="-4" y="-1.5" width="8" height="3" rx="1.2" fill="#1a1a1a"/><line x1="-2.5" y1="-0.2" x2="2.5" y2="-0.2" stroke="#555" stroke-width="0.5"/></g>
<g transform="translate(883.61,604.82) rotate(-6.67)"><rect x="-4" y="-1.5" width="8" height="3" rx="1.2" fill="#1a1a1a"/><line x1="-2.5" y1="-0.2" x2="2.5" y2="-0.2" stroke="#555" stroke-width="0.5"/></g>
<ellipse cx="871" cy="646.1" rx="1.5" ry="1.4" fill="#fff" stroke="#111" stroke-width="0.9"/>
<ellipse cx="894.5" cy="642.56" rx="1.5" ry="1.4" fill="#fff" stroke="#111" stroke-width="0.9"/>
<ellipse cx="863.4" cy="637.9" rx="1.5" ry="1.4" fill="#fff" stroke="#111" stroke-width="0.9"/>
<line x1="870.3" y1="643.8" x2="897.1" y2="640.66" stroke="#111" stroke-width="2.4" stroke-linecap="butt"/>
<line x1="870.3" y1="643.5" x2="862.2" y2="635.3" stroke="#111" stroke-width="1.6" stroke-linecap="butt"/>
<line x1="870.3" y1="643.5" x2="869.9" y2="564.4" stroke="#111" stroke-width="2.2" stroke-linecap="square"/>
<line x1="897.1" y1="640.36" x2="897.1" y2="561.22" stroke="#111" stroke-width="1.5" stroke-linecap="butt"/>
<line x1="869.9" y1="565.4" x2="897.1" y2="562.22" stroke="#111" stroke-width="2.4" stroke-linecap="butt"/>
<line x1="869.9" y1="564.4" x2="861.8" y2="556.2" stroke="#111" stroke-width="1.7" stroke-linecap="butt"/>
<line x1="861.8" y1="556.2" x2="889" y2="553.02" stroke="#111" stroke-width="1.1" stroke-linecap="butt"/>
<line x1="889" y1="553.02" x2="897.1" y2="561.22" stroke="#111" stroke-width="1.3" stroke-linecap="butt"/>
<line x1="861.8" y1="556.2" x2="862.2" y2="635.3" stroke="#333" stroke-width="1.1" stroke-linecap="butt"/>
<text x="879.45" y="676" font-family="Liberation Sans" font-size="11.7" text-anchor="middle" fill="#1a1a1a" font-weight="normal" textLength="48.2" lengthAdjust="spacingAndGlyphs">ШК-5085</text>
<text x="879.45" y="688" font-family="Liberation Sans" font-size="9.4" text-anchor="middle" fill="#1a1a1a" font-weight="normal" textLength="27.5" lengthAdjust="spacingAndGlyphs">Шкаф</text>
<text x="879.45" y="700.8" font-family="Liberation Sans" font-size="10.1" text-anchor="middle" fill="#1a1a1a" font-weight="normal" textLength="63" lengthAdjust="spacingAndGlyphs">1544x540x346</text>
<polygon points="947.4,643.5 947,564.4 938.9,556.2 939.3,635.3" fill="#fff" stroke-linejoin="round"/>
<polygon points="947,564.4 974.2,561.22 966.1,553.02 938.9,556.2" fill="#fff" stroke-linejoin="round"/>
<polygon points="947.4,643.5 974.2,640.36 974.2,561.22 947,564.4" fill="#fff" stroke-linejoin="round"/>
<polygon points="946.49,623.2 973.39,620.05 967.32,613.9 940.42,617.05" fill="none" stroke="#1a1a1a" stroke-width="1.1" stroke-dasharray="2.8 1.7" stroke-linejoin="round"/>
<polygon points="947.19,602.2 974.2,599.04 974.2,561.22 947,564.4" fill="#fff" stroke="#111" stroke-width="1.1" stroke-linejoin="round"/>
<clipPath id="c29"><polygon points="950.56,599.3 970.82,596.93 970.8,564.12 950.41,566.5"/></clipPath>
<g clip-path="url(#c29)">
<polygon points="950.56,599.3 970.82,596.93 970.8,564.12 950.41,566.5" fill="#ececec" stroke-linejoin="round"/>
<polygon points="945.06,590.8 965.32,588.43 965.3,555.62 944.91,558" fill="none" stroke="#555" stroke-width="1" stroke-linejoin="round"/>
<line x1="950.56" y1="599.3" x2="945.06" y2="590.8" stroke="#222" stroke-width="0.9" stroke-linecap="butt"/>
<line x1="970.82" y1="596.93" x2="965.32" y2="588.43" stroke="#222" stroke-width="0.9" stroke-linecap="butt"/>
<line x1="970.8" y1="564.12" x2="965.3" y2="555.62" stroke="#222" stroke-width="0.9" stroke-linecap="butt"/>
<line x1="950.41" y1="566.5" x2="944.91" y2="558" stroke="#222" stroke-width="0.9" stroke-linecap="butt"/>
<polygon points="950.56,599.3 970.82,596.93 965.32,588.43 945.06,590.8" fill="#f4f4f4" stroke="#222" stroke-width="0.9" stroke-linejoin="round"/>
<polygon points="950.49,583.6 970.81,581.23 965.31,572.73 944.99,575.1" fill="#d8e9f6" stroke="#222" stroke-width="0.9" stroke-linejoin="round"/>
<line x1="950.49" y1="583.6" x2="970.81" y2="581.23" stroke="#111" stroke-width="1.7" stroke-linecap="butt"/>
<g transform="translate(963.67,569.87) rotate(60)"><ellipse cx="0" cy="0" rx="3.2" ry="1.3" fill="#111"/><line x1="2.7" y1="0" x2="4.8" y2="0" stroke="#111" stroke-width="0.7"/></g>
<g transform="translate(957.6,581.09) rotate(-50)"><ellipse cx="0" cy="0" rx="3.2" ry="1.3" fill="#111"/><line x1="2.7" y1="0" x2="4.8" y2="0" stroke="#111" stroke-width="0.7"/></g>
<g transform="translate(964.73,590.43) rotate(60)"><ellipse cx="0" cy="0" rx="3.2" ry="1.3" fill="#111"/><line x1="2.7" y1="0" x2="4.8" y2="0" stroke="#111" stroke-width="0.7"/></g>
</g>
<polygon points="950.56,599.3 970.82,596.93 970.8,564.12 950.41,566.5" fill="none" stroke="#111" stroke-width="1.3" stroke-linejoin="round"/>
<line x1="947.19" y1="602.8" x2="974.2" y2="599.64" stroke="#111" stroke-width="1.5" stroke-linecap="butt"/>
<g transform="translate(960.7,601.62) rotate(-6.67)"><rect x="-4" y="-1.5" width="8" height="3" rx="1.2" fill="#1a1a1a"/><line x1="-2.5" y1="-0.2" x2="2.5" y2="-0.2" stroke="#555" stroke-width="0.5"/></g>
<g transform="translate(960.71,604.82) rotate(-6.67)"><rect x="-4" y="-1.5" width="8" height="3" rx="1.2" fill="#1a1a1a"/><line x1="-2.5" y1="-0.2" x2="2.5" y2="-0.2" stroke="#555" stroke-width="0.5"/></g>
<ellipse cx="948.1" cy="646.1" rx="1.5" ry="1.4" fill="#fff" stroke="#111" stroke-width="0.9"/>
<ellipse cx="971.6" cy="642.56" rx="1.5" ry="1.4" fill="#fff" stroke="#111" stroke-width="0.9"/>
<ellipse cx="940.5" cy="637.9" rx="1.5" ry="1.4" fill="#fff" stroke="#111" stroke-width="0.9"/>
<line x1="947.4" y1="643.8" x2="974.2" y2="640.66" stroke="#111" stroke-width="2.4" stroke-linecap="butt"/>
<line x1="947.4" y1="643.5" x2="939.3" y2="635.3" stroke="#111" stroke-width="1.6" stroke-linecap="butt"/>
<line x1="947.4" y1="643.5" x2="947" y2="564.4" stroke="#111" stroke-width="2.2" stroke-linecap="square"/>
<line x1="974.2" y1="640.36" x2="974.2" y2="561.22" stroke="#111" stroke-width="1.5" stroke-linecap="butt"/>
<line x1="947" y1="565.4" x2="974.2" y2="562.22" stroke="#111" stroke-width="2.4" stroke-linecap="butt"/>
<line x1="947" y1="564.4" x2="938.9" y2="556.2" stroke="#111" stroke-width="1.7" stroke-linecap="butt"/>
<line x1="938.9" y1="556.2" x2="966.1" y2="553.02" stroke="#111" stroke-width="1.1" stroke-linecap="butt"/>
<line x1="966.1" y1="553.02" x2="974.2" y2="561.22" stroke="#111" stroke-width="1.3" stroke-linecap="butt"/>
<line x1="938.9" y1="556.2" x2="939.3" y2="635.3" stroke="#333" stroke-width="1.1" stroke-linecap="butt"/>
<text x="956.55" y="676" font-family="Liberation Sans" font-size="11.7" text-anchor="middle" fill="#1a1a1a" font-weight="normal" textLength="48.2" lengthAdjust="spacingAndGlyphs">ШК-5086</text>
<text x="956.55" y="688" font-family="Liberation Sans" font-size="9.4" text-anchor="middle" fill="#1a1a1a" font-weight="normal" textLength="27.5" lengthAdjust="spacingAndGlyphs">Шкаф</text>
<text x="956.55" y="700.8" font-family="Liberation Sans" font-size="10.1" text-anchor="middle" fill="#1a1a1a" font-weight="normal" textLength="63" lengthAdjust="spacingAndGlyphs">1544x540x346</text>
<polygon points="1028.2,643.5 1027.6,564 1019.5,556.2 1020.1,635.7" fill="#fff" stroke-linejoin="round"/>
<polygon points="1027.6,564 1054,560.91 1045.9,553.11 1019.5,556.2" fill="#fff" stroke-linejoin="round"/>
<polygon points="1028.2,643.5 1054,640.48 1054,560.91 1027.6,564" fill="#fff" stroke-linejoin="round"/>
<polygon points="1027.35,583.6 1053.6,580.53 1047.12,574.29 1020.87,577.36" fill="none" stroke="#1a1a1a" stroke-width="1.1" stroke-dasharray="2.8 1.7" stroke-linejoin="round"/>
<polygon points="1027.64,623.2 1053.6,620.16 1047.12,613.92 1021.16,616.96" fill="none" stroke="#1a1a1a" stroke-width="1.1" stroke-dasharray="2.8 1.7" stroke-linejoin="round"/>
<line x1="1027.91" y1="604.5" x2="1054" y2="601.45" stroke="#111" stroke-width="1.5" stroke-linecap="butt"/>
<g transform="translate(1040.95,601.47) rotate(-6.67)"><rect x="-4" y="-1.5" width="8" height="3" rx="1.2" fill="#1a1a1a"/><line x1="-2.5" y1="-0.2" x2="2.5" y2="-0.2" stroke="#555" stroke-width="0.5"/></g>
<g transform="translate(1040.96,604.87) rotate(-6.67)"><rect x="-4" y="-1.5" width="8" height="3" rx="1.2" fill="#1a1a1a"/><line x1="-2.5" y1="-0.2" x2="2.5" y2="-0.2" stroke="#555" stroke-width="0.5"/></g>
<ellipse cx="1028.9" cy="646.1" rx="1.5" ry="1.4" fill="#fff" stroke="#111" stroke-width="0.9"/>
<ellipse cx="1051.4" cy="642.68" rx="1.5" ry="1.4" fill="#fff" stroke="#111" stroke-width="0.9"/>
<ellipse cx="1021.3" cy="638.3" rx="1.5" ry="1.4" fill="#fff" stroke="#111" stroke-width="0.9"/>
<line x1="1028.2" y1="643.8" x2="1054" y2="640.78" stroke="#111" stroke-width="2.4" stroke-linecap="butt"/>
<line x1="1028.2" y1="643.5" x2="1020.1" y2="635.7" stroke="#111" stroke-width="1.6" stroke-linecap="butt"/>
<line x1="1028.2" y1="643.5" x2="1027.6" y2="564" stroke="#111" stroke-width="2.2" stroke-linecap="square"/>
<line x1="1054" y1="640.48" x2="1054" y2="560.91" stroke="#111" stroke-width="1.5" stroke-linecap="butt"/>
<line x1="1027.6" y1="565" x2="1054" y2="561.91" stroke="#111" stroke-width="2.4" stroke-linecap="butt"/>
<line x1="1027.6" y1="564" x2="1019.5" y2="556.2" stroke="#111" stroke-width="1.7" stroke-linecap="butt"/>
<line x1="1019.5" y1="556.2" x2="1045.9" y2="553.11" stroke="#111" stroke-width="1.1" stroke-linecap="butt"/>
<line x1="1045.9" y1="553.11" x2="1054" y2="560.91" stroke="#111" stroke-width="1.3" stroke-linecap="butt"/>
<line x1="1019.5" y1="556.2" x2="1020.1" y2="635.7" stroke="#333" stroke-width="1.1" stroke-linecap="butt"/>
<text x="1036.75" y="676" font-family="Liberation Sans" font-size="11.7" text-anchor="middle" fill="#1a1a1a" font-weight="normal" textLength="48.2" lengthAdjust="spacingAndGlyphs">ШК-5087</text>
<text x="1036.75" y="688" font-family="Liberation Sans" font-size="9.4" text-anchor="middle" fill="#1a1a1a" font-weight="normal" textLength="27.5" lengthAdjust="spacingAndGlyphs">Шкаф</text>
<text x="1036.75" y="700.8" font-family="Liberation Sans" font-size="10.1" text-anchor="middle" fill="#1a1a1a" font-weight="normal" textLength="63" lengthAdjust="spacingAndGlyphs">1544x540x346</text>
</svg></body></html>
